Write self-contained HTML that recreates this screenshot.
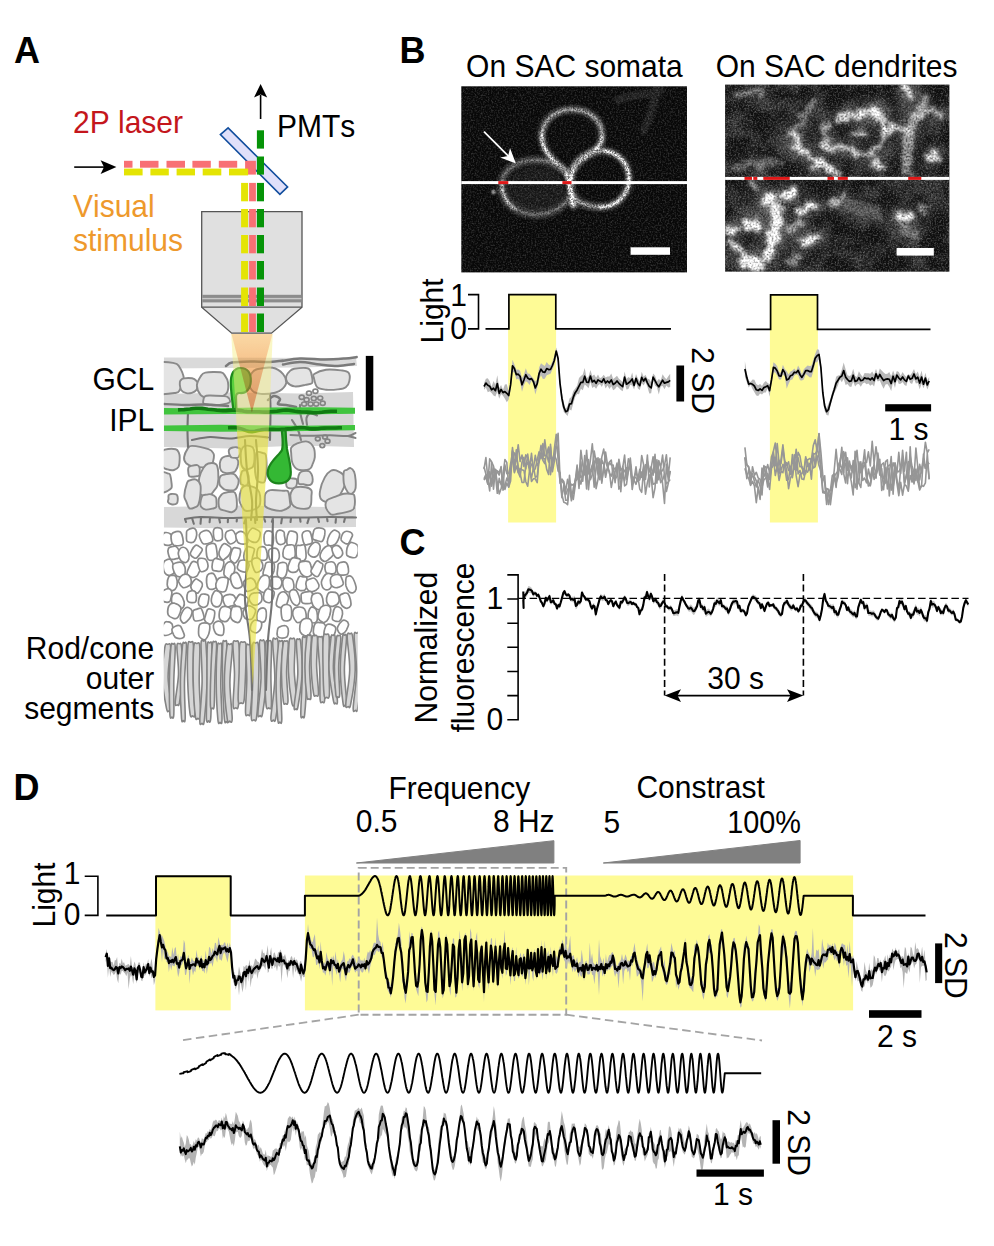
<!DOCTYPE html>
<html><head><meta charset="utf-8"><title>Figure</title>
<style>
html,body{margin:0;padding:0;background:#fff;}
body{width:994px;height:1246px;overflow:hidden;}
svg{display:block;}
text{font-family:"Liberation Sans",sans-serif;font-size:30px;fill:#000;font-kerning:none;}
.b{font-weight:bold;font-size:36px;}
</style></head><body>
<svg width="994" height="1246" viewBox="0 0 994 1246">
<text transform="translate(14 63.2) scale(1 1.04)" class="b">A</text>
<text transform="translate(73 132.8) scale(1 1.04)" style="fill:#c4161c">2P laser</text>
<text transform="translate(73 216.8) scale(1 1.04)" style="fill:#ee992c">Visual</text>
<text transform="translate(73 251.3) scale(1 1.04)" style="fill:#ee992c">stimulus</text>
<text transform="translate(277 136.5) scale(1 1.04)">PMTs</text>
<text transform="translate(154.2 390.3) scale(1 1.04)" text-anchor="end">GCL</text>
<text transform="translate(154.2 430.5) scale(1 1.04)" text-anchor="end">IPL</text>
<text transform="translate(154.2 658.6) scale(1 1.04)" text-anchor="end">Rod/cone</text>
<text transform="translate(154.2 688.5) scale(1 1.04)" text-anchor="end">outer</text>
<text transform="translate(154.2 718.6) scale(1 1.04)" text-anchor="end">segments</text>
<path d="M74.2 167.1H104" stroke="#000" stroke-width="1.6" fill="none"/>
<path d="M116.4 167.1L100.6 160.3L104 167.1L100.6 174Z" fill="#000"/>
<path d="M260.6 119V95" stroke="#000" stroke-width="1.6" fill="none"/>
<path d="M260.6 84L254 97.5L260.6 94.5L267.2 97.5Z" fill="#000"/>
<path d="M201.7 211.6H302V307.2L271.5 333.2H231.7L201.7 307.2Z" fill="#e0e0e0" stroke="#555" stroke-width="1.3" stroke-linejoin="miter"/>
<rect x="202.3" y="294.8" width="99.1" height="7.6" fill="#8c8c8c"/>
<rect x="202.3" y="297.9" width="99.1" height="1.4" fill="#c8c8c8"/>
<path d="M201.7 307.2H302" stroke="#555" stroke-width="1.3"/>
<path d="M228.1 127.9L220.4 134.6L279.9 194.3L287.6 186.9Z" fill="#e0e0fa" stroke="#124e9e" stroke-width="1.6" stroke-linejoin="miter"/>
<rect x="124" y="160.8" width="8.5" height="6.9" fill="#f87074"/>
<rect x="140" y="160.8" width="18.5" height="6.9" fill="#f87074"/>
<rect x="166.5" y="160.8" width="18.5" height="6.9" fill="#f87074"/>
<rect x="192.4" y="160.8" width="18.4" height="6.9" fill="#f87074"/>
<rect x="218.8" y="160.8" width="18.4" height="6.9" fill="#f87074"/>
<rect x="245.1" y="160.8" width="10.8" height="13.8" fill="#f87074"/>
<rect x="124" y="168.6" width="18.6" height="6.8" fill="#e4e404"/>
<rect x="150.4" y="168.6" width="18.4" height="6.8" fill="#e4e404"/>
<rect x="176.6" y="168.6" width="18.4" height="6.8" fill="#e4e404"/>
<rect x="202.7" y="168.6" width="18.6" height="6.8" fill="#e4e404"/>
<rect x="229" y="168.6" width="19.1" height="6.8" fill="#e4e404"/>
<rect x="241.1" y="182.9" width="7" height="18.4" fill="#e4e404"/>
<rect x="249.1" y="182.9" width="6.8" height="18.4" fill="#f87074"/>
<rect x="241.1" y="209" width="7" height="18.3" fill="#e4e404"/>
<rect x="249.1" y="209" width="6.8" height="18.3" fill="#f87074"/>
<rect x="241.1" y="235" width="7" height="18.3" fill="#e4e404"/>
<rect x="249.1" y="235" width="6.8" height="18.3" fill="#f87074"/>
<rect x="241.1" y="261" width="7" height="18.5" fill="#e4e404"/>
<rect x="249.1" y="261" width="6.8" height="18.5" fill="#f87074"/>
<rect x="241.1" y="287.5" width="7" height="18.5" fill="#e4e404"/>
<rect x="249.1" y="287.5" width="6.8" height="18.5" fill="#f87074"/>
<rect x="241.1" y="313.5" width="7" height="18.5" fill="#e4e404"/>
<rect x="249.1" y="313.5" width="6.8" height="18.5" fill="#f87074"/>
<rect x="256.9" y="130.3" width="7.1" height="18.3" fill="#069408"/>
<rect x="256.9" y="156.5" width="7.1" height="18.1" fill="#069408"/>
<rect x="256.9" y="182.9" width="7.1" height="18.4" fill="#069408"/>
<rect x="256.9" y="209" width="7.1" height="18.3" fill="#069408"/>
<rect x="256.9" y="235" width="7.1" height="18.3" fill="#069408"/>
<rect x="256.9" y="261" width="7.1" height="18.5" fill="#069408"/>
<rect x="256.9" y="287.5" width="7.1" height="18.5" fill="#069408"/>
<rect x="256.9" y="313.5" width="7.1" height="18.5" fill="#069408"/>
<defs><clipPath id="cr"><rect x="163.8" y="330" width="194" height="400"/></clipPath></defs><g clip-path="url(#cr)">
<path d="M163.8 357.5 L356 358 L357 366 L300 367.5 L163.8 368.5Z" fill="#dadada"/>
<path d="M163.8 394 L230 392.5 L300 393.5 L353 392 L354 447 L300 445.5 L230 448.5 L163.8 447Z" fill="#d6d6d6"/>
<path d="M163.8 507 L240 505.5 L356 507.5 L356 527 L240 528.5 L163.8 527.5Z" fill="#d8d8d8"/>
<g fill="#e4e4e4" stroke="#8a8a8a" stroke-width="1.9"><path d="M183.7 378.2C183.8 382.4 180.9 388.1 179.4 390.6C177.9 393 178.3 392.4 174.5 393C170.6 393.6 160.2 394.6 156.5 394C152.8 393.4 153.6 391.8 152.4 389.3C151.2 386.8 149 382.8 149.1 379C149.3 375.2 151.6 369.3 153.1 366.6C154.7 363.8 155.3 363.1 158.6 362.5C161.9 361.9 169.6 362.3 172.9 362.9C176.3 363.5 177 363.3 178.8 365.9C180.5 368.5 183.6 374.1 183.7 378.2Z"/><path d="M198.1 384.5C198.1 386 197.5 388.6 196.5 389.9C195.4 391.3 193.5 392.3 191.8 392.8C190.2 393.3 188.1 393.5 186.3 393.1C184.6 392.7 182.4 391.8 181.3 390.3C180.2 388.9 180 386.1 179.8 384.5C179.7 382.9 179.7 381.7 180.4 380.6C181.1 379.6 182.1 378.7 184.1 378.4C186 378 190 377.9 192.1 378.3C194.1 378.7 195.5 379.9 196.5 381C197.5 382 198.1 383 198.1 384.5Z"/><path d="M228 382.3C228.4 385.2 228.4 390.5 226.7 393C225.1 395.6 221.4 396.8 218.1 397.6C214.7 398.4 209.3 398 206.5 397.6C203.6 397.2 202.3 397.1 200.7 395.1C199.1 393.1 196.9 388.8 196.9 385.7C196.9 382.7 199.2 378.8 200.6 376.6C202 374.4 202 373.3 205.3 372.6C208.7 371.8 217.5 371.8 220.7 372.3C224 372.8 223.7 373.9 224.9 375.6C226.1 377.3 227.7 379.4 228 382.3Z"/><path d="M230.2 401.4C230.1 402.4 229.1 402.8 227.4 403.4C225.6 404 222.2 404.6 219.7 404.9C217.1 405.2 214.9 405.4 212.3 405.2C209.6 404.9 205.4 404.3 203.9 403.6C202.4 402.8 203.1 401.8 203.3 400.6C203.4 399.5 203.8 397.4 204.7 396.5C205.7 395.7 206.1 395.6 209.1 395.5C212.1 395.4 219.5 395.8 222.6 396C225.8 396.3 226.5 396.2 227.7 397.1C229 397.9 230.2 400.3 230.2 401.4Z"/><path d="M286.2 382.8C285.9 385.4 283.5 387.9 281.7 389.5C279.8 391.2 278.5 392 275 392.7C271.5 393.5 264.6 394.3 260.8 393.9C257.1 393.6 254.6 392.9 252.5 390.8C250.5 388.8 248.6 384.8 248.5 381.7C248.5 378.7 250.6 374.7 252.2 372.5C253.8 370.4 254.5 369.8 257.9 369C261.4 368.2 268.6 366.9 272.8 367.8C277 368.6 280.8 371.6 283.1 374.1C285.3 376.6 286.4 380.2 286.2 382.8Z"/><path d="M312.1 377.3C312.4 379.4 313.1 381.8 312 383.1C310.9 384.3 308.3 384.3 305.3 384.9C302.4 385.5 297.6 386.8 294.6 386.4C291.6 386 288.7 384 287.3 382.3C285.9 380.6 285.8 378 286.2 376.2C286.6 374.3 288.5 372.3 289.8 371.1C291.2 369.9 291.4 369.4 294.1 368.8C296.9 368.3 303.6 367.7 306.3 368C309 368.2 309.3 368.8 310.2 370.4C311.2 371.9 311.8 375.2 312.1 377.3Z"/><path d="M349.4 380.8C349 383.2 347.7 385.8 345.8 387.2C343.8 388.7 341 389 337.7 389.4C334.5 389.8 329.5 390.1 326.1 389.7C322.7 389.3 319.2 389.1 317.2 387.1C315.1 385.2 314.4 380.2 313.9 378C313.4 375.9 312.2 375.3 314.2 374C316.3 372.6 321.6 370.3 326 369.7C330.5 369.1 337.4 369.9 341.1 370.4C344.8 370.9 347.1 371 348.5 372.7C349.9 374.4 349.9 378.4 349.4 380.8Z"/><path d="M179.7 457.5C179.7 459.8 179.5 464.5 178.6 466.6C177.6 468.6 175.8 469.5 174 470C172.1 470.5 169.3 470 167.5 469.4C165.6 468.9 163.9 468.8 162.6 466.7C161.3 464.7 159.8 459.4 159.5 457.1C159.2 454.9 159.7 454.5 160.6 453.2C161.5 452 162.3 450.4 164.8 449.7C167.4 449 173.4 448.7 175.7 449.2C178 449.7 178.1 451.3 178.8 452.7C179.4 454 179.7 455.2 179.7 457.5Z"/><path d="M213.8 457.8C213.4 460.1 212.3 465.4 211 466.9C209.6 468.5 208.6 467.4 205.7 467.4C202.8 467.3 197.1 467.4 193.8 466.7C190.5 466 187.7 464.7 186.1 463.2C184.5 461.6 183.8 459.6 184.1 457.2C184.4 454.8 186.4 450.5 187.7 448.6C189.1 446.8 188.7 445.8 192.2 445.9C195.6 446 204.9 448 208.5 449.2C212 450.4 212.6 451.8 213.4 453.3C214.3 454.7 214.2 455.6 213.8 457.8Z"/><path d="M199.7 472.1C199.7 473.4 199.8 475 199.1 475.7C198.4 476.4 196.9 476.2 195.8 476.4C194.6 476.6 193.1 476.9 192 476.8C190.8 476.7 189.6 477 189 475.8C188.3 474.6 188.2 471.2 188.1 469.7C188.1 468.2 188.5 467.5 189 466.8C189.4 466.2 189.6 466.2 191 465.9C192.4 465.6 195.9 464.8 197.3 465.1C198.8 465.4 199.1 466.5 199.5 467.6C199.9 468.8 199.8 470.7 199.7 472.1Z"/><path d="M217.6 484.9C216.9 488 215.5 488.8 214 490.7C212.6 492.6 211 495.8 208.7 496.4C206.4 497 202.1 495.7 200.4 494.3C198.7 492.9 198.7 491 198.5 488.2C198.4 485.4 198.5 480.9 199.3 477.5C200.1 474 202 470.1 203.5 467.8C205 465.5 206.3 464.1 208.3 463.5C210.4 463 214.3 462.9 216 464.3C217.6 465.6 217.9 468.3 218.2 471.7C218.5 475.1 218.3 481.7 217.6 484.9Z"/><path d="M200.3 495.4C200 498.7 199.2 502.8 198.4 504.7C197.6 506.7 196.8 506.5 195.3 507.1C193.8 507.7 191 509.4 189.5 508.4C188 507.5 187.1 503.5 186.2 501.4C185.4 499.3 184.2 498.8 184.3 495.7C184.4 492.6 186.1 485.6 187 483C187.9 480.4 188.4 480.8 189.9 480.3C191.4 479.7 194.5 478.8 196.2 479.6C198 480.3 199.7 482.2 200.4 484.9C201.1 487.5 200.6 492.1 200.3 495.4Z"/><path d="M216.5 502.1C216.6 503.8 216.8 506 216.2 507C215.6 508.1 214.6 508 212.9 508.5C211.2 508.9 207.8 509.8 205.9 509.6C204 509.4 202.3 508.2 201.4 507.2C200.5 506.2 200.1 505.6 200.3 503.7C200.5 501.8 201.4 497.3 202.4 495.8C203.5 494.3 205.3 494.9 206.7 494.6C208.2 494.4 209.6 493.8 211.1 494.3C212.7 494.7 214.9 496 215.8 497.3C216.7 498.6 216.4 500.5 216.5 502.1Z"/><path d="M171.6 483.7C171.8 485.9 172.1 486.9 171.4 488.1C170.7 489.3 169.1 490.1 167.6 490.9C166 491.6 163.5 492.9 162.1 492.7C160.7 492.5 159.5 491.4 158.9 489.8C158.4 488.1 158.7 485.1 158.7 482.7C158.6 480.3 158.3 477.1 158.9 475.3C159.5 473.6 160.7 472.4 162.3 472.1C163.8 471.8 166.7 473 168 473.5C169.3 473.9 169.5 473.1 170.1 474.8C170.7 476.6 171.4 481.5 171.6 483.7Z"/><path d="M177.8 498.7C177.8 499.9 177.7 501.8 177.3 502.7C176.9 503.7 176.5 503.9 175.6 504.1C174.6 504.4 172.7 504.7 171.5 504.3C170.2 504 168.5 503 168 502.1C167.5 501.2 168.4 499.9 168.5 498.8C168.6 497.6 168.2 496.1 168.6 495.3C169.1 494.5 169.9 494.2 171 494C172 493.8 174.1 493.9 175.1 494.1C176.1 494.3 176.6 494.4 177.1 495.2C177.5 495.9 177.8 497.4 177.8 498.7Z"/><path d="M238.2 463.9C238 465.9 236.5 469.4 235.6 470.8C234.7 472.2 234.4 472 232.8 472.4C231.3 472.8 228.2 473.4 226.3 473.1C224.3 472.8 222.3 472.4 221.2 470.8C220.1 469.2 219.7 465.4 219.8 463.4C219.9 461.3 220.8 459.6 221.7 458.4C222.7 457.2 223.6 456.8 225.3 456.4C227 456 230 455.5 232 456C234 456.4 236.3 457.8 237.3 459.2C238.4 460.5 238.5 462 238.2 463.9Z"/><path d="M238.7 480.8C238.8 482.7 237.6 486.2 236.8 487.7C236 489.2 235.7 489.7 233.8 490.1C232 490.4 227.6 490.3 225.7 489.9C223.7 489.5 223.2 488.6 222.2 487.7C221.1 486.7 219.8 485.9 219.5 484C219.2 482.2 219.1 478.1 220.4 476.4C221.6 474.8 224.9 474.4 227.1 474C229.2 473.5 231.9 473.4 233.4 473.8C235 474.2 235.5 475.2 236.4 476.4C237.3 477.5 238.7 478.9 238.7 480.8Z"/><path d="M236.9 503.2C236.9 505.3 237.1 507.2 236.3 508.7C235.4 510.2 233.6 511.9 231.8 512.2C230.1 512.6 227.8 511.4 225.7 510.8C223.7 510.2 220.8 510.4 219.6 508.5C218.5 506.6 218.5 501.5 218.7 499.4C218.9 497.3 219.9 496.7 220.7 495.7C221.5 494.7 221.6 493.9 223.8 493.2C225.9 492.6 231.6 491.5 233.7 491.9C235.7 492.3 235.6 493.9 236.1 495.8C236.6 497.6 236.9 501 236.9 503.2Z"/><path d="M240.6 452C240.5 453.2 239.9 454.6 239.4 455.5C238.9 456.5 239 457.2 237.8 457.6C236.6 457.9 233.5 457.8 232.2 457.6C230.9 457.3 230.7 457.1 230.2 456C229.6 455 228.7 452.4 228.7 451.1C228.7 449.9 229.5 449.1 230.2 448.5C231 447.9 232.1 447.7 233.1 447.5C234.1 447.3 235.1 447 236.3 447.2C237.5 447.4 239.4 447.8 240.1 448.6C240.8 449.4 240.7 450.8 240.6 452Z"/><path d="M254.5 459.4C254.4 462.2 253.8 464.7 253.2 466.1C252.6 467.6 252.2 467.6 250.9 468.2C249.6 468.8 247 470.2 245.5 469.7C243.9 469.2 242.4 467.7 241.6 465.4C240.8 463 240.8 458.3 240.7 455.8C240.6 453.4 240.7 452.3 241.2 450.7C241.8 449.1 242.3 447 244 446.3C245.6 445.6 249.3 445.8 251 446.4C252.6 446.9 253.2 447.3 253.8 449.5C254.4 451.6 254.6 456.6 254.5 459.4Z"/><path d="M248.7 477.1C248.7 478.7 248.3 481.6 247.9 483.1C247.5 484.7 247 486.1 246.2 486.4C245.4 486.7 243.9 485.5 243 485C242.1 484.5 241.3 484.8 240.8 483.6C240.4 482.3 240.3 479.4 240.4 477.6C240.5 475.7 241.3 473.7 241.6 472.6C241.9 471.5 241.7 471.1 242.5 470.8C243.3 470.5 245.5 470.2 246.4 470.6C247.3 471.1 247.5 472.4 247.8 473.5C248.2 474.6 248.7 475.5 248.7 477.1Z"/><path d="M260.1 495.9C260.4 498.6 260.5 503.4 259.5 505.7C258.6 507.9 256.7 508.6 254.4 509.4C252 510.3 247.6 511.2 245.6 510.8C243.6 510.4 243.3 508.7 242.3 507C241.3 505.2 239.6 503.4 239.4 500.3C239.3 497.3 240.5 491.2 241.6 488.7C242.7 486.2 244.3 485.9 246.1 485.5C247.9 485.2 250.5 486.1 252.4 486.7C254.3 487.4 256.3 488 257.6 489.5C258.9 491 259.8 493.2 260.1 495.9Z"/><path d="M266.6 466.8C266.6 470.3 266.2 473.4 265.8 475.9C265.3 478.5 265.4 481.3 264.1 482.2C262.7 483.1 259.2 482.4 257.7 481.3C256.3 480.1 256 478 255.6 475.5C255.1 473 254.9 469.6 254.9 466.4C254.9 463.2 255.1 458.8 255.5 456.4C256 454 256.1 452.5 257.4 452C258.6 451.4 261.7 452.6 263.1 453.1C264.5 453.6 265.2 452.8 265.8 455.1C266.4 457.4 266.6 463.4 266.6 466.8Z"/><path d="M314.8 457.1C314.6 459.7 313.7 461.5 312.8 463.5C312 465.5 312.1 467.9 309.6 469C307.2 470 301 470.7 298.2 469.7C295.3 468.7 293.5 465.7 292.4 463C291.2 460.2 291.4 456 291.2 453.4C291 450.8 290.3 449.2 291.3 447.5C292.3 445.9 294.5 444.4 297.2 443.4C299.9 442.4 304.6 440.8 307.4 441.6C310.2 442.3 312.6 445.3 313.8 447.8C315 450.4 314.9 454.5 314.8 457.1Z"/><path d="M312.7 479.3C312.8 480.8 312.6 482.6 311.8 483.6C311.1 484.6 309.5 485.2 308.1 485.3C306.7 485.4 305.1 484.6 303.5 484.3C302 484.1 299.8 484.7 298.9 483.8C298 482.9 297.9 480.5 298 478.7C298.2 477 298.9 474.4 299.7 473.1C300.6 471.8 301.8 471.4 303.3 471.1C304.8 470.7 307.3 470.6 308.7 471.1C310.1 471.6 310.8 472.8 311.5 474.1C312.2 475.5 312.7 477.7 312.7 479.3Z"/><path d="M297.1 481.8C297.1 483.1 296.6 485.4 296.1 486.4C295.5 487.5 294.9 488 293.8 488.3C292.6 488.6 290.4 488.5 289.3 488.2C288.1 488 287.3 487.5 286.8 486.8C286.3 486.1 286.3 485.3 286.2 484.1C286.1 482.9 285.8 480.5 286.2 479.5C286.7 478.6 287.8 478.5 288.9 478.3C289.9 478.1 291.4 478.4 292.6 478.5C293.8 478.6 295.4 478.5 296.2 479.1C296.9 479.6 297.1 480.6 297.1 481.8Z"/><path d="M311.4 496.2C311.4 498.7 311.5 503 310.8 505C310.1 507.1 309.7 508.1 307.4 508.5C305.1 509 299.4 508.5 296.8 507.8C294.3 507.1 293.1 506.3 292 504.3C290.9 502.2 290.3 497.8 290.3 495.6C290.3 493.3 291 492.2 291.9 490.8C292.8 489.4 293.4 487.8 295.6 487.3C297.9 486.7 302.9 486.8 305.5 487.3C308.1 487.8 310.3 488.7 311.3 490.2C312.3 491.7 311.5 493.8 311.4 496.2Z"/><path d="M290 502C290.2 504.5 291.1 505.1 289.7 506.5C288.3 508 284.7 510.2 281.7 510.7C278.6 511.2 274.4 510.2 271.7 509.5C269 508.8 266.5 507.7 265.4 506.5C264.2 505.2 264.7 504.1 264.7 502C264.7 499.9 264.4 495.9 265.3 493.9C266.2 491.9 267.4 490.6 270.4 490.1C273.3 489.6 280.1 490.5 283.1 490.8C286.1 491 287.1 489.7 288.2 491.6C289.4 493.4 289.7 499.5 290 502Z"/><path d="M343.8 487.7C342.2 491.1 338.6 497.7 336.4 500.2C334.2 502.6 333 502.6 330.5 502.5C328 502.4 323.2 501.6 321.5 499.7C319.7 497.8 319.4 494.6 320 490.9C320.5 487.2 322.9 480.8 324.8 477.4C326.6 474.1 328.9 471.9 330.8 470.8C332.7 469.6 334.1 469.7 336.2 470.4C338.4 471.2 342.1 473.5 343.7 475.1C345.3 476.7 345.6 477.8 345.6 479.9C345.6 482 345.3 484.3 343.8 487.7Z"/><path d="M355.6 480C355.8 482.9 355.9 486.8 355.4 488.9C354.9 491.1 353.8 492.2 352.8 493C351.8 493.8 350.4 494.4 349.3 493.8C348.2 493.2 347 491.2 346.1 489.4C345.2 487.6 344.2 486.1 343.8 483.1C343.5 480.2 343.4 473.8 343.8 471.7C344.3 469.5 345.5 470.5 346.7 469.9C347.8 469.3 349.4 467.7 350.6 468.1C351.9 468.4 353.3 470 354.2 472C355 474 355.4 477.2 355.6 480Z"/><path d="M354.6 497.2C354.9 499.4 354.9 505.3 354.2 507.6C353.5 509.9 353.4 509.8 350.6 510.9C347.9 511.9 341.1 513.3 337.8 513.8C334.5 514.4 332.8 515.5 330.8 514.3C328.8 513.2 326.4 509.3 325.8 506.9C325.2 504.5 325.7 501.8 327.2 500.1C328.7 498.5 332.1 497.8 334.8 496.8C337.6 495.7 340.9 494.1 343.8 493.7C346.8 493.3 350.7 493.7 352.5 494.2C354.3 494.8 354.3 494.9 354.6 497.2Z"/></g>
<g fill="#fff" stroke="#8a8a8a" stroke-width="1.7"><path d="M173.1 538.5C173.5 540 173.4 541.5 172.8 542.6C172.3 543.7 171.4 544.9 169.8 545.2C168.3 545.5 165.2 545.3 163.7 544.3C162.2 543.3 161.2 540.6 161 539.1C160.8 537.6 161.7 536.4 162.3 535.4C163 534.3 163.5 532.9 164.9 532.6C166.3 532.4 169.2 533 170.5 534C171.9 535 172.7 537.1 173.1 538.5Z"/><path d="M182.8 538C183.2 540 183.5 542.9 183 544.1C182.6 545.4 181.5 545.3 180 545.5C178.5 545.7 175.4 546 173.9 545.3C172.5 544.6 171.9 543.2 171.5 541.4C171.1 539.6 170.7 536 171.5 534.4C172.3 532.8 174.5 532 176 531.6C177.5 531.3 179.4 531.1 180.5 532.2C181.6 533.3 182.4 536 182.8 538Z"/><path d="M196.7 534.9C196.5 536.8 195.3 540 194.4 541.3C193.5 542.6 192.8 542.7 191.5 542.7C190.3 542.6 187.8 542.7 187 541.2C186.1 539.8 186.5 535.8 186.5 534C186.6 532.2 186.2 531.5 187.2 530.5C188.2 529.5 191.3 528.2 192.8 528.1C194.2 528 195 528.5 195.7 529.7C196.3 530.8 196.9 533 196.7 534.9Z"/><path d="M212 536C212.6 537.7 213.3 539.9 212.5 541.1C211.8 542.4 209.2 543.1 207.6 543.6C206.1 544 204.3 544.2 203.2 543.7C202.1 543.2 201.5 542 200.9 540.5C200.2 539.1 199 536.5 199.3 535C199.7 533.5 201.3 532 202.9 531.3C204.4 530.6 207.2 530.1 208.7 530.9C210.2 531.7 211.4 534.3 212 536Z"/><path d="M222.4 533.2C222.5 534.9 222.7 537.9 221.9 539.2C221.1 540.5 218.6 540.9 217.4 540.9C216.2 540.9 215.2 540.6 214.5 539.4C213.8 538.2 213.5 535.5 213.4 533.7C213.3 532 213.4 530.1 214 529.1C214.6 528.1 215.9 527.6 217.2 527.6C218.4 527.6 220.6 528.1 221.5 529C222.4 530 222.4 531.5 222.4 533.2Z"/><path d="M235.8 535.2C236.4 536.7 236.9 537.9 236.7 539.1C236.4 540.2 235.5 541.6 234.3 542.4C233.2 543.2 231.1 544.4 229.7 543.8C228.3 543.2 226.5 540.2 225.8 538.7C225 537.2 225.2 535.9 225.4 534.7C225.6 533.5 225.7 532.4 226.8 531.6C228 530.9 231.1 529.6 232.5 530.2C234 530.8 235.1 533.8 235.8 535.2Z"/><path d="M246.5 536.1C247.3 537.8 248.1 540.7 247.9 542C247.6 543.3 246.3 543.7 245 543.9C243.8 544.2 241.6 544.1 240.4 543.7C239.1 543.3 238.3 543 237.5 541.7C236.7 540.3 235.7 537.2 235.7 535.6C235.7 534.1 236.5 533 237.7 532.4C238.9 531.7 241.5 531.2 243 531.9C244.4 532.5 245.7 534.4 246.5 536.1Z"/><path d="M259.3 538.6C258.8 540.2 258.1 541.4 256.9 541.9C255.7 542.5 253.6 542.5 252.1 541.9C250.6 541.3 248.5 539.8 247.7 538.6C247 537.3 247 536 247.6 534.3C248.3 532.6 250.5 529.3 251.8 528.4C253.1 527.6 253.9 528.4 255.3 529C256.6 529.6 259.4 530.6 260 532.2C260.7 533.8 259.8 537 259.3 538.6Z"/><path d="M273.5 537.6C273.5 539.7 273.2 543.9 272.5 545.2C271.9 546.4 270.8 545.2 269.6 545.1C268.3 545 266.2 545.8 265.2 544.5C264.3 543.2 264 539.5 264 537.4C264 535.3 264.6 533.1 265.5 532C266.3 530.9 267.7 530.8 268.9 530.9C270 531 271.6 531.3 272.4 532.4C273.2 533.6 273.4 535.5 273.5 537.6Z"/><path d="M284.4 535.6C284.7 537.3 285.7 540.6 285.2 542.1C284.7 543.6 282.7 544.3 281.4 544.5C280.2 544.7 278.6 544.4 277.7 543.3C276.8 542.3 276.2 539.9 276.1 538.1C275.9 536.3 276.1 533.9 276.5 532.6C277 531.3 277.5 530.4 278.7 530.3C279.9 530.1 282.7 530.8 283.7 531.7C284.7 532.5 284.2 533.9 284.4 535.6Z"/><path d="M297 540.7C296.7 542.8 296 544.7 295 546C294 547.2 292.5 548.3 291.2 548.2C290 548.1 288.3 546.5 287.5 545.2C286.8 543.8 286.6 542.4 286.8 540.2C287 538 288 533.5 288.9 532C289.8 530.5 290.9 530.9 292.3 531.2C293.6 531.4 296 531.8 296.8 533.4C297.6 535 297.3 538.6 297 540.7Z"/><path d="M311.9 538C312.3 539.8 312.6 541.7 312 542.8C311.3 543.9 309.3 544.2 308.1 544.4C306.8 544.7 305.4 545.4 304.5 544.3C303.5 543.2 302.7 539.5 302.4 537.7C302 535.9 301.9 534.5 302.5 533.4C303 532.3 304.4 531.3 305.7 531C306.9 530.7 308.8 530.5 309.8 531.6C310.9 532.8 311.5 536.1 311.9 538Z"/><path d="M324.7 535C324.3 536.9 323.4 540.3 322.2 541.3C321 542.2 319 541.1 317.5 540.7C315.9 540.3 313.6 540.3 312.9 538.9C312.2 537.5 312.9 534.2 313.3 532.5C313.6 530.8 313.9 529.6 314.9 528.9C316 528.1 318 527.7 319.6 527.9C321.2 528 323.7 528.5 324.6 529.7C325.4 530.8 325 533 324.7 535Z"/><path d="M338 540.2C337.2 542.1 336.2 543.7 334.8 544.6C333.3 545.5 330.4 546.1 329.2 545.7C327.9 545.2 327.2 543.8 327.3 541.9C327.3 540.1 328.6 536.5 329.6 534.6C330.6 532.6 332.3 531 333.3 530.4C334.4 529.7 335 529.9 336 530.5C337.1 531 339.3 532 339.6 533.6C340 535.3 338.8 538.4 338 540.2Z"/><path d="M351.3 538.1C350.7 539.5 349.5 542.8 348.4 543.6C347.3 544.5 346 543.7 344.8 543.2C343.6 542.6 341.8 541.4 341.2 540.1C340.7 538.9 341.1 537.2 341.7 535.8C342.2 534.4 343.3 532.3 344.7 531.7C346.1 531 348.7 531.5 350 532C351.3 532.5 352.2 533.7 352.5 534.8C352.7 535.8 352 536.6 351.3 538.1Z"/><path d="M179.2 551.6C179.6 553.4 179.2 556.5 178.8 557.7C178.3 558.9 177.7 558.5 176.4 558.7C175 559 172 560 170.7 559.1C169.3 558.2 168.6 555.1 168.2 553.3C167.8 551.5 168 549.4 168.5 548.3C169 547.2 170 547.1 171.3 546.8C172.6 546.5 174.9 545.8 176.2 546.6C177.5 547.4 178.8 549.7 179.2 551.6Z"/><path d="M188.7 553.5C189.1 555.3 189.2 557.6 188.8 559.1C188.3 560.5 187.3 562.2 186 562.5C184.7 562.7 182.2 561.9 180.9 560.6C179.7 559.2 178.8 556.3 178.4 554.6C178.1 553 178.3 552 178.8 550.8C179.4 549.6 180.3 547.8 181.6 547.5C182.8 547.1 185.1 547.5 186.3 548.6C187.5 549.6 188.3 551.8 188.7 553.5Z"/><path d="M200.4 553.3C199.6 554.6 198.1 556.7 197.1 557.5C196 558.3 195.5 558.6 194.4 558.1C193.3 557.5 190.9 555.5 190.4 554.3C190 553 190.6 552.2 191.5 550.7C192.3 549.2 194.4 546 195.6 545.3C196.7 544.5 197.3 545.5 198.5 546.1C199.6 546.8 201.9 548.1 202.3 549.2C202.6 550.4 201.3 551.9 200.4 553.3Z"/><path d="M217 552.5C217.3 554.7 217.7 556.1 217 557.4C216.3 558.7 214.2 560 212.8 560.3C211.3 560.6 209.2 560.5 208.1 559.2C207 557.8 206.4 554.3 206.3 552.1C206.1 549.8 206.1 546.9 207 545.5C207.9 544.1 210.4 543.7 211.8 543.5C213.2 543.4 214.6 543 215.4 544.5C216.3 546 216.8 550.4 217 552.5Z"/><path d="M229.4 554.5C228.5 556.2 226.5 557.7 225.4 558.5C224.2 559.4 223.6 560.5 222.6 559.8C221.5 559.2 219.3 556.5 219 554.6C218.6 552.7 219.5 550.1 220.3 548.3C221.1 546.5 222.5 544.4 223.7 543.8C224.8 543.2 226 544 227.2 544.8C228.4 545.5 230.8 546.8 231.1 548.4C231.5 550 230.4 552.8 229.4 554.5Z"/><path d="M239.9 555.6C239.3 557.8 237.4 561.1 236.3 562.2C235.3 563.4 234.6 563.2 233.6 562.7C232.6 562.2 230.7 560.9 230.2 559.3C229.8 557.8 230.4 555.1 231 553.2C231.5 551.4 232.2 548.9 233.4 548C234.5 547.2 236.8 548 237.9 548.2C239.1 548.5 240 548.2 240.3 549.4C240.7 550.6 240.6 553.5 239.9 555.6Z"/><path d="M252.7 556.3C252.2 558.2 252.5 560.1 251.4 560.9C250.2 561.8 247.3 561.6 246.1 561.3C244.8 560.9 244.2 560.3 244 558.8C243.7 557.3 243.9 554.3 244.4 552.3C245 550.3 246.1 547.9 247.3 547C248.5 546.2 250.2 547 251.4 547.4C252.6 547.7 254.1 547.8 254.4 549.2C254.6 550.7 253.2 554.3 252.7 556.3Z"/><path d="M267.2 553.6C267.4 555.5 267.4 558.1 266.5 559.2C265.6 560.3 263.1 560.4 261.8 560.4C260.4 560.4 259.3 560 258.5 559.2C257.7 558.4 257 557.4 256.9 555.7C256.8 554 257.3 550.5 257.9 549C258.5 547.5 259.4 547 260.6 546.8C261.8 546.6 264.1 546.6 265.2 547.7C266.3 548.9 266.9 551.7 267.2 553.6Z"/><path d="M279.3 554.5C279.5 556.2 279.3 558 278.7 559.3C278 560.6 276.7 561.9 275.5 562.3C274.3 562.6 272.5 562.1 271.4 561.4C270.3 560.6 269.6 559.5 269.2 557.7C268.7 555.9 268.3 552.1 268.7 550.6C269.1 549 270 548.7 271.4 548.5C272.8 548.2 276 548.1 277.3 549.1C278.6 550.1 279.1 552.8 279.3 554.5Z"/><path d="M295.3 553.8C295.3 555.8 295.1 557 294.3 557.9C293.5 558.9 292.3 559.6 290.6 559.6C289 559.6 285.7 558.9 284.4 557.9C283.1 556.9 282.7 555.4 282.9 553.5C283 551.5 284 547.6 285.2 546.2C286.5 544.8 288.8 544.9 290.3 544.8C291.8 544.8 293.3 544.3 294.1 545.8C295 547.3 295.2 551.8 295.3 553.8Z"/><path d="M305.8 551.1C306 553.3 306.5 556.5 305.8 558.2C305.2 559.9 303.3 561 301.9 561.2C300.5 561.4 298.5 560.2 297.6 559.2C296.6 558.2 296.4 557.3 296.2 555.2C296.1 553 296.1 547.7 296.7 546C297.4 544.4 298.8 545.7 300.1 545.5C301.4 545.3 303.5 544.2 304.5 545.1C305.4 546.1 305.6 549 305.8 551.1Z"/><path d="M319.3 552.5C318.6 554.3 317.3 556 315.9 556.6C314.5 557.2 312 556.9 310.8 556.2C309.5 555.6 308.4 554.3 308.2 552.8C308.1 551.3 308.7 548.8 309.6 547.1C310.6 545.4 312.7 543.3 314 542.6C315.4 541.9 316.8 542.2 317.8 542.8C318.8 543.4 319.8 544.6 320.1 546.2C320.3 547.8 320 550.8 319.3 552.5Z"/><path d="M333.3 554.6C332.5 556.2 329.3 558.9 327.8 560.1C326.3 561.2 325.5 561.9 324.2 561.4C322.9 560.9 320.6 558.8 320.2 557.2C319.7 555.6 320.5 553.4 321.4 551.7C322.2 550 323.9 548 325.3 547C326.7 546 328.7 545.3 329.9 545.8C331.2 546.3 332.2 548.6 332.8 550C333.4 551.5 334.1 552.9 333.3 554.6Z"/><path d="M342.5 551.5C343 553 342.6 554.4 342 555.4C341.4 556.5 340 557.6 338.9 557.9C337.8 558.2 336.4 558 335.4 557.1C334.4 556.2 333.4 554.1 332.8 552.6C332.2 551.2 331.7 549.5 332.1 548.3C332.4 547.1 333.6 545.9 334.8 545.6C336 545.3 338 545.5 339.3 546.5C340.6 547.5 342.1 550 342.5 551.5Z"/><path d="M358.2 551.7C358 553.6 357.1 556 356.1 557C355.1 558 353.9 557.9 352.3 557.6C350.8 557.3 347.8 556.7 346.9 555.2C346.1 553.6 346.7 550.2 347 548.3C347.4 546.4 348.4 544.6 349.2 543.6C350 542.7 350.6 542.3 352 542.5C353.4 542.8 356.4 543.7 357.5 545.2C358.5 546.7 358.4 549.7 358.2 551.7Z"/><path d="M174.2 567C174.9 569 175.6 570.5 174.9 571.8C174.3 573.2 171.6 574.7 170.2 575.2C168.7 575.6 167.4 575.2 166.3 574.5C165.2 573.8 164.2 572.7 163.8 570.8C163.3 568.9 163.1 564.9 163.5 563.1C163.9 561.3 165 560.5 166.2 560C167.4 559.4 169.3 558.5 170.7 559.7C172 560.9 173.5 564.9 174.2 567Z"/><path d="M185 567.3C185.5 569.2 185.3 572 185 573.5C184.6 575 184.1 575.7 182.8 576.2C181.5 576.6 178.6 577 177.1 576.3C175.6 575.6 174.7 573.7 174 571.9C173.2 570.1 172.4 566.9 172.7 565.4C172.9 564 174 563.5 175.5 563C177.1 562.5 180.1 561.8 181.7 562.5C183.3 563.2 184.4 565.5 185 567.3Z"/><path d="M198.6 573.2C197.9 574.8 197.6 575.5 196.5 576.2C195.3 576.9 193.5 577.8 191.9 577.4C190.3 577 187.5 575.5 187.1 573.7C186.7 571.9 188.5 568.6 189.4 566.7C190.2 564.7 191.1 562.7 192.1 562C193.2 561.2 194.4 561.3 195.8 562C197.3 562.8 200.4 564.7 200.9 566.6C201.4 568.4 199.3 571.6 198.6 573.2Z"/><path d="M207.6 563C208 564.4 208.1 566.5 207.7 567.8C207.4 569.1 206.8 570 205.6 570.6C204.5 571.2 202 572.3 200.7 571.4C199.4 570.5 198.6 566.9 198.1 565.1C197.6 563.3 197.6 561.7 197.8 560.6C198 559.5 198.3 558.7 199.5 558.4C200.8 558.2 204 558.4 205.3 559.1C206.6 559.9 207.2 561.5 207.6 563Z"/><path d="M223.7 564.5C223.4 566.2 222.4 569.8 221.1 570.8C219.9 571.9 217.5 571.1 216.1 570.9C214.7 570.8 213.2 571.2 212.6 569.9C212 568.6 212 565 212.4 563.1C212.7 561.3 213.7 559.4 214.6 558.7C215.6 558 216.6 558.6 218 558.9C219.4 559.2 222.2 559.6 223.2 560.5C224.1 561.5 224.1 562.8 223.7 564.5Z"/><path d="M234.6 570.4C234.2 572.3 233.4 575.8 232.6 577.3C231.7 578.8 230.8 579.7 229.4 579.4C228 579 225.2 576.7 224.3 575.2C223.5 573.7 223.9 572.2 224.1 570.4C224.4 568.5 224.7 565.6 225.8 564.2C227 562.8 229.7 561.5 231.1 561.8C232.6 562.1 234 564.4 234.6 565.8C235.1 567.3 234.9 568.5 234.6 570.4Z"/><path d="M248.8 566.6C248.4 568.1 247.5 571.2 246.1 571.9C244.8 572.7 242.2 571.7 240.7 571.1C239.3 570.6 237.9 569.8 237.5 568.6C237.1 567.5 237.6 565.4 238.1 564.1C238.5 562.7 239 561.3 240.3 560.6C241.6 560 244.5 560 245.9 560.4C247.3 560.8 248.1 561.9 248.6 562.9C249.1 564 249.3 565.1 248.8 566.6Z"/><path d="M262.2 562.9C262.9 564.6 262.9 566.8 262.4 568.3C261.9 569.7 260.1 571.2 258.9 571.8C257.8 572.4 256.3 572.9 255.3 572C254.2 571.1 253.3 568.1 252.7 566.3C252.1 564.5 251.7 562.4 251.8 561.2C252 559.9 252.3 559.2 253.4 558.7C254.5 558.2 257 557.5 258.4 558.2C259.9 558.9 261.5 561.2 262.2 562.9Z"/><path d="M274 570.9C273.4 572.9 272.2 575 271 576.1C269.9 577.3 268.4 578.3 267 578C265.7 577.7 263.4 576.1 263.1 574.2C262.7 572.3 264.3 568.6 264.9 566.7C265.4 564.7 265.3 563.3 266.5 562.6C267.8 561.8 271 562.1 272.2 562.3C273.5 562.5 273.9 562.6 274.2 564C274.5 565.5 274.5 568.9 274 570.9Z"/><path d="M286.9 571.7C286.6 573.6 286.1 575.2 285.3 576.3C284.5 577.4 283.4 578.4 282 578.3C280.7 578.2 278.1 577.2 277.4 575.5C276.7 573.8 277.6 570.1 277.8 568.2C278 566.2 277.6 564.6 278.7 563.7C279.8 562.8 283 562.3 284.4 562.5C285.8 562.7 286.6 563.4 287 564.9C287.5 566.5 287.2 569.8 286.9 571.7Z"/><path d="M299.4 566.7C298.8 568.6 298.1 570.6 296.7 571.5C295.3 572.4 292.6 572.4 291.2 572.1C289.7 571.7 288.5 570.6 288.1 569.4C287.6 568.2 287.9 566.7 288.6 564.8C289.2 562.9 290.5 559.3 292 558.2C293.5 557.1 295.9 558 297.3 558.3C298.8 558.6 300.2 558.6 300.5 560C300.9 561.4 300.1 564.8 299.4 566.7Z"/><path d="M310.9 565.5C311.5 567.5 312.1 571.7 311.8 573.5C311.5 575.3 310.5 576.1 309 576.5C307.6 576.9 305 577 303.3 575.8C301.6 574.6 299.7 571.3 299 569.3C298.3 567.3 298.5 564.9 299 563.6C299.4 562.4 300.1 562 301.7 561.7C303.3 561.3 307 561 308.6 561.6C310.1 562.3 310.4 563.6 310.9 565.5Z"/><path d="M321.6 569.8C320.8 571.8 319.3 575.2 318.2 576.2C317 577.2 316.1 576.7 314.9 575.9C313.7 575.2 311.3 573.2 310.9 571.8C310.5 570.4 311.6 569.3 312.6 567.5C313.6 565.7 315.4 561.9 316.8 561.1C318.1 560.3 319.6 562.2 320.6 562.7C321.7 563.3 322.7 563.4 322.9 564.6C323 565.7 322.4 567.9 321.6 569.8Z"/><path d="M335.9 566.6C336.2 568.3 336 571.2 335.5 572.4C334.9 573.6 334.4 573.6 332.9 573.8C331.4 573.9 328 574 326.7 573.2C325.4 572.5 325.2 570.7 325 569.1C324.9 567.5 325 564.8 325.7 563.7C326.5 562.5 328.1 562.2 329.4 562C330.7 561.7 332.6 561.6 333.7 562.4C334.8 563.2 335.6 565 335.9 566.6Z"/><path d="M348.4 568.6C348.7 570.5 348.6 573 347.7 574C346.8 575.1 344.4 575.1 342.9 575.2C341.5 575.2 340.1 575.3 339.1 574.5C338.1 573.8 337.3 572.3 337.1 570.7C336.8 569.1 337.2 566.1 337.8 564.7C338.5 563.3 339.6 562.7 341 562.3C342.3 562 344.9 561.6 346.1 562.6C347.4 563.7 348.2 566.7 348.4 568.6Z"/><path d="M177.2 584.2C177.1 586.2 176.1 588.3 175 589.4C173.9 590.5 171.7 590.8 170.6 590.7C169.6 590.5 169.3 589.6 168.7 588.6C168.1 587.6 167.2 586.5 167.2 584.5C167.2 582.5 167.8 578.3 168.8 576.7C169.8 575.2 171.9 575.2 173.1 575.2C174.4 575.3 175.5 575.7 176.2 577.2C176.8 578.7 177.4 582.1 177.2 584.2Z"/><path d="M190.8 578.6C191.3 580.1 191.6 582.5 191 583.8C190.4 585.2 188.6 586.1 187.2 586.8C185.8 587.4 184.2 588.3 182.8 587.5C181.4 586.8 179.3 583.5 178.7 582C178.2 580.5 178.7 579.7 179.4 578.5C180.1 577.3 181.5 575.5 183 574.8C184.4 574.2 186.7 574.1 188 574.7C189.3 575.3 190.3 577 190.8 578.6Z"/><path d="M202.2 586.3C201.6 588 199.3 591.8 198.2 592.8C197.1 593.8 196.5 593.1 195.4 592.4C194.2 591.8 192.1 590.1 191.4 588.8C190.7 587.6 190.5 586.5 191.2 584.9C191.8 583.4 194 580.2 195.1 579.3C196.2 578.3 196.5 578.8 197.6 579.4C198.8 580 201 581.5 201.8 582.6C202.6 583.8 202.8 584.6 202.2 586.3Z"/><path d="M216.9 581.4C217.2 583.3 217.1 585.2 216.5 586.5C215.9 587.8 214.8 588.8 213.4 589.1C212.1 589.4 209.6 589.3 208.4 588.3C207.3 587.2 206.7 584.7 206.6 582.6C206.4 580.4 206.5 576.9 207.4 575.3C208.3 573.8 210.7 573.3 211.9 573.2C213.2 573.2 213.9 573.8 214.7 575.2C215.6 576.5 216.6 579.6 216.9 581.4Z"/><path d="M227.2 586.4C226.8 588.4 226.3 590.2 225.4 591.2C224.4 592.1 222.8 592.1 221.4 591.9C220.1 591.7 218.2 591.2 217.3 589.9C216.3 588.7 215.6 586.1 215.8 584.2C216 582.3 217.1 579.7 218.6 578.5C220.1 577.4 223.1 577.2 224.7 577.3C226.3 577.3 227.6 577.6 228 579.1C228.4 580.6 227.7 584.4 227.2 586.4Z"/><path d="M240.3 577.8C241 579.9 242.6 584 242.2 585.7C241.9 587.5 239.6 588 238.3 588.3C236.9 588.6 235.2 588.4 234.1 587.5C233 586.7 232.1 585.1 231.5 583.3C230.9 581.4 230.1 578 230.6 576.2C231.1 574.5 233.4 573.1 234.7 572.6C235.9 572.2 237.1 572.7 238 573.6C239 574.5 239.6 575.8 240.3 577.8Z"/><path d="M255.8 583.4C256.4 585 256.5 586.5 255.5 587.7C254.6 588.9 251.6 590.1 250.1 590.7C248.7 591.3 247.5 591.9 246.6 591.3C245.6 590.8 244.8 588.8 244.3 587.2C243.8 585.6 243.1 583.2 243.6 581.9C244 580.6 245.4 579.9 246.8 579.3C248.2 578.7 250.6 577.7 252.1 578.4C253.6 579 255.3 581.8 255.8 583.4Z"/><path d="M269 586.2C268.3 588.3 266.5 591.3 265.2 592.2C263.9 593.1 262.5 592.4 261.1 591.7C259.8 590.9 257.4 589.5 257 587.7C256.6 585.9 257.8 582.7 258.7 580.7C259.7 578.7 261 576.5 262.6 575.7C264.1 574.9 266.8 575.2 267.9 575.9C269.1 576.5 269.3 577.8 269.5 579.5C269.6 581.2 269.7 584.1 269 586.2Z"/><path d="M281.7 584.3C281.3 585.9 280.2 587.9 278.8 588.6C277.4 589.3 274.7 588.8 273.3 588.4C272 588 271.3 587.5 270.9 586.3C270.4 585.1 270.2 582.8 270.5 581.3C270.9 579.7 271.7 577.8 272.9 577.1C274.2 576.4 276.7 576.7 278 577C279.4 577.4 280.5 577.8 281.1 579C281.7 580.2 282.1 582.7 281.7 584.3Z"/><path d="M293.9 584.9C294.1 586.6 294.1 588 293.3 589.2C292.5 590.4 290.4 591.9 289 592C287.5 592.1 285.5 591 284.5 589.7C283.4 588.3 282.8 585.6 282.7 583.8C282.6 582 283 579.9 283.8 578.9C284.6 577.9 286 577.6 287.4 577.7C288.8 577.8 291.1 578.3 292.2 579.5C293.2 580.7 293.7 583.3 293.9 584.9Z"/><path d="M306.9 585.9C306.5 587.9 306.1 589.1 304.9 589.9C303.7 590.6 301.1 590.6 299.6 590.3C298.2 589.9 296.6 589.2 296.2 587.8C295.8 586.3 296.5 583.3 297 581.4C297.6 579.6 298.4 577.2 299.5 576.5C300.6 575.7 302.3 576.8 303.5 577C304.7 577.2 306.2 576.2 306.8 577.7C307.3 579.2 307.2 583.9 306.9 585.9Z"/><path d="M318.8 584.5C319.4 586.1 319.2 586.8 318.4 588C317.5 589.1 315.1 590.9 313.5 591.4C312 592 310.5 591.9 309.3 591.3C308.2 590.7 307.2 589.5 306.6 587.8C306.1 586.2 305.5 583 306.2 581.4C306.8 579.9 309.3 579.3 310.7 578.7C312.1 578.2 313.3 577.4 314.6 578.4C316 579.3 318.2 582.9 318.8 584.5Z"/><path d="M332.6 584C331.8 585.9 330.7 588.5 329.2 589.3C327.8 590.1 325.2 589.7 324 588.9C322.7 588.1 321.9 585.8 321.6 584.4C321.2 583 321 582.2 321.8 580.4C322.5 578.7 324.5 575 326.1 574C327.8 572.9 330.3 573.5 331.7 574.2C333 574.9 333.9 576.5 334 578.2C334.2 579.8 333.4 582.2 332.6 584Z"/><path d="M341.8 578.5C342.4 580 344 582.6 343.2 584.2C342.4 585.7 338.9 587.2 337.2 587.6C335.5 588 334 587.4 332.9 586.7C331.8 586.1 331 585.3 330.7 583.8C330.3 582.3 330.2 579 330.9 577.5C331.6 576 333.3 575.3 334.7 574.8C336.2 574.4 338.5 574.4 339.6 575C340.8 575.6 341.2 576.9 341.8 578.5Z"/><path d="M355.3 584C356 586 356.5 587.8 356.1 589.2C355.8 590.7 354.4 592.3 353.2 592.7C352 593.1 350.2 592.7 349 591.6C347.9 590.5 346.6 587.9 346 586C345.5 584 345.6 581.3 345.8 579.8C346 578.2 346 577 347 576.6C348 576.1 350.6 575.8 351.9 577C353.3 578.3 354.6 581.9 355.3 584Z"/><path d="M171.2 597C170.9 598.6 170.7 600.4 169.8 601.3C168.9 602.1 167.3 602.4 166 602.2C164.8 602 163 601.5 162.3 599.9C161.6 598.4 161.4 594.5 161.6 592.9C161.9 591.3 162.5 591 163.8 590.3C165.1 589.6 168 588.5 169.3 588.8C170.7 589 171.4 590.4 171.8 591.8C172.1 593.2 171.6 595.4 171.2 597Z"/><path d="M184.1 601.8C184.6 603.9 184.3 605.6 183.4 607C182.4 608.4 179.8 610.1 178.3 610.4C176.9 610.8 175.7 610.4 174.6 609C173.5 607.7 172.2 604.4 171.7 602.3C171.3 600.3 171.4 598.3 171.9 596.8C172.3 595.3 173.1 593.9 174.5 593.5C175.9 593.1 178.8 593.2 180.4 594.6C182 596 183.6 599.8 184.1 601.8Z"/><path d="M196.4 597.7C196.4 599.4 196.3 601.2 195.4 602C194.6 602.8 192.5 602.7 191.2 602.6C190 602.5 188.7 602.2 188 601.5C187.2 600.7 186.9 599.6 186.9 598.1C186.9 596.6 187.2 593.8 187.9 592.6C188.6 591.4 190 590.9 191.2 590.8C192.5 590.7 194.5 590.8 195.4 591.9C196.3 593.1 196.4 596 196.4 597.7Z"/><path d="M208.1 602.8C207.8 604.5 207.8 605.2 206.9 605.9C206.1 606.7 204.2 607.6 202.9 607.4C201.5 607.2 199.6 605.8 198.9 604.7C198.2 603.5 198.3 602.1 198.6 600.5C198.9 598.8 199.8 595.8 200.8 594.8C201.8 593.7 203.2 593.9 204.5 594.1C205.8 594.3 208.1 594.4 208.7 595.9C209.3 597.3 208.4 601.1 208.1 602.8Z"/><path d="M222.1 598.5C221.9 600.4 221.1 604.3 219.8 605.6C218.6 606.9 216 606.9 214.6 606.4C213.3 606 212.3 604.3 211.8 603.1C211.2 601.8 211.1 600.6 211.4 598.8C211.7 596.9 212.9 593.5 213.8 592.2C214.7 590.8 215.4 590.4 216.7 590.7C217.9 591 220.4 592.6 221.3 593.9C222.2 595.1 222.4 596.5 222.1 598.5Z"/><path d="M235.7 598.6C236.3 600.1 237.2 602.6 236.4 603.9C235.6 605.1 232.6 605.7 230.9 606.1C229.3 606.6 227.7 607.3 226.5 606.7C225.3 606.1 224.2 604.2 223.7 602.6C223.1 601.1 222.7 598.7 223.2 597.4C223.7 596.2 225.2 595.3 226.7 594.9C228.3 594.4 231.2 594.3 232.7 594.9C234.2 595.5 235.1 597.1 235.7 598.6Z"/><path d="M247 604.8C246.2 606.3 244.9 607.8 243.6 608.3C242.2 608.7 240.3 608.3 238.7 607.5C237.2 606.8 234.7 604.8 234.1 603.6C233.6 602.4 234.7 601.7 235.6 600.2C236.5 598.7 238.1 595.1 239.7 594.4C241.4 593.8 244 595.5 245.4 596.3C246.9 597.1 248 597.7 248.2 599.1C248.5 600.5 247.7 603.2 247 604.8Z"/><path d="M262 597.6C262.1 599.2 261.9 601 260.8 602.3C259.8 603.5 257.3 604.9 255.7 605.1C254.2 605.4 252.8 604.8 251.8 603.8C250.7 602.8 249.4 600.5 249.2 599C249 597.5 249.9 595.6 250.6 594.7C251.3 593.7 251.9 593.4 253.5 593.1C255.2 592.8 258.9 592.2 260.3 592.9C261.7 593.6 261.9 596 262 597.6Z"/><path d="M272.7 599.2C272 600.9 271.2 602.1 270.1 602.5C269 603 267.1 602.5 266 602C264.9 601.5 264.1 601 263.7 599.5C263.4 598.1 263.5 595.3 264 593.5C264.5 591.8 265.8 589.6 266.9 589C268 588.3 269.5 589.1 270.7 589.6C271.9 590.2 273.9 590.6 274.2 592.2C274.5 593.8 273.4 597.4 272.7 599.2Z"/><path d="M288.3 599.7C287.8 601.6 286.2 605.8 285.1 607.2C284 608.6 282.9 608.3 281.5 607.9C280.1 607.6 277.2 606.9 276.5 605.3C275.8 603.8 276.8 600.7 277.3 598.7C277.8 596.7 278.2 594.7 279.4 593.6C280.5 592.4 282.7 591.5 284.2 591.9C285.6 592.3 287.3 594.5 288 595.8C288.7 597.1 288.8 597.8 288.3 599.7Z"/><path d="M299.1 596.4C299.8 598.2 300.2 599.7 300 601.2C299.8 602.7 298.8 604.8 297.7 605.3C296.7 605.8 294.8 605.1 293.7 604.2C292.6 603.3 291.6 601.7 290.9 600C290.2 598.2 289.2 595.4 289.3 593.7C289.5 592.1 290.4 590.5 291.6 590C292.8 589.5 295 589.6 296.3 590.6C297.5 591.7 298.5 594.7 299.1 596.4Z"/><path d="M312.9 598.5C312.8 600.3 312.4 602.1 311.2 602.9C310.1 603.8 307.5 603.7 305.9 603.6C304.4 603.5 302.8 603.7 302 602.4C301.2 601.2 301.1 597.8 301.1 596.3C301.1 594.7 300.8 593.9 302 593.2C303.3 592.4 306.8 591.7 308.4 591.6C310 591.4 311.1 591.1 311.9 592.3C312.6 593.5 313 596.8 312.9 598.5Z"/><path d="M322.7 598.6C323.2 600.9 323.4 605.8 322.9 607.7C322.5 609.6 321.2 609.9 319.8 609.9C318.4 609.9 316 609.1 314.7 607.7C313.3 606.3 312.1 603.7 311.6 601.7C311.1 599.7 311.3 597.2 311.9 595.8C312.5 594.4 313.8 593.7 315.1 593.4C316.5 593 318.9 592.9 320.1 593.7C321.4 594.6 322.2 596.2 322.7 598.6Z"/><path d="M339.2 600.3C339.3 602.2 338.4 603.2 337.4 604.2C336.4 605.2 334.4 606 333 606.3C331.6 606.5 330.3 606.4 329.2 605.6C328.1 604.8 326.8 603.2 326.6 601.4C326.3 599.5 327 595.9 327.7 594.4C328.4 592.9 329.2 592.4 330.7 592.2C332.3 592.1 335.6 591.9 337 593.3C338.4 594.6 339.1 598.5 339.2 600.3Z"/><path d="M350.5 600C350.9 602 351.4 604.2 350.8 605.5C350.2 606.9 348.2 608.2 346.9 608.4C345.6 608.5 343.9 607.3 342.9 606.5C341.9 605.7 341.5 605.3 340.9 603.5C340.4 601.7 339.2 597.5 339.7 595.8C340.3 594.1 342.7 593.6 344.1 593.2C345.5 592.9 346.9 592.7 348 593.8C349 595 350 598.1 350.5 600Z"/><path d="M180 613.1C179.4 615 178.2 617.2 177 618.1C175.9 618.9 174.7 618.8 173.2 618.2C171.7 617.7 169 616.4 168.2 614.8C167.3 613.2 167.7 610.3 168 608.5C168.4 606.8 169.3 605.1 170.3 604.2C171.4 603.3 172.8 602.8 174.5 603.2C176.2 603.7 179.7 605.4 180.6 607C181.6 608.7 180.6 611.3 180 613.1Z"/><path d="M190.9 616.4C190.1 618.1 188.5 620.1 187.2 621.2C186 622.4 184.5 623.6 183.3 623.1C182.2 622.7 180.4 620.2 180.3 618.3C180.1 616.4 181.4 613.6 182.3 611.9C183.2 610.1 184.5 608.6 185.6 607.9C186.6 607.2 187.4 607.1 188.4 607.6C189.5 608.1 191.6 609.4 192 610.8C192.4 612.3 191.7 614.6 190.9 616.4Z"/><path d="M203.4 613.9C203.9 615.5 204.3 617.1 203.9 618.2C203.5 619.3 202.3 619.8 200.8 620.3C199.3 620.7 196.1 621.2 194.8 620.7C193.6 620.3 193.6 619.4 193.4 617.7C193.1 616.1 192.6 612.2 193.2 610.8C193.9 609.4 195.8 609.5 197.1 609.1C198.4 608.7 199.8 607.5 200.9 608.3C201.9 609.1 202.9 612.2 203.4 613.9Z"/><path d="M214.3 617C213.9 619 213.1 621.6 212.2 622.8C211.3 624 210.2 624.5 209 624.1C207.7 623.7 205.3 621.8 204.7 620.4C204.1 619.1 204.8 618.1 205.3 616.2C205.8 614.4 206.7 610.6 207.7 609.4C208.6 608.2 209.7 608.9 210.8 609.2C211.9 609.5 213.9 609.9 214.5 611.2C215.1 612.5 214.7 615.1 214.3 617Z"/><path d="M231.4 613.4C231 615.5 229 619.1 227.8 620.4C226.6 621.8 225.7 621.9 224.3 621.6C222.9 621.4 220.4 620.5 219.7 618.8C218.9 617.1 219.2 613.4 219.5 611.5C219.8 609.6 220.5 608.1 221.5 607.3C222.5 606.4 224 606.2 225.5 606.3C226.9 606.5 229.3 607.1 230.3 608.2C231.3 609.4 231.9 611.4 231.4 613.4Z"/><path d="M241.8 615C241.8 617.3 240.7 619.8 240 621C239.3 622.3 238.8 622.7 237.6 622.6C236.4 622.5 234 621.5 232.8 620.5C231.7 619.5 230.8 618.6 230.6 616.5C230.5 614.4 231.2 609.5 231.9 607.9C232.5 606.2 233.4 606.7 234.8 606.6C236.2 606.5 238.9 605.7 240.1 607.1C241.2 608.5 241.8 612.7 241.8 615Z"/><path d="M254.3 615.1C253.7 616.6 253.1 618.3 251.8 619C250.5 619.6 247.6 619.4 246.3 619C245 618.5 244.3 617.4 243.8 616.2C243.3 615 242.7 613.3 243.2 611.6C243.8 609.9 245.7 606.9 247 606C248.3 605.1 249.6 605.5 251 606.2C252.4 606.8 254.9 608.4 255.5 609.9C256 611.4 254.9 613.6 254.3 615.1Z"/><path d="M266.3 616.1C266.1 617.9 265.9 619.7 265.2 620.7C264.5 621.8 263.3 622.2 262.1 622.3C260.8 622.4 258.6 622.4 257.7 621.2C256.8 620.1 256.7 617.3 256.8 615.5C257 613.6 257.6 611.2 258.6 609.9C259.7 608.6 261.9 607.8 263.1 607.8C264.4 607.8 265.4 608.7 265.9 610C266.4 611.4 266.4 614.3 266.3 616.1Z"/><path d="M291.6 610.6C291.7 612.8 291.6 617.4 290.7 619.1C289.7 620.9 287.2 621 285.8 621C284.4 621 283.1 620.7 282.3 619.1C281.6 617.4 281.2 613 281.1 611C281 609 281.1 608.1 281.7 607C282.3 605.9 283.5 604.8 284.9 604.6C286.4 604.4 289.2 604.9 290.3 605.9C291.4 606.9 291.6 608.4 291.6 610.6Z"/><path d="M305.5 611.1C306 613.1 306.5 617.8 305.7 619.6C304.9 621.4 302 621.6 300.5 622C298.9 622.4 297.9 623.2 296.6 622.1C295.4 620.9 293.3 617.2 292.8 615.1C292.3 613 292.8 610.8 293.6 609.5C294.3 608.1 295.8 607.5 297.4 607.2C298.9 606.9 301.3 607 302.7 607.6C304 608.3 305 609.1 305.5 611.1Z"/><path d="M317.4 615.4C317.5 617.4 317.5 620.2 316.7 621.4C315.9 622.7 313.9 623 312.6 623C311.2 622.9 309.4 622.8 308.7 621.2C308 619.7 308.1 615.7 308.2 613.7C308.4 611.7 309 610.3 309.6 609.1C310.2 608 310.8 606.8 311.9 606.8C313 606.9 315.2 608 316.1 609.4C317.1 610.8 317.3 613.4 317.4 615.4Z"/><path d="M329.6 615.8C328.9 617.9 327.9 619.8 326.8 620.9C325.6 622 324.2 622.8 322.8 622.4C321.4 621.9 318.9 619.8 318.2 618.4C317.5 616.9 317.9 615.5 318.4 613.6C318.9 611.7 319.6 608.4 321.1 607.1C322.7 605.7 326 605.1 327.6 605.4C329.1 605.6 330.3 606.7 330.6 608.4C331 610.2 330.2 613.8 329.6 615.8Z"/><path d="M341.8 617.1C341.4 618.8 340.6 620.5 339.5 621.1C338.4 621.8 336.4 621.4 335.2 621.1C334 620.7 332.7 620.3 332.4 619.1C332 617.9 332.6 615.6 333 613.7C333.3 611.9 333.7 609.2 334.7 608.1C335.6 606.9 337.6 606.5 338.8 607C340.1 607.4 341.8 609.1 342.3 610.7C342.8 612.4 342.3 615.4 341.8 617.1Z"/><path d="M172.7 630.2C172.7 631.8 172.6 632.5 171.5 633.4C170.3 634.2 167.5 635.4 165.9 635.5C164.4 635.5 162.9 635.2 162.3 633.8C161.6 632.3 161.9 628.8 162.2 627C162.5 625.3 163.2 624.3 164 623.4C164.7 622.5 165.4 621.5 166.7 621.6C168.1 621.6 170.9 622.3 171.9 623.7C172.9 625.2 172.8 628.6 172.7 630.2Z"/><path d="M182 629C182.7 630.7 184.4 634.1 184.4 635.7C184.3 637.2 183.2 637.9 181.9 638.3C180.5 638.7 177.7 638.5 176.3 637.9C174.9 637.3 174.3 636.2 173.6 634.8C172.9 633.3 171.6 630.7 171.9 629.3C172.3 627.8 174.4 626.5 175.8 626C177.1 625.4 178.9 625.3 179.9 625.8C181 626.3 181.3 627.4 182 629Z"/><path d="M209.6 630.3C209.3 632.5 208.2 635.6 207.3 637.2C206.4 638.8 205.6 640.2 204.2 639.9C202.9 639.7 200 637.9 199.1 636C198.2 634.1 198.6 630.5 198.7 628.5C198.9 626.6 199 625.2 199.9 624.3C200.9 623.3 202.8 622.8 204.3 622.8C205.9 622.8 208.3 622.9 209.2 624.2C210.1 625.4 209.9 628.1 209.6 630.3Z"/><path d="M223.5 625.7C224 627.5 223.9 630.7 223.7 632.3C223.5 633.9 223.5 634.9 222.4 635.2C221.2 635.5 218.1 635 216.8 634.3C215.5 633.6 215 632.3 214.4 630.8C213.9 629.3 213.2 626.9 213.4 625.4C213.6 623.9 214.5 622.6 215.7 622C216.8 621.3 219.1 620.9 220.4 621.5C221.7 622.1 223 623.9 223.5 625.7Z"/><path d="M260.9 628.4C260.3 630.1 258.6 631.7 257.5 632.4C256.4 633.1 255.4 633 254.3 632.5C253.1 632.1 251.1 631 250.6 629.7C250.1 628.3 250.5 625.9 251 624.4C251.6 622.9 252.8 621.3 253.7 620.6C254.7 619.9 255.5 620.1 256.7 620.3C258 620.6 260.5 620.8 261.2 622.1C261.9 623.4 261.5 626.7 260.9 628.4Z"/><path d="M288.4 631.2C288.3 632.8 288.2 635.7 286.9 636.9C285.7 638 282.5 638.2 280.9 638C279.3 637.9 278.1 637.4 277.5 636.1C276.9 634.7 277.2 631.3 277.5 629.9C277.7 628.4 277.8 628 279 627.3C280.2 626.6 283.2 625.6 284.6 625.5C285.9 625.5 286.7 626.2 287.3 627.1C288 628 288.4 629.5 288.4 631.2Z"/><path d="M312.2 626.2C312 628.6 310.4 633 309.2 634.6C308 636.1 306.3 636.1 304.8 635.7C303.3 635.2 301 633.7 300.2 631.9C299.4 630.1 299.7 626.9 300 624.9C300.2 623 300.8 621.5 301.8 620.4C302.8 619.3 304.6 618.5 306.1 618.4C307.7 618.3 309.8 618.6 310.8 619.8C311.8 621.1 312.5 623.7 312.2 626.2Z"/><path d="M326.6 629C326.6 631 325.4 634.7 324.1 636.1C322.8 637.6 320.3 637.7 318.7 637.6C317.1 637.4 315.5 636.1 314.6 635.1C313.7 634.1 313.2 633.4 313.3 631.5C313.4 629.5 314.1 624.9 315.3 623.4C316.5 621.9 319.2 622.6 320.6 622.6C322.1 622.7 323.2 622.7 324.2 623.8C325.2 624.9 326.6 626.9 326.6 629Z"/><path d="M335.3 631.7C334.9 633.3 334.4 635.3 333 636.2C331.7 637.1 328.6 637.4 327.2 637.2C325.7 637.1 324.8 636.7 324.3 635.5C323.8 634.3 323.9 631.7 324.4 629.9C324.8 628.1 325.9 625.5 327 624.6C328.1 623.7 329.5 624 330.9 624.4C332.3 624.9 334.7 625.9 335.5 627.2C336.2 628.4 335.7 630.2 335.3 631.7Z"/><path d="M346.4 630.1C345.6 631.5 345.1 632.2 344.1 632.9C343.2 633.5 341.6 634.6 340.5 634.1C339.4 633.6 338 631.2 337.5 629.9C337.1 628.7 337.1 628.1 337.8 626.6C338.6 625.1 340.8 621.9 342.1 620.9C343.3 619.9 344.4 620 345.5 620.6C346.6 621.1 348.4 622.7 348.6 624.3C348.7 625.9 347.1 628.7 346.4 630.1Z"/></g>
<g fill="#d6d6d6" stroke="#848484" stroke-width="1.6"><path d="M164.8 647.4C165.7 641.9 166.7 644.4 167.7 644.4C168.6 644.4 170.5 641.9 170.6 647.4C170.6 653 167.9 667.5 168.1 677.6C168.3 687.8 171.5 702.8 171.7 708.4C171.9 713.9 170 710.9 169.1 710.9C168.3 710.9 167.7 713.9 166.5 708.4C165.4 702.8 162.6 687.8 162.3 677.6C162 667.5 163.9 653 164.8 647.4Z"/><path d="M170.9 647.2C171.5 641.1 172.3 644.2 173 644.2C173.8 644.2 175.1 641.1 175.2 647.2C175.4 653.3 174 669.4 173.8 680.6C173.6 691.9 174.2 708.5 173.8 714.6C173.5 720.7 172.5 717.1 171.9 717.1C171.2 717.1 170.3 720.7 169.9 714.6C169.5 708.5 169.3 691.9 169.4 680.6C169.6 669.4 170.3 653.3 170.9 647.2Z"/><path d="M176.9 646.8C177 641.7 178.5 643.8 179.3 643.8C180 643.8 181 641.7 181.6 646.8C182.3 651.9 183.5 665.1 183.2 674.3C182.8 683.6 180.4 697.3 179.5 702.4C178.5 707.4 178.1 704.9 177.3 704.9C176.6 704.9 175 707.4 175.2 702.4C175.4 697.3 178.2 683.6 178.5 674.3C178.8 665.1 176.8 651.9 176.9 646.8Z"/><path d="M182.4 646.2C183.1 639.7 183.8 643.2 184.5 643.2C185.2 643.2 186.5 639.7 186.5 646.2C186.5 652.7 184.7 669.9 184.5 681.9C184.2 693.9 185.4 711.7 185.2 718.1C185 724.6 184 720.6 183.4 720.6C182.7 720.6 182 724.6 181.5 718.1C181 711.7 180.2 693.9 180.4 681.9C180.5 669.9 181.8 652.7 182.4 646.2Z"/><path d="M187.9 645.3C188.4 639.1 189.7 642.3 190.7 642.3C191.6 642.3 193 639.1 193.4 645.3C193.9 651.4 193 667.7 193.2 679C193.5 690.4 195.1 707.2 195 713.3C194.8 719.5 193.3 715.8 192.5 715.8C191.6 715.8 190.8 719.5 190 713.3C189.1 707.2 188 690.4 187.6 679C187.3 667.7 187.4 651.4 187.9 645.3Z"/><path d="M193.8 646.5C194.4 640.3 195.8 643.5 196.8 643.5C197.8 643.5 199.4 640.3 199.8 646.5C200.2 652.8 199.1 669.4 199.2 680.9C199.3 692.5 200.8 709.6 200.6 715.8C200.4 722 198.8 718.3 197.9 718.3C197 718.3 196 722 195.3 715.8C194.5 709.6 193.5 692.5 193.2 680.9C193 669.4 193.2 652.8 193.8 646.5Z"/><path d="M201 644.1C201.2 637.3 202.7 641.1 203.5 641.1C204.3 641.1 205.4 637.3 206 644.1C206.6 650.9 207.4 669.4 207.1 682.1C206.8 694.9 205.1 713.8 204.3 720.7C203.4 727.5 202.8 723.2 202 723.2C201.3 723.2 199.8 727.5 199.8 720.7C199.8 713.8 201.9 694.9 202.1 682.1C202.3 669.4 200.8 650.9 201 644.1Z"/><path d="M207.3 645.9C207.7 639.4 208.8 642.9 209.6 642.9C210.4 642.9 211.6 639.4 212 645.9C212.3 652.4 211.9 669.8 211.7 681.9C211.5 694 211.2 711.9 210.7 718.4C210.2 724.9 209.3 720.9 208.6 720.9C207.9 720.9 206.7 724.9 206.4 718.4C206.2 711.9 206.9 694 207 681.9C207.1 669.8 206.8 652.4 207.3 645.9Z"/><path d="M212.4 644.9C213 639.4 213.8 641.9 214.5 641.9C215.2 641.9 216.5 639.4 216.6 644.9C216.7 650.4 215.4 664.8 215 674.9C214.6 685 214.6 700 214.2 705.5C213.8 711 212.9 708 212.3 708C211.7 708 210.7 711 210.4 705.5C210.2 700 210.4 685 210.8 674.9C211.1 664.8 211.8 650.4 212.4 644.9Z"/><path d="M217.3 647C217.9 640.4 218.8 644 219.6 644C220.4 644 221.7 640.4 221.9 647C222.1 653.5 220.7 671 220.8 683.1C220.8 695.3 222.2 713.3 222 719.8C221.9 726.3 220.7 722.3 220 722.3C219.3 722.3 218.5 726.3 217.9 719.8C217.3 713.3 216.3 695.3 216.2 683.1C216.1 671 216.8 653.5 217.3 647Z"/><path d="M222.7 644.5C223.1 637.8 224.1 641.5 224.8 641.5C225.5 641.5 226.6 637.8 226.9 644.5C227.2 651.2 226.5 669.1 226.8 681.5C227 693.9 228.3 712.3 228.2 719C228.1 725.6 227 721.5 226.3 721.5C225.7 721.5 225.1 725.6 224.4 719C223.8 712.3 222.9 693.9 222.6 681.5C222.3 669.1 222.3 651.2 222.7 644.5Z"/><path d="M226.8 647.5C227.7 641.1 228.7 644.5 229.6 644.5C230.5 644.5 232.3 641.1 232.4 647.5C232.4 653.8 229.9 670.9 229.9 682.8C229.9 694.6 232.2 712.2 232.2 718.6C232.2 725 230.5 721.1 229.7 721.1C228.9 721.1 228.1 725 227.2 718.6C226.3 712.2 224.4 694.6 224.4 682.8C224.3 670.9 226 653.8 226.8 647.5Z"/><path d="M232.9 644.3C233.2 638.7 234.9 641.3 235.9 641.3C236.9 641.3 238.1 638.7 238.9 644.3C239.6 649.8 240.5 664.4 240.5 674.6C240.4 684.7 239.2 699.8 238.4 705.3C237.7 710.9 236.6 707.8 235.8 707.8C234.9 707.8 233.3 710.9 233.1 705.3C232.8 699.8 234.5 684.7 234.5 674.6C234.5 664.4 232.7 649.8 232.9 644.3Z"/><path d="M239.6 645.3C240.2 640.2 241.8 642.3 242.9 642.3C243.9 642.3 245.7 640.2 246.1 645.3C246.6 650.3 245.9 663.4 245.6 672.6C245.2 681.8 244.8 695.4 244.1 700.4C243.3 705.5 242.1 702.9 241.1 702.9C240.1 702.9 238.5 705.5 238.2 700.4C237.8 695.4 238.8 681.8 239.1 672.6C239.3 663.4 239 650.3 239.6 645.3Z"/><path d="M246.1 647.8C246.4 642 247.9 644.8 248.8 644.8C249.7 644.8 251 642 251.6 647.8C252.1 653.6 252.5 669 252.3 679.8C252.1 690.5 251.1 706.4 250.4 712.2C249.7 718.1 248.8 714.7 247.9 714.7C247.1 714.7 245.7 718.1 245.5 712.2C245.3 706.4 246.7 690.5 246.8 679.8C246.9 669 245.7 653.6 246.1 647.8Z"/><path d="M252.5 646.1C253 639.8 254.5 643.1 255.5 643.1C256.5 643.1 257.9 639.8 258.5 646.1C259 652.5 259 669.6 258.7 681.4C258.4 693.2 257.4 710.8 256.6 717.2C255.9 723.5 254.9 719.7 254 719.7C253.1 719.7 251.5 723.5 251.3 717.2C251.1 710.8 252.5 693.2 252.7 681.4C253 669.6 252 652.5 252.5 646.1Z"/><path d="M259.4 643.7C259.6 637.5 261.2 640.7 262.1 640.7C262.9 640.7 264 637.5 264.7 643.7C265.4 650 266.6 666.6 266.3 678.2C265.9 689.7 263.6 706.9 262.6 713.1C261.6 719.4 261 715.6 260.2 715.6C259.4 715.6 257.7 719.4 257.9 713.1C258 706.9 260.7 689.7 261 678.2C261.3 666.6 259.2 650 259.4 643.7Z"/><path d="M265.6 644C266.2 638.5 267.6 641 268.5 641C269.5 641 271.1 638.5 271.5 644C271.9 649.6 270.9 664.3 270.9 674.5C270.8 684.7 271.8 699.9 271.4 705.4C271.1 711 269.6 707.9 268.7 707.9C267.9 707.9 266.7 711 266.1 705.4C265.5 699.9 265 684.7 264.9 674.5C264.9 664.3 265 649.6 265.6 644Z"/><path d="M272.7 642.1C272.8 635.4 274.5 639.1 275.4 639.1C276.3 639.1 277.3 635.4 278.1 642.1C278.9 648.9 280.6 667 280.2 679.6C279.9 692.1 277 710.8 275.9 717.5C274.7 724.2 274.2 720 273.4 720C272.6 720 270.7 724.2 270.9 717.5C271.2 710.8 274.5 692.1 274.8 679.6C275.1 667 272.6 648.9 272.7 642.1Z"/><path d="M278.4 644.5C279.2 637.8 279.9 641.5 280.6 641.5C281.4 641.5 282.9 637.8 282.9 644.5C282.9 651.2 280.8 669.2 280.6 681.8C280.4 694.3 281.9 712.8 281.8 719.5C281.7 726.2 280.5 722 279.8 722C279.1 722 278.4 726.2 277.8 719.5C277.2 712.8 276 694.3 276.1 681.8C276.2 669.2 277.7 651.2 278.4 644.5Z"/><path d="M283.1 644.3C283.8 639.1 284.8 641.3 285.7 641.3C286.5 641.3 288.1 639.1 288.3 644.3C288.4 649.5 286.7 663 286.6 672.4C286.6 681.9 288.1 695.9 288 701C287.8 706.2 286.4 703.5 285.6 703.5C284.8 703.5 283.9 706.2 283.3 701C282.6 695.9 281.4 681.9 281.4 672.4C281.4 663 282.3 649.5 283.1 644.3Z"/><path d="M289.1 641.7C289.7 636.2 291.1 638.7 292.1 638.7C293.1 638.7 294.7 636.2 295.1 641.7C295.4 647.3 294 661.8 294.3 671.9C294.7 682.1 297.1 697.1 297.2 702.6C297.2 708.1 295.4 705.1 294.5 705.1C293.6 705.1 292.9 708.1 291.8 702.6C290.8 697.1 288.8 682.1 288.4 671.9C287.9 661.8 288.5 647.3 289.1 641.7Z"/><path d="M296.4 642.5C296.5 636.7 297.8 639.5 298.5 639.5C299.2 639.5 300.1 636.7 300.7 642.5C301.3 648.2 302.5 663.5 302.1 674.1C301.6 684.8 299 700.6 298 706.3C297 712.1 296.7 708.8 296.1 708.8C295.4 708.8 293.9 712.1 294.1 706.3C294.4 700.6 297.4 684.8 297.8 674.1C298.1 663.5 296.2 648.2 296.4 642.5Z"/><path d="M302.2 640.4C302.6 633.8 303.7 637.4 304.4 637.4C305.2 637.4 306.3 633.8 306.6 640.4C307 647 307 664.7 306.7 677C306.4 689.3 305.4 707.5 304.7 714.1C304.1 720.7 303.4 716.6 302.7 716.6C302.1 716.6 300.8 720.7 300.8 714.1C300.7 707.5 302 689.3 302.2 677C302.5 664.7 301.8 647 302.2 640.4Z"/><path d="M306.7 638.4C307.4 633.1 308.3 635.4 309.1 635.4C309.9 635.4 311.4 633.1 311.4 638.4C311.5 643.6 309.7 657.4 309.6 667C309.5 676.7 311.2 690.9 311 696.2C310.9 701.5 309.6 698.7 308.9 698.7C308.2 698.7 307.4 701.5 306.8 696.2C306.1 690.9 304.9 676.7 304.9 667C304.8 657.4 306 643.6 306.7 638.4Z"/><path d="M312 638.7C312.6 633.7 313.8 635.7 314.7 635.7C315.6 635.7 317.2 633.7 317.5 638.7C317.8 643.7 316.5 656.6 316.6 665.6C316.8 674.7 318.6 688.1 318.5 693.1C318.4 698.1 316.8 695.6 316 695.6C315.2 695.6 314.3 698.1 313.5 693.1C312.7 688.1 311.4 674.7 311.1 665.6C310.9 656.6 311.4 643.7 312 638.7Z"/><path d="M317.8 640C317.9 634.6 319.5 637 320.3 637C321.2 637 322.1 634.6 322.9 640C323.6 645.4 324.5 659.6 324.8 669.5C325.1 679.4 325.1 694 324.7 699.4C324.3 704.8 323.2 701.9 322.4 701.9C321.7 701.9 320.6 704.8 320.1 699.4C319.7 694 320.1 679.4 319.7 669.5C319.3 659.6 317.7 645.4 317.8 640Z"/><path d="M323.3 637.4C323.8 632.2 325.2 634.4 326.2 634.4C327.2 634.4 328.7 632.2 329.2 637.4C329.6 642.7 328.8 656.3 328.9 665.9C328.9 675.5 329.8 689.6 329.4 694.9C329 700.1 327.6 697.4 326.7 697.4C325.9 697.4 324.7 700.1 324.1 694.9C323.5 689.6 323.1 675.5 323 665.9C322.8 656.3 322.7 642.7 323.3 637.4Z"/><path d="M330.9 638.5C331.5 632.9 332.3 635.5 333 635.5C333.8 635.5 335.2 632.9 335.2 638.5C335.3 644.1 333 658.9 333.4 669.3C333.8 679.6 337 694.9 337.4 700.6C337.7 706.2 336.1 703.1 335.4 703.1C334.8 703.1 334.5 706.2 333.4 700.6C332.4 694.9 329.4 679.6 329 669.3C328.6 658.9 330.2 644.1 330.9 638.5Z"/><path d="M336.4 638.7C337.1 633.6 337.9 635.7 338.6 635.7C339.3 635.7 340.7 633.6 340.8 638.7C340.8 643.8 338.9 657 338.7 666.2C338.5 675.5 339.9 689.2 339.7 694.3C339.5 699.3 338.4 696.8 337.8 696.8C337.1 696.8 336.4 699.3 335.8 694.3C335.2 689.2 334.3 675.5 334.4 666.2C334.5 657 335.7 643.8 336.4 638.7Z"/><path d="M342.4 638.1C343.1 632.2 343.8 635.1 344.5 635.1C345.2 635.1 346.5 632.2 346.5 638.1C346.5 644 344.3 659.5 344.4 670.3C344.4 681 346.6 697 346.7 702.9C346.7 708.8 345.4 705.4 344.8 705.4C344.2 705.4 343.7 708.8 343 702.9C342.2 697 340.4 681 340.3 670.3C340.2 659.5 341.7 644 342.4 638.1Z"/><path d="M347.2 636.9C347.3 630.8 349.1 633.9 350 633.9C350.9 633.9 351.8 630.8 352.7 636.9C353.6 642.9 355.5 659 355.2 670.2C354.9 681.4 351.9 698 350.7 704C349.6 710.1 349.1 706.5 348.3 706.5C347.4 706.5 345.6 710.1 345.8 704C346 698 349.5 681.4 349.7 670.2C350 659 347.2 642.9 347.2 636.9Z"/><path d="M354.1 636.3C354.1 629.9 355.8 633.3 356.7 633.3C357.5 633.3 358.4 629.9 359.2 636.3C360 642.7 361.9 659.9 361.7 671.8C361.4 683.6 358.8 701.3 357.8 707.7C356.8 714.1 356.3 710.2 355.5 710.2C354.7 710.2 353 714.1 353.2 707.7C353.4 701.3 356.4 683.6 356.6 671.8C356.7 659.9 354.1 642.7 354.1 636.3Z"/></g>
<path d="M281 361C284.2 360.6 292.7 358.8 300 358.5C307.3 358.2 317.5 359.5 325 359.5C332.5 359.5 339.7 358.9 345 358.5C350.3 358.1 355 357.2 357 357 M283 364.5C285.8 364.1 293.8 362 300 362C306.2 362 313.7 363.8 320 364.5C326.3 365.2 332.3 366.1 338 366C343.7 365.9 351.3 364.3 354 364 M226 366C227 365.4 228 363.2 232 362.5C236 361.8 243.7 361.6 250 361.5C256.3 361.4 264.5 362.2 270 362C275.5 361.8 280.8 360.8 283 360.5 M164 404C167.5 404.2 178.2 404.9 185 405C191.8 405.1 197.8 404.3 205 404.5C212.2 404.7 224.2 405.8 228 406 M268 400C269 399.3 272 396.2 274 396C276 395.8 279.3 397.7 280 399C280.7 400.3 277 403 278 404C279 405 283 404.5 286 405C289 405.5 294.3 406.7 296 407" fill="none" stroke="#7a7a7a" stroke-width="2.5" stroke-linecap="round"/>
<path d="M185 519C187.5 518.7 192.5 517.2 200 517C207.5 516.8 220 518 230 518C240 518 248.3 517.1 260 517C271.7 516.9 288.3 517.5 300 517.5C311.7 517.5 320.7 517 330 517C339.3 517 351.7 517.4 356 517.5 M185 519C185.2 519.5 185.8 521.5 186 522 M192 518 l1.8 5.8 M201 518 l-0.5 5.8 M210 518 l-0.4 4.1 M219 518 l1 4.4 M228 518 l-0.2 4.2 M237 518 l-0.3 3.4 M246 518 l-1.8 5.3 M255 518 l0.3 5 M264 518 l1.2 3.7 M273 518 l-1.1 3.8 M282 518 l-0.8 5.3 M291 518 l-0.5 4 M300 518 l0.5 3.6 M309 518 l-1.6 5.1 M318 518 l1 3.9 M327 518 l0.5 3.1 M336 518 l-0.4 4.7 M345 518 l-1 4 M192 440C195 439.5 203.7 437.2 210 437C216.3 436.8 223.3 438.7 230 438.5C236.7 438.3 243.7 436.2 250 436C256.3 435.8 265 437.2 268 437.5 M188 412C187.9 415 187.5 424.2 187.5 430C187.5 435.8 187.9 444.2 188 447 M270 395C270.1 397.5 270.5 402.5 270.5 410C270.5 417.5 270.1 435 270 440 M246 520C246.2 526.7 247.2 546.7 247 560C246.8 573.3 244.5 586.7 245 600C245.5 613.3 248.8 625 250 640C251.2 655 251.7 681.7 252 690 M273 520C272.8 526.7 272.2 546.7 272 560C271.8 573.3 272.7 586.7 272 600C271.3 613.3 269 625 268 640C267 655 266.3 681.7 266 690 M245 440C245.3 445 245.8 460 247 470C248.2 480 251.3 491.7 252 500C252.7 508.3 251.2 516.7 251 520 M256 440C256.3 445 258 460 258 470C258 480 256.2 491.7 256 500C255.8 508.3 256.8 516.7 257 520" fill="none" stroke="#747474" stroke-width="2.1" stroke-linecap="round"/>
<g fill="none" stroke="#858585" stroke-width="1.7"><ellipse cx="301.7" cy="397.3" rx="2.5" ry="2.1"/><ellipse cx="309" cy="393.3" rx="2.5" ry="2.1"/><ellipse cx="315.4" cy="391.3" rx="2.5" ry="2.1"/><ellipse cx="320.2" cy="398.1" rx="2.5" ry="2.1"/><ellipse cx="322.7" cy="403.3" rx="2.5" ry="2.1"/><ellipse cx="313.8" cy="398.5" rx="2.5" ry="2.1"/><ellipse cx="306.6" cy="399.7" rx="2.5" ry="2.1"/><ellipse cx="304.1" cy="404.1" rx="2.5" ry="2.1"/><ellipse cx="316.2" cy="404.1" rx="2.5" ry="2.1"/><ellipse cx="310.6" cy="404.1" rx="2.5" ry="2.1"/><ellipse cx="327.5" cy="441.2" rx="2.4" ry="2"/><ellipse cx="322.3" cy="445.6" rx="2.4" ry="2"/><ellipse cx="317.8" cy="438.8" rx="2.4" ry="2"/><ellipse cx="325" cy="437.1" rx="2.4" ry="2"/></g>
<path d="M300 405C300.1 406.5 300 410.8 300.5 414C301 417.2 302.6 422.3 303 424 M317 415.4C315.8 415.1 311.8 413.1 310 413.5C308.2 413.9 307 416.1 306.5 418C306 419.9 306.9 423.8 307 425 M290.5 435C293.8 435.1 303.4 435.8 310 435.8C316.6 435.8 323.7 435.2 330 435.2C336.3 435.2 343.8 436.4 348 436C352.2 435.6 354.2 433.5 355.5 433 M348 436C349.2 436.3 354.2 437.7 355.5 438 M292 420C293 421.7 296.5 426.7 298 430C299.5 433.3 300.5 438.3 301 440" fill="none" stroke="#808080" stroke-width="2.1" stroke-linecap="round"/>
<path d="M163.8 408 L200 408.5 L260 407.5 L320 407.3 L355 407.8 L355 413.8 L300 414.5 L230 414 L163.8 414.6Z" fill="#40c43e"/>
<path d="M163.8 425.5 L220 424.8 L300 425.8 L355 425 L355 430.2 L290 431.3 L220 431.8 L163.8 431Z" fill="#40c43e"/>
<path d="M178 409.9 L181 409.7 L184 409.6 L187 409.3 L190 409 L193 408.5 L196 408.3 L199 408.3 L202 408.4 L205 408.8 L208 409.2 L211 409.5 L214 409.8 L217 410.2 L220 410.5 L223 410.7 L226 410.7 L229 410.4 L232 410.2 L235 410 L238 410.2 L241 410.6 L244 411.2 L247 411.6 L250 411.7 L253 411.7 L256 411.7 L259 411.8 L262 412 L265 412.1 L268 412.1 L271 411.8 L274 411.5 L277 411.2 L280 410.7 L283 410.3 L286 410.1 L289 410.2 L292 410.7 L295 411.2 L298 411.6 L301 411.9 L304 412 L307 412.1 L310 412.4 L313 412.7 L316 412.7 L319 412.5 L322 412.2 L325 411.8 L328 411.5 L331 411.3 L334 411.2 L337 411.2" fill="none" stroke="#107a12" stroke-width="3.6" stroke-linejoin="round" stroke-linecap="butt" stroke-linecap="round"/>
<path d="M228 427.7 L231 427.6 L234 427.6 L237 427.7 L240 428.4 L243 429.4 L246 430.6 L249 431.5 L252 431.6 L255 431.2 L258 430.5 L261 429.9 L264 429.5 L267 429.3 L270 429.4 L273 429.4 L276 429.5 L279 429.5 L282 429.2 L285 429.1 L288 428.9 L291 428.7 L294 428.3 L297 427.9 L300 427.6 L303 427.5 L306 428 L309 428.6 L312 428.9 L315 428.9 L318 428.8 L321 428.3 L324 428.1 L327 428 L330 428 L333 428 L336 428 L339 427.8 L342 427.7" fill="none" stroke="#107a12" stroke-width="3.6" stroke-linejoin="round" stroke-linecap="butt" stroke-linecap="round"/>
<path d="M233.3 409 C232.2 400 231 392 230.8 384 C230.5 374 234 367.8 240.5 368 C247.5 368.2 251 373 250.8 381 C250.5 389 246 393.5 240 393 C237.5 392.8 236 394 236 397 L236.4 409Z" fill="#58d03e" stroke="#1c881c" stroke-width="2.2"/>
<path d="M281.8 430.5 C282.5 438 283.5 444 282 450 C279.5 455 270 461 268 470 C266.5 478 271 483.5 279 483.3 C287 483 291 479 290.8 472 C290.5 463 288 455 287 449 C286.2 443 285.8 437 285.6 430.5Z" fill="#34b834" stroke="#1c841c" stroke-width="2.2"/>
<path d="M231.2 334 L272.7 334 L268.8 431 L237 431Z" fill="#f4ee80" fill-opacity="0.45"/>
<path d="M237 431 L268.8 431 L252.8 685Z" fill="#e8e238" fill-opacity="0.62"/>
<defs><linearGradient id="pk" x1="0" y1="0" x2="0" y2="1"><stop offset="0" stop-color="#ffe0d4"/><stop offset="0.45" stop-color="#fbc4ae"/><stop offset="1" stop-color="#f4a88c"/></linearGradient></defs>
<path d="M231.5 334 L272.4 334 L251.9 412.5Z" fill="url(#pk)" style="mix-blend-mode:multiply"/>
</g>
<rect x="365.8" y="355.9" width="7.5" height="54.6" fill="#000"/>
<text transform="translate(399.6 63) scale(1 1.04)" class="b">B</text>
<text transform="translate(574.4 76.5) scale(1 1.04)" text-anchor="middle">On SAC somata</text>
<text transform="translate(836.6 76.5) scale(1 1.04)" text-anchor="middle">On SAC dendrites</text>
<defs>
<filter id="nz1" x="0" y="0" width="100%" height="100%" color-interpolation-filters="sRGB">
<feTurbulence type="fractalNoise" baseFrequency="0.6" numOctaves="2" seed="3" result="t"/>
<feColorMatrix in="t" type="matrix" values="0 0 0 0 1  0 0 0 0 1  0 0 0 0 1  2.2 0 0 0 -0.95"/>
</filter>
<filter id="gr1" x="-5%" y="-5%" width="110%" height="110%" color-interpolation-filters="sRGB">
<feGaussianBlur stdDeviation="1.3" result="b"/>
<feTurbulence type="fractalNoise" baseFrequency="0.6" numOctaves="2" seed="8" result="t"/>
<feColorMatrix in="t" type="matrix" values="0 0 0 0 1  0 0 0 0 1  0 0 0 0 1  2.4 0 0 0 -0.6" result="n"/>
<feComposite in="b" in2="n" operator="arithmetic" k1="0.85" k2="0.4" k3="0" k4="0"/>
</filter>
<filter id="gr2" x="-5%" y="-5%" width="110%" height="110%" color-interpolation-filters="sRGB">
<feTurbulence type="fractalNoise" baseFrequency="0.11" numOctaves="3" seed="31" result="d"/>
<feDisplacementMap in="SourceGraphic" in2="d" scale="15" xChannelSelector="R" yChannelSelector="G" result="dd"/>
<feGaussianBlur in="dd" stdDeviation="1.45" result="b"/>
<feTurbulence type="fractalNoise" baseFrequency="0.5" numOctaves="2" seed="5" result="t"/>
<feColorMatrix in="t" type="matrix" values="0 0 0 0 1  0 0 0 0 1  0 0 0 0 1  2.6 0 0 0 -0.7" result="n"/>
<feComposite in="b" in2="n" operator="arithmetic" k1="0.9" k2="0.42" k3="0" k4="0"/>
</filter>
<filter id="hz2" x="-5%" y="-5%" width="110%" height="110%" color-interpolation-filters="sRGB">
<feTurbulence type="fractalNoise" baseFrequency="0.07" numOctaves="2" seed="41" result="d"/>
<feDisplacementMap in="SourceGraphic" in2="d" scale="12" xChannelSelector="R" yChannelSelector="G" result="dd"/>
<feGaussianBlur in="dd" stdDeviation="5.5" result="b"/>
<feTurbulence type="fractalNoise" baseFrequency="0.5" numOctaves="2" seed="15" result="t"/>
<feColorMatrix in="t" type="matrix" values="0 0 0 0 1  0 0 0 0 1  0 0 0 0 1  2.6 0 0 0 -0.7" result="n"/>
<feComposite in="b" in2="n" operator="arithmetic" k1="1.4" k2="0.3" k3="0" k4="0"/>
</filter>
<filter id="bl2" x="0" y="0" width="100%" height="100%" color-interpolation-filters="sRGB">
<feTurbulence type="fractalNoise" baseFrequency="0.04" numOctaves="3" seed="21" result="t"/>
<feColorMatrix in="t" type="matrix" values="0 0 0 0 1  0 0 0 0 1  0 0 0 0 1  3.0 0 0 0 -1.2" result="lo"/>
<feTurbulence type="fractalNoise" baseFrequency="0.5" numOctaves="2" seed="9" result="t2"/>
<feColorMatrix in="t2" type="matrix" values="0 0 0 0 1  0 0 0 0 1  0 0 0 0 1  2.6 0 0 0 -0.7" result="hi"/>
<feComposite in="lo" in2="hi" operator="arithmetic" k1="1.3" k2="0.25" k3="0" k4="0"/>
</filter>
<clipPath id="c1"><rect x="461.3" y="86.3" width="225.7" height="186.1"/></clipPath>
<clipPath id="c2"><rect x="725.1" y="84.6" width="224.3" height="187.1"/></clipPath>
</defs>
<rect x="461.3" y="86.3" width="225.7" height="186.1" fill="#080808"/>
<rect x="461.3" y="86.3" width="225.7" height="186.1" filter="url(#nz1)" opacity="0.2"/>
<g clip-path="url(#c1)">
<g filter="url(#gr1)" fill="none" stroke-linecap="round">
<path d="M565.5 171 C552 160 540 148 542 133 C544 118 558 109 573 109.5 C590 110 603 121 602 137 C601.5 147 593 152 582 159 C574 164 571 172 571 182 C571 192 572 200 574 206" stroke="#fff" stroke-opacity="0.22" stroke-width="9"/>
<path d="M574 168 C580 156 592 150 604 151 C620 152.5 630 166 629 181 C628 196 615 207.5 600 207 C588 206.5 578 203 573.5 196" stroke="#fff" stroke-opacity="0.22" stroke-width="9"/>
<path d="M570 196 C566 206 552 214 537 214.5 C518 215 503 203 501.5 188 C500.5 175 510 165 524 161.5 C540 158 555 162 566 172" stroke="#fff" stroke-opacity="0.16" stroke-width="10"/>
<ellipse cx="536" cy="189" rx="30" ry="22" fill="#fff" fill-opacity="0.07" stroke="none"/>
<path d="M565.5 171 C552 160 540 148 542 133 C544 118 558 109 573 109.5 C590 110 603 121 602 137 C601.5 147 593 152 582 159 C574 164 571 172 571 182 C571 192 572 200 574 206" stroke="#b0b0b0" stroke-width="3"/><path d="M565.5 171 C552 160 540 148 542 133 M602 137 C601.5 147 593 152 582 159 C574 164 571 172 571 182" stroke="#fff" stroke-width="3"/>
<path d="M574 168 C580 156 592 150 604 151 C620 152.5 630 166 629 181 C628 196 615 207.5 600 207 C588 206.5 578 203 573.5 196" stroke="#b4b4b4" stroke-width="2.9"/><path d="M604 151 C620 152.5 630 166 629 181 C628 196 615 207.5 600 207" stroke="#fff" stroke-width="3"/>
<path d="M566 172 C568 180 571 192 572.5 205" stroke="#fff" stroke-width="3.8"/>
<path d="M570 196 C566 206 552 214 537 214.5 C518 215 503 203 501.5 188 C500.5 175 510 165 524 161.5 C540 158 555 162 566 172" stroke="#858585" stroke-width="2.6"/>
<path d="M502 183 C501.5 192 506 203 515 209" stroke="#dcdcdc" stroke-width="2.6"/>
<circle cx="493.5" cy="192" r="2" fill="#ccc" stroke="none"/>
<path d="M618 100 C636 92 652 96 660 90 M657 90 C654 105 650 118 644 130" stroke="#fff" stroke-opacity="0.10" stroke-width="8"/>
</g></g>
<rect x="461.3" y="181.1" width="225.7" height="3" fill="#fff"/>
<rect x="498.3" y="181.1" width="10" height="3" fill="#e01818"/>
<rect x="562.4" y="181.1" width="9.1" height="3" fill="#e01818"/>
<rect x="630.6" y="247.3" width="39.4" height="7.5" fill="#fff"/>
<path d="M484 131.6L509.5 157.2" stroke="#fff" stroke-width="1.7"/>
<path d="M515.9 163.5L500.2 157.5L508.2 156L510 148Z" fill="#fff"/>
<rect x="725.1" y="84.6" width="224.3" height="187.1" fill="#0e0e0e"/>
<rect x="725.1" y="84.6" width="224.3" height="187.1" filter="url(#nz1)" opacity="0.32"/>
<rect x="725.1" y="84.6" width="224.3" height="187.1" filter="url(#bl2)" opacity="0.16"/>
<g clip-path="url(#c2)">
<g filter="url(#hz2)" fill="none" stroke-linecap="round" stroke="#fff"><path d="M795 136 L797 148" stroke-width="15" stroke-opacity="0.19"/><path d="M800 150 L812 158 L824 166 L836 174" stroke-width="13" stroke-opacity="0.20"/><path d="M793 132 L802 118 L812 104" stroke-width="12" stroke-opacity="0.09"/><path d="M874 110 L876 112" stroke-width="16" stroke-opacity="0.22"/><path d="M838 120 C844 116 850 115 858 116" stroke-width="12" stroke-opacity="0.17"/><path d="M862 114 C868 110 876 110 884 122 L887 128" stroke-width="13" stroke-opacity="0.18"/><path d="M826 127 L824 148" stroke-width="12" stroke-opacity="0.12"/><path d="M824 148 C834 146 842 150 850 148" stroke-width="12" stroke-opacity="0.15"/><path d="M858 134 L866 134" stroke-width="13" stroke-opacity="0.17"/><path d="M850 150 C858 156 866 156 874 152 C880 146 886 136 887 128" stroke-width="12" stroke-opacity="0.15"/><path d="M876 163 L879 168" stroke-width="13" stroke-opacity="0.18"/><path d="M905 90 L909 92" stroke-width="15" stroke-opacity="0.21"/><path d="M926 98 C920 108 916 116 912 124 C908 134 907 150 908 172" stroke-width="12" stroke-opacity="0.11"/><path d="M916 116 L928 110 L940 114" stroke-width="12" stroke-opacity="0.13"/><path d="M909 130 L890 128" stroke-width="13" stroke-opacity="0.15"/><path d="M930 156 L936 155" stroke-width="14" stroke-opacity="0.18"/><path d="M741 94 L763 92" stroke-width="13" stroke-opacity="0.09"/><path d="M732 168 L756 164 L780 162" stroke-width="13" stroke-opacity="0.07"/><path d="M766 199 L770 198" stroke-width="17" stroke-opacity="0.21"/><path d="M786 196 L792 193" stroke-width="15" stroke-opacity="0.21"/><path d="M776 206 C778 214 778 222 775 232 C773 240 772 246 770 252" stroke-width="16" stroke-opacity="0.22"/><path d="M745 224 L756 225" stroke-width="15" stroke-opacity="0.21"/><path d="M728 229 L733 230" stroke-width="14" stroke-opacity="0.19"/><path d="M733 243 L738 250 L744 258" stroke-width="13" stroke-opacity="0.18"/><path d="M746 261 L758 266" stroke-width="17" stroke-opacity="0.21"/><path d="M770 252 L764 260" stroke-width="15" stroke-opacity="0.18"/><path d="M800 213 C804 208 810 205 815 206" stroke-width="14" stroke-opacity="0.20"/><path d="M805 244 C808 240 812 237 817 238" stroke-width="14" stroke-opacity="0.20"/><path d="M790 230 L800 222" stroke-width="12" stroke-opacity="0.11"/><path d="M790 262 L800 256" stroke-width="13" stroke-opacity="0.09"/><path d="M833 205 L836 200 L843 194" stroke-width="12" stroke-opacity="0.13"/><path d="M899 217 L909 218" stroke-width="15" stroke-opacity="0.22"/><path d="M922 207 L924 212" stroke-width="12" stroke-opacity="0.10"/><path d="M850 205 L864 210 L878 214" stroke-width="18" stroke-opacity="0.05"/><path d="M905 230 L915 236" stroke-width="14" stroke-opacity="0.07"/><path d="M752 184 L757 188" stroke-width="12" stroke-opacity="0.11"/><path d="M873 111 L875 112" stroke-width="11" stroke-opacity="0.22"/><path d="M905 91 L907 91" stroke-width="11" stroke-opacity="0.22"/><path d="M769 199 L771 199" stroke-width="12" stroke-opacity="0.22"/><path d="M776 226 L776 236" stroke-width="11" stroke-opacity="0.22"/><path d="M749 225 L753 225" stroke-width="11" stroke-opacity="0.22"/><path d="M811 206 L813 206" stroke-width="11" stroke-opacity="0.22"/><path d="M814 238 L816 238" stroke-width="11" stroke-opacity="0.22"/><path d="M902 217.5 L907 217.5" stroke-width="11" stroke-opacity="0.22"/><path d="M753 263 L757 264" stroke-width="12" stroke-opacity="0.22"/><path d="M789 194 L791 193" stroke-width="11" stroke-opacity="0.22"/></g>
<g filter="url(#gr2)" fill="none" stroke-linecap="round" stroke="#fff"><path d="M795 136 L797 148" stroke-width="9" stroke-opacity="0.78"/><path d="M800 150 L812 158 L824 166 L836 174" stroke-width="7" stroke-opacity="0.83"/><path d="M793 132 L802 118 L812 104" stroke-width="6" stroke-opacity="0.37"/><path d="M874 110 L876 112" stroke-width="10" stroke-opacity="0.92"/><path d="M838 120 C844 116 850 115 858 116" stroke-width="6" stroke-opacity="0.69"/><path d="M862 114 C868 110 876 110 884 122 L887 128" stroke-width="7" stroke-opacity="0.74"/><path d="M826 127 L824 148" stroke-width="6" stroke-opacity="0.51"/><path d="M824 148 C834 146 842 150 850 148" stroke-width="6" stroke-opacity="0.64"/><path d="M858 134 L866 134" stroke-width="7" stroke-opacity="0.69"/><path d="M850 150 C858 156 866 156 874 152 C880 146 886 136 887 128" stroke-width="6" stroke-opacity="0.64"/><path d="M876 163 L879 168" stroke-width="7" stroke-opacity="0.74"/><path d="M905 90 L909 92" stroke-width="9" stroke-opacity="0.87"/><path d="M926 98 C920 108 916 116 912 124 C908 134 907 150 908 172" stroke-width="6" stroke-opacity="0.46"/><path d="M916 116 L928 110 L940 114" stroke-width="6" stroke-opacity="0.55"/><path d="M909 130 L890 128" stroke-width="7" stroke-opacity="0.64"/><path d="M930 156 L936 155" stroke-width="8" stroke-opacity="0.74"/><path d="M741 94 L763 92" stroke-width="7" stroke-opacity="0.37"/><path d="M732 168 L756 164 L780 162" stroke-width="7" stroke-opacity="0.28"/><path d="M766 199 L770 198" stroke-width="11" stroke-opacity="0.87"/><path d="M786 196 L792 193" stroke-width="9" stroke-opacity="0.87"/><path d="M776 206 C778 214 778 222 775 232 C773 240 772 246 770 252" stroke-width="10" stroke-opacity="0.92"/><path d="M745 224 L756 225" stroke-width="9" stroke-opacity="0.87"/><path d="M728 229 L733 230" stroke-width="8" stroke-opacity="0.78"/><path d="M733 243 L738 250 L744 258" stroke-width="7" stroke-opacity="0.74"/><path d="M746 261 L758 266" stroke-width="11" stroke-opacity="0.87"/><path d="M770 252 L764 260" stroke-width="9" stroke-opacity="0.74"/><path d="M800 213 C804 208 810 205 815 206" stroke-width="8" stroke-opacity="0.83"/><path d="M805 244 C808 240 812 237 817 238" stroke-width="8" stroke-opacity="0.83"/><path d="M790 230 L800 222" stroke-width="6" stroke-opacity="0.46"/><path d="M790 262 L800 256" stroke-width="7" stroke-opacity="0.37"/><path d="M833 205 L836 200 L843 194" stroke-width="6" stroke-opacity="0.55"/><path d="M899 217 L909 218" stroke-width="9" stroke-opacity="0.92"/><path d="M922 207 L924 212" stroke-width="6" stroke-opacity="0.41"/><path d="M850 205 L864 210 L878 214" stroke-width="12" stroke-opacity="0.20"/><path d="M905 230 L915 236" stroke-width="8" stroke-opacity="0.28"/><path d="M752 184 L757 188" stroke-width="6" stroke-opacity="0.46"/><path d="M873 111 L875 112" stroke-width="5" stroke-opacity="0.92"/><path d="M905 91 L907 91" stroke-width="5" stroke-opacity="0.92"/><path d="M769 199 L771 199" stroke-width="6" stroke-opacity="0.92"/><path d="M776 226 L776 236" stroke-width="5" stroke-opacity="0.92"/><path d="M749 225 L753 225" stroke-width="5" stroke-opacity="0.92"/><path d="M811 206 L813 206" stroke-width="5" stroke-opacity="0.92"/><path d="M814 238 L816 238" stroke-width="5" stroke-opacity="0.92"/><path d="M902 217.5 L907 217.5" stroke-width="5" stroke-opacity="0.92"/><path d="M753 263 L757 264" stroke-width="6" stroke-opacity="0.92"/><path d="M789 194 L791 193" stroke-width="5" stroke-opacity="0.92"/></g>
</g>
<rect x="725.1" y="176.9" width="224.3" height="3" fill="#fff"/>
<rect x="744.5" y="176.9" width="7.5" height="3" fill="#e01818"/>
<rect x="753.3" y="176.9" width="4" height="3" fill="#e01818"/>
<rect x="763.3" y="176.9" width="26.4" height="3" fill="#e01818"/>
<rect x="827.5" y="176.9" width="6.5" height="3" fill="#e01818"/>
<rect x="837.8" y="176.9" width="10" height="3" fill="#e01818"/>
<rect x="908.2" y="176.9" width="13.1" height="3" fill="#e01818"/>
<rect x="896.6" y="248" width="37.2" height="7.6" fill="#fff"/>
<rect x="508.1" y="293.9" width="48" height="228.6" fill="#fefb96"/>
<rect x="769.9" y="294.4" width="48" height="228.1" fill="#fefb96"/>
<text transform="translate(442.5 343.4) rotate(-90) scale(1 1.04)">Light</text>
<text transform="translate(467 306) scale(1 1.04)" text-anchor="end">1</text>
<text transform="translate(467 338.6) scale(1 1.04)" text-anchor="end">0</text>
<path d="M468 294.6H478.5V328.9H468" fill="none" stroke="#000" stroke-width="1.6"/>
<path d="M485.5 328.9H508.9V294.6H555.8V328.9H671" fill="none" stroke="#000" stroke-width="1.7" stroke-linejoin="miter"/>
<path d="M746.4 329.3H770.6V294.9H817.5V329.3H930.5" fill="none" stroke="#000" stroke-width="1.7" stroke-linejoin="miter"/>
<rect x="676.4" y="365.5" width="7.7" height="36" fill="#000"/>
<text transform="translate(691.8 347.2) rotate(90) scale(1 1.04)">2 SD</text>
<rect x="885.2" y="404.2" width="45.9" height="7.2" fill="#000"/>
<text transform="translate(908.6 439.5) scale(1 1.04)" text-anchor="middle">1 s</text>
<path d="M484 383.2 L485.9 378.7 L487.8 378.3 L489.7 381.3 L491.6 386.7 L493.5 381 L495.4 384.7 L497.3 375.2 L499.2 388.1 L501.1 384.9 L503 389.7 L504.9 384.4 L506.8 384.3 L508.7 391.5 L510.6 380.7 L512.5 359.7 L514.4 364.5 L516.3 369.8 L518.2 369.5 L520.1 370.8 L522 378 L523.9 374.8 L525.8 368.2 L527.7 373.4 L529.6 373.7 L531.5 376.6 L533.4 378.5 L535.3 381.6 L537.2 379.2 L539.1 367.4 L541 363.2 L542.9 364.7 L544.8 365.9 L546.7 361.9 L548.6 364.5 L550.5 365.4 L552.4 361.4 L554.3 356.1 L556.2 347.6 L558.1 354.1 L560 378.2 L561.9 392.7 L563.8 402.5 L565.7 409.3 L567.6 405.7 L569.5 398.6 L571.4 396.9 L573.3 391.1 L575.2 388.5 L577.1 385.7 L579 377.9 L580.9 376.1 L582.8 374.5 L584.7 367.9 L586.6 378.1 L588.5 376.7 L590.4 370.1 L592.3 376 L594.2 374.4 L596.1 377.8 L598 374.4 L599.9 378.2 L601.8 377.2 L603.7 374.7 L605.6 377.6 L607.5 376.5 L609.4 376.6 L611.3 373.5 L613.2 378.9 L615.1 377.5 L617 375.7 L618.9 378.8 L620.8 380.2 L622.7 382.2 L624.6 371.4 L626.5 379 L628.4 377 L630.3 378.2 L632.2 372.4 L634.1 381.3 L636 374.1 L637.9 378.6 L639.8 381.3 L641.7 371.8 L643.6 376.8 L645.5 374.7 L647.4 378.8 L649.3 379.3 L651.2 382.6 L653.1 373.6 L655 375.4 L656.9 381.3 L658.8 378.9 L660.7 380.6 L662.6 374.3 L664.5 377.2 L666.4 379.3 L668.3 376.2 L670.2 373.7 L670.2 387.1 L668.3 387.5 L666.4 385.4 L664.5 389.2 L662.6 386.1 L660.7 386.5 L658.8 394.6 L656.9 387.1 L655 385.8 L653.1 380.6 L651.2 393.2 L649.3 393.5 L647.4 386.7 L645.5 381.9 L643.6 385.5 L641.7 383 L639.8 390 L637.9 388.4 L636 382.4 L634.1 389.5 L632.2 385.4 L630.3 384.7 L628.4 389.1 L626.5 389.4 L624.6 382.9 L622.7 391.2 L620.8 390.1 L618.9 387.9 L617 386.3 L615.1 388.9 L613.2 390.2 L611.3 386.3 L609.4 388.9 L607.5 385.5 L605.6 388.4 L603.7 382.9 L601.8 387.1 L599.9 384.1 L598 385.4 L596.1 388.8 L594.2 386.4 L592.3 388.1 L590.4 381.9 L588.5 388.2 L586.6 386.1 L584.7 384.6 L582.8 390.3 L580.9 388.7 L579 394.3 L577.1 394 L575.2 397 L573.3 403.2 L571.4 410.5 L569.5 409.6 L567.6 415.9 L565.7 414 L563.8 411.9 L561.9 403.8 L560 388.3 L558.1 362.9 L556.2 354.7 L554.3 365 L552.4 369.6 L550.5 373.7 L548.6 374.6 L546.7 375.3 L544.8 378.7 L542.9 379 L541 375.2 L539.1 379.5 L537.2 387.9 L535.3 394.4 L533.4 384.6 L531.5 380.6 L529.6 385.1 L527.7 382.6 L525.8 381.3 L523.9 385.3 L522 391.7 L520.1 381.8 L518.2 378.8 L516.3 379.4 L514.4 372.5 L512.5 371.9 L510.6 389.2 L508.7 399.4 L506.8 402.3 L504.9 398.7 L503 395.8 L501.1 393.9 L499.2 398.7 L497.3 391.8 L495.4 396.6 L493.5 395.4 L491.6 392.9 L489.7 391.2 L487.8 392.3 L485.9 387.6 L484 389.8Z" fill="#b8b8b8"/>
<path d="M484 386.5 L485.9 383.1 L487.8 385.3 L489.7 386.2 L491.6 389.8 L493.5 388.2 L495.4 390.7 L497.3 383.5 L499.2 393.4 L501.1 389.4 L503 392.7 L504.9 391.6 L506.8 393.3 L508.7 395.5 L510.6 384.9 L512.5 365.8 L514.4 368.5 L516.3 374.6 L518.2 374.2 L520.1 376.3 L522 384.8 L523.9 380 L525.8 374.7 L527.7 378 L529.6 379.4 L531.5 378.6 L533.4 381.6 L535.3 388 L537.2 383.6 L539.1 373.5 L541 369.2 L542.9 371.9 L544.8 372.3 L546.7 368.6 L548.6 369.6 L550.5 369.5 L552.4 365.5 L554.3 360.5 L556.2 351.1 L558.1 358.5 L560 383.3 L561.9 398.2 L563.8 407.2 L565.7 411.7 L567.6 410.8 L569.5 404.1 L571.4 403.7 L573.3 397.2 L575.2 392.7 L577.1 389.9 L579 386.1 L580.9 382.4 L582.8 382.4 L584.7 376.2 L586.6 382.1 L588.5 382.4 L590.4 376 L592.3 382 L594.2 380.4 L596.1 383.3 L598 379.9 L599.9 381.1 L601.8 382.2 L603.7 378.8 L605.6 383 L607.5 381 L609.4 382.8 L611.3 379.9 L613.2 384.5 L615.1 383.2 L617 381 L618.9 383.3 L620.8 385.2 L622.7 386.7 L624.6 377.2 L626.5 384.2 L628.4 383 L630.3 381.5 L632.2 378.9 L634.1 385.4 L636 378.3 L637.9 383.5 L639.8 385.6 L641.7 377.4 L643.6 381.1 L645.5 378.3 L647.4 382.8 L649.3 386.4 L651.2 387.9 L653.1 377.1 L655 380.6 L656.9 384.2 L658.8 386.8 L660.7 383.5 L662.6 380.2 L664.5 383.2 L666.4 382.4 L668.3 381.9 L670.2 380.4" fill="none" stroke="#000" stroke-width="1.7" stroke-linejoin="round" stroke-linecap="butt"/>
<path d="M484 480.1 L485.9 477 L487.8 484.1 L489.7 471.9 L491.6 486.2 L493.5 475.5 L495.4 470.9 L497.3 482.4 L499.2 493.9 L501.1 488.8 L503 477.7 L504.9 489.4 L506.8 483 L508.7 487.1 L510.6 481.1 L512.5 450.3 L514.4 472.8 L516.3 466.1 L518.2 472.6 L520.1 468.6 L522 469.7 L523.9 470.4 L525.8 481.7 L527.7 486.1 L529.6 469.8 L531.5 477.9 L533.4 468.2 L535.3 455.3 L537.2 465.6 L539.1 462.2 L541 453.3 L542.9 460.4 L544.8 463.7 L546.7 453.1 L548.6 448.2 L550.5 458.3 L552.4 458.9 L554.3 455.2 L556.2 459.3 L558.1 471.1 L560 472.5 L561.9 494.5 L563.8 502.3 L565.7 502.9 L567.6 504.6 L569.5 485.9 L571.4 493.7 L573.3 499.4 L575.2 485.8 L577.1 467.2 L579 478.5 L580.9 484.1 L582.8 474 L584.7 465.1 L586.6 488.9 L588.5 459.6 L590.4 479.8 L592.3 474.6 L594.2 462.4 L596.1 488.6 L598 479.3 L599.9 462.8 L601.8 481.1 L603.7 469.1 L605.6 452 L607.5 464.6 L609.4 473.1 L611.3 476.1 L613.2 470 L615.1 468 L617 471.4 L618.9 463.8 L620.8 479 L622.7 468.3 L624.6 471 L626.5 475 L628.4 458.7 L630.3 464 L632.2 489.5 L634.1 477.8 L636 471.9 L637.9 478.6 L639.8 469.2 L641.7 477.4 L643.6 465.8 L645.5 475.6 L647.4 455 L649.3 486.9 L651.2 467.6 L653.1 456.7 L655 472.7 L656.9 472.5 L658.8 479.8 L660.7 467 L662.6 483.7 L664.5 503.4 L666.4 464.2 L668.3 480.2 L670.2 470.8" fill="none" stroke="#969696" stroke-width="1.6" stroke-linejoin="round" stroke-linecap="butt"/>
<path d="M484 469.1 L485.9 457.6 L487.8 478.4 L489.7 491 L491.6 462.3 L493.5 489.1 L495.4 469.3 L497.3 471.8 L499.2 475.1 L501.1 466.5 L503 490.3 L504.9 485.6 L506.8 478.1 L508.7 482.1 L510.6 463.4 L512.5 459.8 L514.4 471.9 L516.3 453.6 L518.2 466.4 L520.1 473.4 L522 482.4 L523.9 482.5 L525.8 465.7 L527.7 462.4 L529.6 470.8 L531.5 464 L533.4 465.9 L535.3 477.3 L537.2 476 L539.1 458.6 L541 452.8 L542.9 459 L544.8 439.8 L546.7 455.4 L548.6 447.1 L550.5 474.6 L552.4 462.2 L554.3 454.8 L556.2 444.4 L558.1 433.4 L560 476.6 L561.9 497.6 L563.8 485.1 L565.7 500.3 L567.6 500.2 L569.5 475.4 L571.4 494.6 L573.3 493.6 L575.2 479.7 L577.1 472.6 L579 478 L580.9 450.4 L582.8 465.1 L584.7 474.9 L586.6 450.3 L588.5 474 L590.4 460.2 L592.3 443.9 L594.2 465.6 L596.1 458.2 L598 473.2 L599.9 458.8 L601.8 483.2 L603.7 465.6 L605.6 477.3 L607.5 468.1 L609.4 471.5 L611.3 487.4 L613.2 477.4 L615.1 471.6 L617 463.1 L618.9 489.2 L620.8 485.5 L622.7 474.9 L624.6 481 L626.5 467.8 L628.4 467.9 L630.3 469.4 L632.2 481.3 L634.1 479.3 L636 466.9 L637.9 480.9 L639.8 479.9 L641.7 472 L643.6 479.8 L645.5 464.7 L647.4 466.2 L649.3 472 L651.2 466.5 L653.1 475.3 L655 454.3 L656.9 483.2 L658.8 460.6 L660.7 467.3 L662.6 455.1 L664.5 476.2 L666.4 483.7 L668.3 481.8 L670.2 479.6" fill="none" stroke="#969696" stroke-width="1.6" stroke-linejoin="round" stroke-linecap="butt"/>
<path d="M484 466.8 L485.9 474.1 L487.8 483.9 L489.7 458.9 L491.6 461.7 L493.5 466.1 L495.4 474.4 L497.3 493.3 L499.2 478.4 L501.1 484.9 L503 475.2 L504.9 459.5 L506.8 462.4 L508.7 487.2 L510.6 471.5 L512.5 447.5 L514.4 467.2 L516.3 449.9 L518.2 472.3 L520.1 477 L522 462.2 L523.9 457.3 L525.8 469 L527.7 454 L529.6 468.2 L531.5 453.3 L533.4 471.5 L535.3 468.6 L537.2 459.8 L539.1 451.7 L541 458.6 L542.9 443.6 L544.8 456 L546.7 454.9 L548.6 462 L550.5 446.8 L552.4 467.9 L554.3 449.1 L556.2 434.4 L558.1 459.4 L560 480.8 L561.9 481.3 L563.8 483.5 L565.7 494.6 L567.6 489.8 L569.5 486.9 L571.4 500.8 L573.3 488 L575.2 481.1 L577.1 479.3 L579 472.1 L580.9 477.4 L582.8 475.4 L584.7 462.7 L586.6 467.1 L588.5 489.7 L590.4 470.7 L592.3 465.1 L594.2 487.1 L596.1 467.8 L598 457.7 L599.9 475.5 L601.8 460.2 L603.7 464.4 L605.6 472.6 L607.5 468.4 L609.4 462.5 L611.3 465 L613.2 465.1 L615.1 482.7 L617 464.7 L618.9 466.2 L620.8 491.7 L622.7 466.2 L624.6 486 L626.5 484.4 L628.4 470.3 L630.3 458 L632.2 476.9 L634.1 480.3 L636 484.3 L637.9 476.8 L639.8 489.1 L641.7 492.3 L643.6 469.5 L645.5 494.2 L647.4 482.4 L649.3 475 L651.2 477.1 L653.1 497.7 L655 487.8 L656.9 459.7 L658.8 476.4 L660.7 472.3 L662.6 470.4 L664.5 465.4 L666.4 454.7 L668.3 475.8 L670.2 457.3" fill="none" stroke="#969696" stroke-width="1.6" stroke-linejoin="round" stroke-linecap="butt"/>
<path d="M484 478.9 L485.9 474.7 L487.8 474.6 L489.7 474 L491.6 483.4 L493.5 468.3 L495.4 477.3 L497.3 470.9 L499.2 472.4 L501.1 468 L503 487.3 L504.9 464.9 L506.8 473.6 L508.7 473.3 L510.6 466.1 L512.5 451.5 L514.4 453.2 L516.3 460.9 L518.2 444.7 L520.1 461.4 L522 455 L523.9 466.5 L525.8 454.8 L527.7 458 L529.6 467.2 L531.5 481.5 L533.4 478.7 L535.3 478.8 L537.2 482.6 L539.1 457.8 L541 445.4 L542.9 458.4 L544.8 458.7 L546.7 469.4 L548.6 474.5 L550.5 444.3 L552.4 471.8 L554.3 461.7 L556.2 446.9 L558.1 448.9 L560 483.2 L561.9 479.1 L563.8 481.4 L565.7 490.9 L567.6 479.2 L569.5 488.2 L571.4 484.3 L573.3 485.3 L575.2 482.1 L577.1 465 L579 488.4 L580.9 461.9 L582.8 481.3 L584.7 455.5 L586.6 477.5 L588.5 465.3 L590.4 474.6 L592.3 467.3 L594.2 451 L596.1 462.4 L598 474.4 L599.9 479.8 L601.8 457.1 L603.7 449.1 L605.6 461.2 L607.5 467.4 L609.4 462.1 L611.3 460.1 L613.2 477.8 L615.1 478.9 L617 476.6 L618.9 459.2 L620.8 470.5 L622.7 467.8 L624.6 455 L626.5 479.3 L628.4 470.6 L630.3 464.2 L632.2 484.2 L634.1 477 L636 477.8 L637.9 481.4 L639.8 476 L641.7 455.5 L643.6 464.7 L645.5 479.4 L647.4 460.7 L649.3 469.3 L651.2 473.1 L653.1 484.3 L655 483.6 L656.9 479.8 L658.8 469.8 L660.7 482.6 L662.6 480.1 L664.5 474.2 L666.4 491.5 L668.3 483.3 L670.2 470.8" fill="none" stroke="#969696" stroke-width="1.6" stroke-linejoin="round" stroke-linecap="butt"/>
<path d="M744.9 361.3 L746.8 372.9 L748.7 380.7 L750.6 382.1 L752.5 379.6 L754.4 379.7 L756.3 384.1 L758.2 385.2 L760.1 384.1 L762 386.1 L763.9 382.8 L765.8 381.1 L767.7 383.1 L769.6 384.3 L771.5 376.8 L773.4 362.3 L775.3 363.8 L777.2 366.3 L779.1 372.2 L781 372.6 L782.9 364.7 L784.8 369 L786.7 371.3 L788.6 374.5 L790.5 371.4 L792.4 370.6 L794.3 368.5 L796.2 371 L798.1 365.6 L800 369.1 L801.9 374.4 L803.8 369.2 L805.7 367.2 L807.6 365.4 L809.5 365.9 L811.4 365.8 L813.3 359.7 L815.2 354.1 L817.1 349.3 L819 349.8 L820.9 361.8 L822.8 386.5 L824.7 401.6 L826.6 408.3 L828.5 403.4 L830.4 399 L832.3 391.8 L834.2 386.1 L836.1 376.7 L838 375.4 L839.9 375.3 L841.8 369.7 L843.7 362.4 L845.6 369.3 L847.5 375.2 L849.4 376 L851.3 375 L853.2 368.7 L855.1 376.1 L857 377.1 L858.9 371.3 L860.8 374.6 L862.7 377 L864.6 373.1 L866.5 373.2 L868.4 373.2 L870.3 373.8 L872.2 371.6 L874.1 374.7 L876 368.8 L877.9 375.1 L879.8 368.4 L881.7 370.6 L883.6 372.6 L885.5 374.1 L887.4 373.8 L889.3 372.1 L891.2 376.3 L893.1 370.5 L895 375.5 L896.9 371 L898.8 372 L900.7 375.8 L902.6 372 L904.5 374.9 L906.4 376.9 L908.3 373.9 L910.2 375.2 L912.1 372.7 L914 368.9 L915.9 374.3 L917.8 371.4 L919.7 377 L921.6 370.6 L923.5 380.2 L925.4 372.8 L927.3 380.2 L929.2 377.1 L929.2 384.9 L927.3 389.6 L925.4 383.2 L923.5 388.2 L921.6 383.4 L919.7 389.3 L917.8 383 L915.9 383.5 L914 379.1 L912.1 384 L910.2 383.1 L908.3 378.2 L906.4 385.9 L904.5 384.9 L902.6 381.9 L900.7 383.7 L898.8 384 L896.9 379.2 L895 387.9 L893.1 381.9 L891.2 390.9 L889.3 386.7 L887.4 384 L885.5 384.4 L883.6 388.7 L881.7 385.1 L879.8 380.6 L877.9 381.6 L876 378.8 L874.1 386.6 L872.2 384.3 L870.3 385.7 L868.4 383.5 L866.5 384.3 L864.6 382.4 L862.7 383.5 L860.8 386.8 L858.9 383.9 L857 384.3 L855.1 386.6 L853.2 381.6 L851.3 386.9 L849.4 386.6 L847.5 383.9 L845.6 384.9 L843.7 378.8 L841.8 382.2 L839.9 379.2 L838 385.3 L836.1 389.6 L834.2 393.2 L832.3 399.6 L830.4 406.2 L828.5 415.6 L826.6 414.9 L824.7 411.1 L822.8 398.9 L820.9 373.2 L819 358.9 L817.1 362.2 L815.2 362.4 L813.3 371.4 L811.4 377.5 L809.5 377.3 L807.6 375.6 L805.7 374.1 L803.8 379.6 L801.9 380.4 L800 380.3 L798.1 375.3 L796.2 374.3 L794.3 375.8 L792.4 379.4 L790.5 379.9 L788.6 383.7 L786.7 388.8 L784.8 376.3 L782.9 374.4 L781 379.6 L779.1 379.5 L777.2 375.6 L775.3 372.4 L773.4 372.3 L771.5 383 L769.6 396.8 L767.7 388.3 L765.8 392.6 L763.9 392.4 L762 394.6 L760.1 393.5 L758.2 395.9 L756.3 395.6 L754.4 392.3 L752.5 388.9 L750.6 384.8 L748.7 387.5 L746.8 382.3 L744.9 376.7Z" fill="#b8b8b8"/>
<path d="M744.9 369 L746.8 377.6 L748.7 384.1 L750.6 383.5 L752.5 384.3 L754.4 386 L756.3 389.8 L758.2 390.5 L760.1 388.8 L762 390.4 L763.9 387.6 L765.8 386.8 L767.7 385.7 L769.6 390.6 L771.5 379.9 L773.4 367.3 L775.3 368.1 L777.2 371 L779.1 375.9 L781 376.1 L782.9 369.6 L784.8 372.6 L786.7 380 L788.6 379.1 L790.5 375.7 L792.4 375 L794.3 372.2 L796.2 372.7 L798.1 370.4 L800 374.7 L801.9 377.4 L803.8 374.4 L805.7 370.6 L807.6 370.5 L809.5 371.6 L811.4 371.6 L813.3 365.6 L815.2 358.3 L817.1 355.8 L819 354.4 L820.9 367.5 L822.8 392.7 L824.7 406.3 L826.6 411.6 L828.5 409.5 L830.4 402.6 L832.3 395.7 L834.2 389.7 L836.1 383.2 L838 380.3 L839.9 377.2 L841.8 376 L843.7 370.6 L845.6 377.1 L847.5 379.5 L849.4 381.3 L851.3 380.9 L853.2 375.2 L855.1 381.4 L857 380.7 L858.9 377.6 L860.8 380.7 L862.7 380.2 L864.6 377.8 L866.5 378.7 L868.4 378.4 L870.3 379.8 L872.2 377.9 L874.1 380.6 L876 373.8 L877.9 378.4 L879.8 374.5 L881.7 377.8 L883.6 380.6 L885.5 379.3 L887.4 378.9 L889.3 379.4 L891.2 383.6 L893.1 376.2 L895 381.7 L896.9 375.1 L898.8 378 L900.7 379.8 L902.6 377 L904.5 379.9 L906.4 381.4 L908.3 376 L910.2 379.2 L912.1 378.3 L914 374 L915.9 378.9 L917.8 377.2 L919.7 383.1 L921.6 377 L923.5 384.2 L925.4 378 L927.3 384.9 L929.2 381" fill="none" stroke="#000" stroke-width="1.7" stroke-linejoin="round" stroke-linecap="butt"/>
<path d="M744.9 457.3 L746.8 465 L748.7 466.6 L750.6 485.4 L752.5 466.7 L754.4 475.2 L756.3 472.3 L758.2 477.9 L760.1 479.4 L762 485.8 L763.9 465.5 L765.8 475.2 L767.7 487 L769.6 470.7 L771.5 467.4 L773.4 451.2 L775.3 443 L777.2 463.1 L779.1 474 L781 459.9 L782.9 444.8 L784.8 461.9 L786.7 463 L788.6 470.5 L790.5 470.8 L792.4 461 L794.3 465.3 L796.2 449.2 L798.1 473.9 L800 470.5 L801.9 479.1 L803.8 479.6 L805.7 470.5 L807.6 472.1 L809.5 467 L811.4 458.3 L813.3 468 L815.2 466.7 L817.1 455.6 L819 465.8 L820.9 471.2 L822.8 492.6 L824.7 493 L826.6 489.4 L828.5 504.5 L830.4 496 L832.3 483.2 L834.2 476.3 L836.1 473.6 L838 471.2 L839.9 464.6 L841.8 447.4 L843.7 472.6 L845.6 452.2 L847.5 468.6 L849.4 471.8 L851.3 478 L853.2 460.5 L855.1 487.8 L857 482.3 L858.9 483.1 L860.8 487.4 L862.7 466.4 L864.6 449.8 L866.5 476.4 L868.4 486 L870.3 484.8 L872.2 468.3 L874.1 473.4 L876 477.1 L877.9 457.2 L879.8 468.2 L881.7 468.5 L883.6 489.7 L885.5 467.7 L887.4 489 L889.3 473.5 L891.2 456.5 L893.1 494.3 L895 463.4 L896.9 479.1 L898.8 489.9 L900.7 468.1 L902.6 461.4 L904.5 483.7 L906.4 473.9 L908.3 461.7 L910.2 463.2 L912.1 470.7 L914 483.9 L915.9 472 L917.8 481 L919.7 490 L921.6 485.5 L923.5 486.4 L925.4 482.9 L927.3 453.6 L929.2 479.4" fill="none" stroke="#969696" stroke-width="1.6" stroke-linejoin="round" stroke-linecap="butt"/>
<path d="M744.9 468.2 L746.8 475.1 L748.7 478.6 L750.6 484.9 L752.5 481.4 L754.4 485.9 L756.3 502.6 L758.2 487.3 L760.1 496.3 L762 487.2 L763.9 479.8 L765.8 478.1 L767.7 473.6 L769.6 479.3 L771.5 466.6 L773.4 457.1 L775.3 475.5 L777.2 466.4 L779.1 480.4 L781 471.3 L782.9 472.7 L784.8 461.5 L786.7 471.2 L788.6 488.6 L790.5 477.3 L792.4 476.2 L794.3 466.6 L796.2 470.2 L798.1 452.3 L800 456.2 L801.9 467.9 L803.8 470.5 L805.7 458.7 L807.6 460.2 L809.5 458.5 L811.4 459.6 L813.3 445.5 L815.2 439.7 L817.1 451.1 L819 433.7 L820.9 452.2 L822.8 475.5 L824.7 483.2 L826.6 500.5 L828.5 492.5 L830.4 490.3 L832.3 475.6 L834.2 473.9 L836.1 483.1 L838 477.3 L839.9 463.1 L841.8 469.1 L843.7 463.4 L845.6 463.3 L847.5 483.8 L849.4 461 L851.3 470.6 L853.2 470.7 L855.1 462 L857 450.3 L858.9 471.6 L860.8 466.1 L862.7 463.2 L864.6 462.6 L866.5 462.5 L868.4 451.8 L870.3 465.9 L872.2 441.4 L874.1 463.2 L876 446.7 L877.9 461.4 L879.8 475.1 L881.7 464.5 L883.6 462.9 L885.5 475.4 L887.4 466.6 L889.3 465.1 L891.2 464.8 L893.1 487 L895 476.1 L896.9 472.9 L898.8 452.3 L900.7 473.4 L902.6 450.3 L904.5 471.1 L906.4 452.2 L908.3 489.2 L910.2 446.8 L912.1 482 L914 477.6 L915.9 448 L917.8 467.3 L919.7 488.6 L921.6 485.8 L923.5 454 L925.4 468.3 L927.3 461.6 L929.2 464.2" fill="none" stroke="#969696" stroke-width="1.6" stroke-linejoin="round" stroke-linecap="butt"/>
<path d="M744.9 457.4 L746.8 478.6 L748.7 469.9 L750.6 476.3 L752.5 476.8 L754.4 476.8 L756.3 480.9 L758.2 488.4 L760.1 499.4 L762 468 L763.9 476.6 L765.8 471.5 L767.7 464.6 L769.6 472.5 L771.5 456.7 L773.4 451.8 L775.3 465.7 L777.2 443.5 L779.1 463 L781 463.4 L782.9 448.9 L784.8 462.7 L786.7 465.3 L788.6 461.8 L790.5 474.7 L792.4 454.5 L794.3 469.2 L796.2 462 L798.1 457.8 L800 466.8 L801.9 466.5 L803.8 475 L805.7 456.7 L807.6 466.3 L809.5 463.7 L811.4 479.2 L813.3 453.2 L815.2 466.4 L817.1 444.1 L819 457.8 L820.9 465.9 L822.8 490.4 L824.7 493 L826.6 488.4 L828.5 489.2 L830.4 504.7 L832.3 489.4 L834.2 475.8 L836.1 487.4 L838 465.9 L839.9 461.2 L841.8 452.6 L843.7 473.6 L845.6 482.9 L847.5 457.9 L849.4 472.9 L851.3 481.7 L853.2 494.9 L855.1 451.2 L857 476.9 L858.9 482.6 L860.8 461.7 L862.7 480.4 L864.6 478 L866.5 482.8 L868.4 469 L870.3 478.3 L872.2 467.4 L874.1 479.5 L876 474.6 L877.9 469.4 L879.8 459.2 L881.7 490.5 L883.6 485.1 L885.5 482.8 L887.4 467.2 L889.3 470.3 L891.2 490.1 L893.1 479.6 L895 462.9 L896.9 471.2 L898.8 471.8 L900.7 468 L902.6 460.7 L904.5 483.3 L906.4 477 L908.3 469.5 L910.2 455.9 L912.1 466.6 L914 472.3 L915.9 480.4 L917.8 466.5 L919.7 479.9 L921.6 468.4 L923.5 458.5 L925.4 442.2 L927.3 452.9 L929.2 449.4" fill="none" stroke="#969696" stroke-width="1.6" stroke-linejoin="round" stroke-linecap="butt"/>
<path d="M744.9 447.4 L746.8 464.3 L748.7 467.5 L750.6 473.3 L752.5 473.7 L754.4 481.3 L756.3 487 L758.2 479.7 L760.1 486.4 L762 494.9 L763.9 467.5 L765.8 466.6 L767.7 478.8 L769.6 489.4 L771.5 468.4 L773.4 465.2 L775.3 457.3 L777.2 470.5 L779.1 460.4 L781 470.5 L782.9 464.4 L784.8 467.4 L786.7 480.3 L788.6 479.4 L790.5 466.2 L792.4 477.8 L794.3 454.8 L796.2 475.9 L798.1 486.6 L800 474.4 L801.9 473.6 L803.8 468.7 L805.7 473.7 L807.6 461.7 L809.5 469.9 L811.4 460.7 L813.3 453.7 L815.2 453.9 L817.1 451 L819 433.5 L820.9 476.7 L822.8 480.5 L824.7 475.8 L826.6 504.5 L828.5 493.1 L830.4 489.5 L832.3 487.9 L834.2 470.5 L836.1 449.2 L838 469.7 L839.9 469.4 L841.8 474.5 L843.7 451.6 L845.6 458.1 L847.5 470.3 L849.4 464 L851.3 466 L853.2 472.8 L855.1 459.8 L857 489.1 L858.9 461.7 L860.8 472.6 L862.7 468.4 L864.6 463.7 L866.5 476.9 L868.4 481.8 L870.3 485.8 L872.2 475.3 L874.1 463.6 L876 478.2 L877.9 453.1 L879.8 470.2 L881.7 476.6 L883.6 478.6 L885.5 461.7 L887.4 459.9 L889.3 495.9 L891.2 474 L893.1 462.7 L895 468.2 L896.9 482.8 L898.8 495.6 L900.7 482.4 L902.6 495.2 L904.5 484.2 L906.4 486.1 L908.3 491.2 L910.2 475.5 L912.1 481.7 L914 473.2 L915.9 469.2 L917.8 482 L919.7 464.3 L921.6 472.9 L923.5 461.9 L925.4 468.4 L927.3 462.5 L929.2 479.1" fill="none" stroke="#969696" stroke-width="1.6" stroke-linejoin="round" stroke-linecap="butt"/>
<text transform="translate(399.6 554.7) scale(1 1.04)" class="b">C</text>
<text transform="translate(437.3 647.6) rotate(-90) scale(1 1.04)" text-anchor="middle">Normalized</text>
<text transform="translate(474 647.5) rotate(-90) scale(1 1.04)" text-anchor="middle">fluorescence</text>
<text transform="translate(503.2 609) scale(1 1.04)" text-anchor="end">1</text>
<text transform="translate(503.2 730.2) scale(1 1.04)" text-anchor="end">0</text>
<path d="M518.1 574.1V720.6 M507.3 574.9H518.1M507.3 599H518.1M507.3 623.2H518.1M507.3 647.3H518.1M507.3 671.5H518.1M507.3 695.6H518.1M507.3 719.8H518.1" fill="none" stroke="#000" stroke-width="1.6"/>
<path d="M523.3 597.8 L524.5 593.1 L525.8 591.1 L527 589.4 L528.3 585.9 L529.5 586.3 L530.8 586.9 L532 588.2 L533.3 591.8 L534.5 591 L535.8 591.4 L537 593.9 L538.3 592.9 L539.5 595.7 L540.8 599.3 L542 600.6 L543.3 603.8 L544.5 601.1 L545.8 595.2 L547 598.1 L548.3 595.8 L549.5 593.8 L550.8 599.9 L552 599.4 L553.3 598.1 L554.5 601.6 L555.8 602.2 L557 606.4 L558.3 602.8 L559.5 604.2 L560.8 600.1 L562 596 L563.3 591.1 L564.5 589.6 L565.8 592.8 L567 593.8 L568.3 592.7 L569.5 594 L570.8 597.5 L572 596.4 L573.3 596.9 L574.5 595.4 L575.8 602.4 L577 601.4 L578.3 598.3 L579.5 599.7 L580.8 598.5 L582 589.9 L583.3 593.2 L584.5 594.7 L585.8 597.7 L587 597.3 L588.3 598 L589.5 599.2 L590.8 604.1 L592 606.2 L593.3 603 L594.5 603.7 L595.8 611.5 L597 605.8 L598.3 601 L599.5 596.7 L600.8 593.5 L602 595.2 L603.3 595 L604.5 593.8 L605.8 597.4 L607 598.1 L608.3 602.2 L609.5 599.9 L610.8 598.5 L612 599.7 L613.3 604.8 L614.5 602 L615.8 599.7 L617 602.8 L618.3 604.2 L619.5 605.4 L620.8 599.3 L622 600 L623.3 598 L624.5 594.9 L625.8 596.3 L627 600.1 L628.3 600.6 L629.5 599.7 L630.8 599.6 L632 601.9 L633.3 601.1 L634.5 602.6 L635.8 602.6 L637 605.2 L638.3 606.2 L639.5 612.3 L640.8 608.1 L642 607.2 L643.3 602.4 L644.5 594.7 L645.8 594.5 L647 589.2 L648.3 593.9 L649.5 595.9 L650.8 590.9 L652 593.8 L653.3 598.7 L654.5 597.5 L655.8 597.1 L657 599.4 L658.3 600.1 L659.5 603.4 L660.8 602.8 L662 600.5 L663.3 598.8 L664.5 600.4 L665.8 604.4 L667 604.2 L668.3 606 L669.5 605.9 L670.8 605 L672 606.9 L673.3 610.2 L674.5 610.3 L675.8 609.4 L677 609 L678.3 609.4 L679.5 602.8 L680.8 597.1 L682 594.2 L683.3 597.3 L684.5 599.3 L685.8 602.3 L687 603.8 L688.3 605.7 L689.5 605.5 L690.8 604.2 L692 605.5 L693.3 607.5 L694.5 607.3 L695.8 605.5 L697 603.2 L698.3 597.4 L699.5 597.3 L700.8 604.1 L702 603.6 L703.3 606.3 L704.5 604.1 L705.8 610.2 L707 609.3 L708.3 608.6 L709.5 609.1 L710.8 610.9 L712 609.2 L713.3 605.4 L714.5 600.1 L715.8 600.6 L717 597.3 L718.3 598.8 L719.5 600.3 L720.8 597.6 L722 604 L723.3 603.7 L724.5 604.8 L725.8 606.3 L727 605.4 L728.3 609.6 L729.5 607.4 L730.8 603.7 L732 600.3 L733.3 598.7 L734.5 598.6 L735.8 598.1 L737 598.5 L738.3 605.1 L739.5 603.6 L740.8 609.2 L742 608.4 L743.3 608.5 L744.5 609.7 L745.8 612.8 L747 611.1 L748.3 604.2 L749.5 601.1 L750.8 598.1 L752 595 L753.3 594.2 L754.5 595.2 L755.8 595.6 L757 598.3 L758.3 600 L759.5 600.8 L760.8 605.9 L762 602.2 L763.3 605.4 L764.5 608.8 L765.8 604.8 L767 601.6 L768.3 600.8 L769.5 604.5 L770.8 603.6 L772 603.9 L773.3 602.5 L774.5 605.5 L775.8 605.6 L777 606.9 L778.3 608.4 L779.5 611.3 L780.8 612.5 L782 611.7 L783.3 603.2 L784.5 600.6 L785.8 600 L787 598 L788.3 601.4 L789.5 602.7 L790.8 604.6 L792 605.2 L793.3 602.9 L794.5 606.2 L795.8 607.2 L797 606.3 L798.3 609.2 L799.5 607.3 L800.8 603.1 L802 603 L803.3 599.1 L804.5 597.1 L805.8 597.9 L807 600 L808.3 601.5 L809.5 602.6 L810.8 604.4 L812 605.1 L813.3 608.2 L814.5 610.2 L815.8 611.8 L817 611.8 L818.3 613.5 L819.5 617 L820.8 612.1 L822 606.3 L823.3 595.9 L824.5 591.2 L825.8 598 L827 599.6 L828.3 603.2 L829.5 603.5 L830.8 604 L832 604.9 L833.3 603.5 L834.5 609 L835.8 607.9 L837 611.6 L838.3 611.9 L839.5 607.6 L840.8 604.2 L842 599.1 L843.3 600.5 L844.5 600.8 L845.8 602.8 L847 607.4 L848.3 604.9 L849.5 608.6 L850.8 609 L852 610.1 L853.3 611.6 L854.5 609.9 L855.8 613.8 L857 613.8 L858.3 604.9 L859.5 601.1 L860.8 597.4 L862 600.6 L863.3 599.4 L864.5 605.5 L865.8 603.4 L867 602.8 L868.3 610.2 L869.5 610.3 L870.8 610.4 L872 611.1 L873.3 610.2 L874.5 611.3 L875.8 613.9 L877 615.3 L878.3 616.6 L879.5 614.3 L880.8 610.7 L882 608.6 L883.3 609.3 L884.5 610.6 L885.8 608.1 L887 608.4 L888.3 612 L889.5 612.3 L890.8 613.7 L892 611.9 L893.3 615.3 L894.5 617 L895.8 615 L897 605.6 L898.3 604.6 L899.5 598.1 L900.8 599.7 L902 598.4 L903.3 602 L904.5 606.2 L905.8 603.2 L907 608.7 L908.3 611.4 L909.5 610.8 L910.8 615.1 L912 611.4 L913.3 611.2 L914.5 607.1 L915.8 604 L917 608.1 L918.3 607.4 L919.5 609.7 L920.8 606.7 L922 609.3 L923.3 613.5 L924.5 615.2 L925.8 615 L927 617.4 L928.3 608.5 L929.5 605.1 L930.8 597.5 L932 601.1 L933.3 600.7 L934.5 601.6 L935.8 603.9 L937 608.3 L938.3 604.7 L939.5 606.6 L940.8 610.6 L942 608.8 L943.3 610.2 L944.5 605.2 L945.8 602.8 L947 603.8 L948.3 608 L949.5 607.7 L950.8 609.1 L952 610.4 L953.3 609.2 L954.5 612.1 L955.8 617.8 L957 618.1 L958.3 618.9 L959.5 620.3 L960.8 619.4 L962 614.4 L963.3 605.4 L964.5 600.9 L965.8 597.6 L967 599.6 L968.3 601.9 L968.3 607.1 L967 605 L965.8 603.1 L964.5 606.2 L963.3 610.3 L962 619 L960.8 623.6 L959.5 624.1 L958.3 622.4 L957 621.6 L955.8 621.5 L954.5 616.3 L953.3 614.1 L952 615.8 L950.8 614.6 L949.5 613.1 L948.3 613.3 L947 609.2 L945.8 608.3 L944.5 610.9 L943.3 616 L942 614.3 L940.8 615.7 L939.5 611.4 L938.3 609.5 L937 613.5 L935.8 609.6 L934.5 607.7 L933.3 607.3 L932 608.2 L930.8 604.8 L929.5 612.5 L928.3 615.6 L927 624 L925.8 621.3 L924.5 621.4 L923.3 619.8 L922 615.7 L920.8 613.3 L919.5 616.4 L918.3 614.4 L917 615.1 L915.8 611.1 L914.5 614.2 L913.3 617.9 L912 617.6 L910.8 620.8 L909.5 616 L908.3 616.4 L907 613.8 L905.8 608.8 L904.5 612.3 L903.3 608.4 L902 604.8 L900.8 605.9 L899.5 603.8 L898.3 609.8 L897 610.7 L895.8 620.3 L894.5 622.5 L893.3 621.2 L892 617.9 L890.8 619.7 L889.5 617.8 L888.3 616.9 L887 612.7 L885.8 611.6 L884.5 613.5 L883.3 611.8 L882 610.9 L880.8 613.3 L879.5 617.6 L878.3 620.8 L877 620.4 L875.8 619.5 L874.5 617.2 L873.3 616.1 L872 616.7 L870.8 615.7 L869.5 615.7 L868.3 615.8 L867 608.5 L865.8 609.1 L864.5 611 L863.3 604.7 L862 605.5 L860.8 602.3 L859.5 606.1 L858.3 610 L857 619.1 L855.8 619.2 L854.5 615.6 L853.3 617.7 L852 616.2 L850.8 615 L849.5 614.1 L848.3 610 L847 612.3 L845.8 607.5 L844.5 605.6 L843.3 605.3 L842 604.1 L840.8 609.2 L839.5 612.9 L838.3 617.5 L837 617.6 L835.8 614.4 L834.5 615.7 L833.3 610.1 L832 610.9 L830.8 609.5 L829.5 608.7 L828.3 608.4 L827 605.1 L825.8 603.7 L824.5 596.9 L823.3 601.6 L822 612 L820.8 617.9 L819.5 622.8 L818.3 619.2 L817 617.4 L815.8 617.5 L814.5 616.3 L813.3 614.4 L812 611.3 L810.8 610.4 L809.5 608.4 L808.3 607.1 L807 605.6 L805.8 603.7 L804.5 602.9 L803.3 604.6 L802 608.3 L800.8 608.1 L799.5 612 L798.3 613.6 L797 610.5 L795.8 611.5 L794.5 610.7 L793.3 607.9 L792 610.7 L790.8 610.5 L789.5 608.8 L788.3 607.4 L787 603.8 L785.8 605.2 L784.5 605.4 L783.3 607.8 L782 616.3 L780.8 617.5 L779.5 616.6 L778.3 614 L777 612.4 L775.8 610.5 L774.5 609.7 L773.3 606 L772 606.9 L770.8 606.5 L769.5 607.6 L768.3 604.4 L767 605.6 L765.8 609 L764.5 613.2 L763.3 609.7 L762 606.4 L760.8 610.4 L759.5 605.6 L758.3 605.1 L757 603.8 L755.8 601.2 L754.5 600.8 L753.3 599.4 L752 599.9 L750.8 602.8 L749.5 605.6 L748.3 608.7 L747 615.7 L745.8 617.5 L744.5 614.2 L743.3 612.6 L742 612.4 L740.8 613.3 L739.5 608.3 L738.3 610.4 L737 604.3 L735.8 604 L734.5 604.5 L733.3 604.5 L732 606.3 L730.8 609.8 L729.5 613.7 L728.3 615.8 L727 611.4 L725.8 611.8 L724.5 609.7 L723.3 608.3 L722 608.7 L720.8 602.7 L719.5 606.2 L718.3 605.3 L717 604.1 L715.8 607.3 L714.5 606.4 L713.3 611.2 L712 614.8 L710.8 616.7 L709.5 615.3 L708.3 615.1 L707 615.9 L705.8 616.9 L704.5 610.4 L703.3 612.2 L702 609.3 L700.8 609.7 L699.5 602.9 L698.3 603.1 L697 609.4 L695.8 612.1 L694.5 614.4 L693.3 615 L692 612.9 L690.8 611.2 L689.5 611.8 L688.3 611.3 L687 608.8 L685.8 606.9 L684.5 604.2 L683.3 602.7 L682 600.3 L680.8 604 L679.5 609.9 L678.3 616.4 L677 615.5 L675.8 615.5 L674.5 616.1 L673.3 615.9 L672 612.3 L670.8 610.1 L669.5 610.4 L668.3 610.2 L667 608.1 L665.8 608.5 L664.5 604.8 L663.3 603.8 L662 606.1 L660.8 608.8 L659.5 609.5 L658.3 606.1 L657 605.1 L655.8 602.5 L654.5 602.8 L653.3 604 L652 599.2 L650.8 596.5 L649.5 601.6 L648.3 599.7 L647 595.1 L645.8 600.2 L644.5 600.2 L643.3 607.4 L642 611.9 L640.8 612.5 L639.5 616.2 L638.3 609.8 L637 608.6 L635.8 605.7 L634.5 605.9 L633.3 604.8 L632 606.1 L630.8 604.4 L629.5 604.9 L628.3 605.9 L627 605.4 L625.8 601.2 L624.5 599.7 L623.3 602.7 L622 604.8 L620.8 604.1 L619.5 610.3 L618.3 608.8 L617 606.9 L615.8 603.2 L614.5 605.1 L613.3 607.9 L612 602.9 L610.8 601.7 L609.5 603.4 L608.3 606 L607 602.6 L605.8 602.5 L604.5 599.5 L603.3 601 L602 601.2 L600.8 599.3 L599.5 602.6 L598.3 607.1 L597 611.9 L595.8 617.4 L594.5 609.1 L593.3 607.9 L592 610.8 L590.8 608.6 L589.5 603.5 L588.3 602 L587 601.2 L585.8 601.6 L584.5 599 L583.3 598 L582 595.1 L580.8 604 L579.5 605.6 L578.3 604.8 L577 608.3 L575.8 609.4 L574.5 602.1 L573.3 602.8 L572 601.4 L570.8 601.7 L569.5 597.5 L568.3 596.1 L567 597.1 L565.8 596.1 L564.5 592.9 L563.3 594.7 L562 599.9 L560.8 604.4 L559.5 608.7 L558.3 607.3 L557 610.7 L555.8 606.2 L554.5 605.7 L553.3 602.5 L552 604.1 L550.8 604.7 L549.5 598.7 L548.3 600.7 L547 603 L545.8 600.3 L544.5 606.1 L543.3 608.7 L542 605.1 L540.8 603.4 L539.5 599.4 L538.3 596.6 L537 597.7 L535.8 595.5 L534.5 595.5 L533.3 596.9 L532 593.7 L530.8 592.9 L529.5 592.9 L528.3 592.9 L527 596.3 L525.8 597.6 L524.5 598.9 L523.3 603Z" fill="#c4c4c4"/>
<path d="M523.3 591.5 L523.6 608 L523.3 600.4 L524.5 596 L525.8 594.3 L527 592.8 L528.3 589.4 L529.5 589.6 L530.8 589.9 L532 591 L533.3 594.3 L534.5 593.3 L535.8 593.4 L537 595.8 L538.3 594.7 L539.5 597.5 L540.8 601.3 L542 602.8 L543.3 606.2 L544.5 603.6 L545.8 597.8 L547 600.5 L548.3 598.2 L549.5 596.2 L550.8 602.3 L552 601.7 L553.3 600.3 L554.5 603.7 L555.8 604.2 L557 608.5 L558.3 605.1 L559.5 606.4 L560.8 602.2 L562 597.9 L563.3 592.9 L564.5 591.2 L565.8 594.5 L567 595.4 L568.3 594.4 L569.5 595.8 L570.8 599.6 L572 598.9 L573.3 599.8 L574.5 598.8 L575.8 605.9 L577 604.9 L578.3 601.6 L579.5 602.7 L580.8 601.2 L582 592.5 L583.3 595.6 L584.5 596.8 L585.8 599.6 L587 599.2 L588.3 600 L589.5 601.3 L590.8 606.3 L592 608.5 L593.3 605.5 L594.5 606.4 L595.8 614.4 L597 608.8 L598.3 604.1 L599.5 599.6 L600.8 596.4 L602 598.2 L603.3 598 L604.5 596.7 L605.8 600 L607 600.4 L608.3 604.1 L609.5 601.7 L610.8 600.1 L612 601.3 L613.3 606.3 L614.5 603.5 L615.8 601.5 L617 604.8 L618.3 606.5 L619.5 607.8 L620.8 601.7 L622 602.4 L623.3 600.3 L624.5 597.3 L625.8 598.7 L627 602.8 L628.3 603.2 L629.5 602.3 L630.8 602 L632 604 L633.3 602.9 L634.5 604.3 L635.8 604.2 L637 606.9 L638.3 608 L639.5 614.3 L640.8 610.3 L642 609.6 L643.3 604.9 L644.5 597.4 L645.8 597.4 L647 592.1 L648.3 596.8 L649.5 598.8 L650.8 593.7 L652 596.5 L653.3 601.3 L654.5 600.2 L655.8 599.8 L657 602.2 L658.3 603.1 L659.5 606.4 L660.8 605.8 L662 603.3 L663.3 601.3 L664.5 602.6 L665.8 606.4 L667 606.2 L668.3 608.1 L669.5 608.1 L670.8 607.6 L672 609.6 L673.3 613.1 L674.5 613.2 L675.8 612.5 L677 612.3 L678.3 612.9 L679.5 606.3 L680.8 600.6 L682 597.2 L683.3 600 L684.5 601.7 L685.8 604.6 L687 606.3 L688.3 608.5 L689.5 608.6 L690.8 607.7 L692 609.2 L693.3 611.2 L694.5 610.9 L695.8 608.8 L697 606.3 L698.3 600.2 L699.5 600.1 L700.8 606.9 L702 606.4 L703.3 609.2 L704.5 607.2 L705.8 613.6 L707 612.6 L708.3 611.8 L709.5 612.2 L710.8 613.8 L712 612 L713.3 608.3 L714.5 603.3 L715.8 603.9 L717 600.7 L718.3 602.1 L719.5 603.3 L720.8 600.1 L722 606.3 L723.3 606 L724.5 607.2 L725.8 609 L727 608.4 L728.3 612.7 L729.5 610.6 L730.8 606.7 L732 603.3 L733.3 601.6 L734.5 601.5 L735.8 601.1 L737 601.4 L738.3 607.8 L739.5 605.9 L740.8 611.3 L742 610.4 L743.3 610.5 L744.5 611.9 L745.8 615.2 L747 613.4 L748.3 606.4 L749.5 603.4 L750.8 600.4 L752 597.4 L753.3 596.8 L754.5 598 L755.8 598.4 L757 601 L758.3 602.6 L759.5 603.2 L760.8 608.1 L762 604.3 L763.3 607.5 L764.5 611 L765.8 606.9 L767 603.6 L768.3 602.6 L769.5 606.1 L770.8 605 L772 605.4 L773.3 604.3 L774.5 607.6 L775.8 608 L777 609.6 L778.3 611.2 L779.5 613.9 L780.8 615 L782 614 L783.3 605.5 L784.5 603 L785.8 602.6 L787 600.9 L788.3 604.4 L789.5 605.8 L790.8 607.5 L792 608 L793.3 605.4 L794.5 608.4 L795.8 609.4 L797 608.4 L798.3 611.4 L799.5 609.7 L800.8 605.6 L802 605.6 L803.3 601.9 L804.5 600 L805.8 600.8 L807 602.8 L808.3 604.3 L809.5 605.5 L810.8 607.4 L812 608.2 L813.3 611.3 L814.5 613.2 L815.8 614.7 L817 614.6 L818.3 616.4 L819.5 619.9 L820.8 615 L822 609.1 L823.3 598.7 L824.5 594 L825.8 600.9 L827 602.4 L828.3 605.8 L829.5 606.1 L830.8 606.8 L832 607.9 L833.3 606.8 L834.5 612.3 L835.8 611.2 L837 614.6 L838.3 614.7 L839.5 610.2 L840.8 606.7 L842 601.6 L843.3 602.9 L844.5 603.2 L845.8 605.2 L847 609.9 L848.3 607.4 L849.5 611.3 L850.8 612 L852 613.2 L853.3 614.6 L854.5 612.8 L855.8 616.5 L857 616.4 L858.3 607.4 L859.5 603.6 L860.8 599.8 L862 603 L863.3 602.1 L864.5 608.3 L865.8 606.2 L867 605.7 L868.3 613 L869.5 613 L870.8 613.1 L872 613.9 L873.3 613.2 L874.5 614.2 L875.8 616.7 L877 617.8 L878.3 618.7 L879.5 615.9 L880.8 612 L882 609.7 L883.3 610.6 L884.5 612.1 L885.8 609.8 L887 610.5 L888.3 614.5 L889.5 615 L890.8 616.7 L892 614.9 L893.3 618.3 L894.5 619.7 L895.8 617.7 L897 608.2 L898.3 607.2 L899.5 601 L900.8 602.8 L902 601.6 L903.3 605.2 L904.5 609.2 L905.8 606 L907 611.2 L908.3 613.9 L909.5 613.4 L910.8 618 L912 614.5 L913.3 614.6 L914.5 610.7 L915.8 607.5 L917 611.6 L918.3 610.9 L919.5 613 L920.8 610 L922 612.5 L923.3 616.6 L924.5 618.3 L925.8 618.2 L927 620.7 L928.3 612 L929.5 608.8 L930.8 601.1 L932 604.6 L933.3 604 L934.5 604.6 L935.8 606.7 L937 610.9 L938.3 607.1 L939.5 609 L940.8 613.1 L942 611.5 L943.3 613.1 L944.5 608.1 L945.8 605.5 L947 606.5 L948.3 610.6 L949.5 610.4 L950.8 611.9 L952 613.1 L953.3 611.6 L954.5 614.2 L955.8 619.7 L957 619.9 L958.3 620.6 L959.5 622.2 L960.8 621.5 L962 616.7 L963.3 607.9 L964.5 603.5 L965.8 600.3 L967 602.3 L968.3 604.5" fill="none" stroke="#000" stroke-width="2.1" stroke-linejoin="round" stroke-linecap="butt"/>
<path d="M518.5 598.4H968.5" stroke="#000" stroke-width="1.4" stroke-dasharray="7.5 3.6" fill="none"/>
<path d="M664.6 574V695.6 M803.4 574V695.6" stroke="#000" stroke-width="1.6" stroke-dasharray="7 3.6" fill="none"/>
<path d="M676 695.6H792" stroke="#000" stroke-width="1.7"/>
<path d="M664.6 695.6L681 689.2L677.5 695.6L681 702Z M803.4 695.6L787 689.2L790.5 695.6L787 702Z" fill="#000"/>
<text transform="translate(735.6 688.5) scale(1 1.04)" text-anchor="middle">30 s</text>
<text transform="translate(13.6 799.8) scale(1 1.04)" class="b">D</text>
<text transform="translate(459.3 799.2) scale(1 1.04)" text-anchor="middle">Frequency</text>
<text transform="translate(355.8 832.4) scale(1 1.04)">0.5</text>
<text transform="translate(554.6 832.4) scale(1 1.04)" text-anchor="end">8 Hz</text>
<text transform="translate(700.6 798.3) scale(1 1.04)" text-anchor="middle">Constrast</text>
<text transform="translate(603.6 832.6) scale(1 1.04)">5</text>
<text transform="translate(801 832.6) scale(1 1.04)" text-anchor="end" textLength="73.8" lengthAdjust="spacingAndGlyphs">100%</text>
<path d="M356.4 863L553.9 840.7V863Z M603.3 863L800.1 840.5V863Z" fill="#808080" stroke="#808080" stroke-width="1" stroke-linejoin="round"/>
<rect x="155.4" y="875.5" width="75.3" height="134.9" fill="#fefb96"/>
<rect x="304.9" y="875.5" width="548.2" height="134.9" fill="#fefb96"/>
<text transform="translate(54.8 927.5) rotate(-90) scale(1 1.04)">Light</text>
<text transform="translate(80.5 883.6) scale(1 1.04)" text-anchor="end">1</text>
<text transform="translate(80.5 925.2) scale(1 1.04)" text-anchor="end">0</text>
<path d="M84.7 876.2H97.9V915.4H84.7" fill="none" stroke="#000" stroke-width="1.6"/>
<rect x="358.7" y="867.9" width="207.5" height="146.8" fill="none" stroke="#a4a4a4" stroke-width="1.9" stroke-dasharray="8 4"/>
<path d="M358.7 1014.7L180 1040.5 M566.2 1014.7L762 1040.5" fill="none" stroke="#a4a4a4" stroke-width="1.8" stroke-dasharray="8.5 4.5"/>
<path d="M106.2 915.4 L156 915.4 L156 876.2 L230.7 876.2 L230.7 915.4 L304.9 915.4 L304.9 895.7 L358.7 895.7 L358.7 895.7 L358.8 895.7 L358.9 895.6 L359 895.6 L359.1 895.6 L359.2 895.6 L359.3 895.5 L359.4 895.5 L359.5 895.4 L359.6 895.4 L359.7 895.4 L359.8 895.3 L359.9 895.3 L360 895.2 L360.1 895.2 L360.2 895.1 L360.3 895.1 L360.4 895 L360.5 894.9 L360.6 894.9 L360.7 894.8 L360.8 894.8 L360.9 894.7 L361 894.6 L361.1 894.6 L361.1 894.5 L361.2 894.4 L361.3 894.3 L361.4 894.3 L361.5 894.2 L361.6 894.1 L361.7 894 L361.8 893.9 L361.9 893.8 L362 893.7 L362.1 893.7 L362.2 893.6 L362.3 893.5 L362.4 893.4 L362.5 893.3 L362.6 893.2 L362.7 893.1 L362.8 893 L362.9 892.9 L363 892.7 L363.1 892.6 L363.2 892.5 L363.3 892.4 L363.4 892.3 L363.5 892.2 L363.6 892.1 L363.7 891.9 L363.8 891.8 L363.9 891.7 L364 891.6 L364.1 891.4 L364.2 891.3 L364.3 891.2 L364.4 891.1 L364.5 890.9 L364.6 890.8 L364.7 890.6 L364.8 890.5 L364.9 890.4 L365 890.2 L365.1 890.1 L365.2 889.9 L365.3 889.8 L365.4 889.6 L365.5 889.5 L365.6 889.3 L365.7 889.2 L365.8 889 L365.9 888.9 L366 888.7 L366.1 888.6 L366.1 888.4 L366.2 888.2 L366.3 888.1 L366.4 887.9 L366.5 887.8 L366.6 887.6 L366.7 887.4 L366.8 887.3 L366.9 887.1 L367 886.9 L367.1 886.7 L367.2 886.6 L367.3 886.4 L367.4 886.2 L367.5 886.1 L367.6 885.9 L367.7 885.7 L367.8 885.5 L367.9 885.4 L368 885.2 L368.1 885 L368.2 884.8 L368.3 884.7 L368.4 884.5 L368.5 884.3 L368.6 884.1 L368.7 883.9 L368.8 883.8 L368.9 883.6 L369 883.4 L369.1 883.2 L369.2 883.1 L369.3 882.9 L369.4 882.7 L369.5 882.5 L369.6 882.3 L369.7 882.2 L369.8 882 L369.9 881.8 L370 881.6 L370.1 881.5 L370.2 881.3 L370.3 881.1 L370.4 881 L370.5 880.8 L370.6 880.6 L370.7 880.5 L370.8 880.3 L370.9 880.1 L370.9 880 L371 879.8 L371.1 879.7 L371.2 879.5 L371.3 879.4 L371.4 879.2 L371.5 879.1 L371.6 878.9 L371.7 878.8 L371.8 878.6 L371.9 878.5 L372 878.4 L372.1 878.2 L372.2 878.1 L372.3 878 L372.4 877.8 L372.5 877.7 L372.6 877.6 L372.7 877.5 L372.8 877.4 L372.9 877.3 L373 877.2 L373.1 877.1 L373.2 877 L373.3 876.9 L373.4 876.8 L373.5 876.7 L373.6 876.6 L373.7 876.6 L373.8 876.5 L373.9 876.4 L374 876.4 L374.1 876.3 L374.2 876.3 L374.3 876.2 L374.4 876.2 L374.5 876.2 L374.6 876.1 L374.7 876.1 L374.8 876.1 L374.9 876.1 L375 876.1 L375.1 876.1 L375.2 876.1 L375.3 876.1 L375.4 876.2 L375.5 876.2 L375.6 876.2 L375.7 876.3 L375.8 876.3 L375.8 876.4 L375.9 876.4 L376 876.5 L376.1 876.6 L376.2 876.7 L376.3 876.8 L376.4 876.9 L376.5 877 L376.6 877.1 L376.7 877.2 L376.8 877.3 L376.9 877.5 L377 877.6 L377.1 877.8 L377.2 877.9 L377.3 878.1 L377.4 878.3 L377.5 878.5 L377.6 878.7 L377.7 878.9 L377.8 879.1 L377.9 879.3 L378 879.5 L378.1 879.7 L378.2 880 L378.3 880.2 L378.4 880.5 L378.5 880.8 L378.6 881 L378.7 881.3 L378.8 881.6 L378.9 881.9 L379 882.2 L379.1 882.5 L379.2 882.8 L379.3 883.2 L379.4 883.5 L379.5 883.8 L379.6 884.2 L379.7 884.5 L379.8 884.9 L379.9 885.3 L380 885.7 L380.1 886.1 L380.2 886.4 L380.3 886.8 L380.4 887.3 L380.5 887.7 L380.6 888.1 L380.7 888.5 L380.8 888.9 L380.8 889.4 L380.9 889.8 L381 890.3 L381.1 890.7 L381.2 891.2 L381.3 891.6 L381.4 892.1 L381.5 892.6 L381.6 893 L381.7 893.5 L381.8 894 L381.9 894.5 L382 895 L382.1 895.4 L382.2 895.9 L382.3 896.4 L382.4 896.9 L382.5 897.4 L382.6 897.9 L382.7 898.4 L382.8 898.9 L382.9 899.4 L383 899.9 L383.1 900.4 L383.2 900.9 L383.3 901.4 L383.4 901.9 L383.5 902.3 L383.6 902.8 L383.7 903.3 L383.8 903.8 L383.9 904.3 L384 904.7 L384.1 905.2 L384.2 905.6 L384.3 906.1 L384.4 906.5 L384.5 907 L384.6 907.4 L384.7 907.8 L384.8 908.3 L384.9 908.7 L385 909.1 L385.1 909.5 L385.2 909.9 L385.3 910.2 L385.4 910.6 L385.5 910.9 L385.6 911.3 L385.6 911.6 L385.7 911.9 L385.8 912.3 L385.9 912.5 L386 912.8 L386.1 913.1 L386.2 913.4 L386.3 913.6 L386.4 913.8 L386.5 914 L386.6 914.2 L386.7 914.4 L386.8 914.6 L386.9 914.7 L387 914.9 L387.1 915 L387.2 915.1 L387.3 915.1 L387.4 915.2 L387.5 915.3 L387.6 915.3 L387.7 915.3 L387.8 915.3 L387.9 915.3 L388 915.2 L388.1 915.2 L388.2 915.1 L388.3 915 L388.4 914.9 L388.5 914.7 L388.6 914.6 L388.7 914.4 L388.8 914.2 L388.9 914 L389 913.7 L389.1 913.5 L389.2 913.2 L389.3 912.9 L389.4 912.6 L389.5 912.3 L389.6 911.9 L389.7 911.6 L389.8 911.2 L389.9 910.8 L390 910.3 L390.1 909.9 L390.2 909.5 L390.3 909 L390.4 908.5 L390.5 908 L390.6 907.5 L390.6 907 L390.7 906.4 L390.8 905.9 L390.9 905.3 L391 904.7 L391.1 904.1 L391.2 903.5 L391.3 902.9 L391.4 902.2 L391.5 901.6 L391.6 901 L391.7 900.3 L391.8 899.6 L391.9 899 L392 898.3 L392.1 897.6 L392.2 896.9 L392.3 896.2 L392.4 895.5 L392.5 894.8 L392.6 894.2 L392.7 893.5 L392.8 892.8 L392.9 892.1 L393 891.4 L393.1 890.7 L393.2 890 L393.3 889.3 L393.4 888.7 L393.5 888 L393.6 887.4 L393.7 886.7 L393.8 886.1 L393.9 885.5 L394 884.9 L394.1 884.3 L394.2 883.7 L394.3 883.1 L394.4 882.6 L394.5 882 L394.6 881.5 L394.7 881 L394.8 880.5 L394.9 880.1 L395 879.6 L395.1 879.2 L395.2 878.8 L395.3 878.5 L395.4 878.1 L395.4 877.8 L395.5 877.5 L395.6 877.2 L395.7 877 L395.8 876.8 L395.9 876.6 L396 876.4 L396.1 876.3 L396.2 876.2 L396.3 876.1 L396.4 876.1 L396.5 876.1 L396.6 876.1 L396.7 876.2 L396.8 876.3 L396.9 876.4 L397 876.5 L397.1 876.7 L397.2 876.9 L397.3 877.1 L397.4 877.4 L397.5 877.7 L397.6 878 L397.7 878.4 L397.8 878.8 L397.9 879.2 L398 879.7 L398.1 880.1 L398.2 880.6 L398.3 881.2 L398.4 881.7 L398.5 882.3 L398.6 882.9 L398.7 883.5 L398.8 884.2 L398.9 884.8 L399 885.5 L399.1 886.3 L399.2 887 L399.3 887.7 L399.4 888.5 L399.5 889.3 L399.6 890.1 L399.7 890.9 L399.8 891.7 L399.9 892.5 L400 893.3 L400.1 894.2 L400.2 895 L400.3 895.9 L400.3 896.7 L400.4 897.6 L400.5 898.4 L400.6 899.3 L400.7 900.1 L400.8 900.9 L400.9 901.8 L401 902.6 L401.1 903.4 L401.2 904.2 L401.3 904.9 L401.4 905.7 L401.5 906.4 L401.6 907.2 L401.7 907.9 L401.8 908.5 L401.9 909.2 L402 909.8 L402.1 910.4 L402.2 911 L402.3 911.5 L402.4 912 L402.5 912.5 L402.6 912.9 L402.7 913.4 L402.8 913.7 L402.9 914.1 L403 914.4 L403.1 914.6 L403.2 914.8 L403.3 915 L403.4 915.1 L403.5 915.2 L403.6 915.3 L403.7 915.3 L403.8 915.3 L403.9 915.2 L404 915.1 L404.1 914.9 L404.2 914.7 L404.3 914.5 L404.4 914.2 L404.5 913.8 L404.6 913.5 L404.7 913 L404.8 912.6 L404.9 912.1 L405 911.6 L405.1 911 L405.2 910.4 L405.2 909.7 L405.3 909.1 L405.4 908.4 L405.5 907.6 L405.6 906.8 L405.7 906 L405.8 905.2 L405.9 904.4 L406 903.5 L406.1 902.6 L406.2 901.7 L406.3 900.8 L406.4 899.8 L406.5 898.9 L406.6 897.9 L406.7 896.9 L406.8 896 L406.9 895 L407 894 L407.1 893 L407.2 892.1 L407.3 891.1 L407.4 890.1 L407.5 889.2 L407.6 888.3 L407.7 887.4 L407.8 886.5 L407.9 885.6 L408 884.8 L408.1 883.9 L408.2 883.1 L408.3 882.4 L408.4 881.7 L408.5 881 L408.6 880.3 L408.7 879.7 L408.8 879.2 L408.9 878.6 L409 878.2 L409.1 877.7 L409.2 877.3 L409.3 877 L409.4 876.7 L409.5 876.5 L409.6 876.3 L409.7 876.2 L409.8 876.1 L409.9 876.1 L410 876.1 L410.1 876.2 L410.1 876.4 L410.2 876.6 L410.3 876.8 L410.4 877.2 L410.5 877.5 L410.6 877.9 L410.7 878.4 L410.8 878.9 L410.9 879.5 L411 880.1 L411.1 880.8 L411.2 881.5 L411.3 882.3 L411.4 883.1 L411.5 883.9 L411.6 884.8 L411.7 885.7 L411.8 886.6 L411.9 887.6 L412 888.6 L412.1 889.6 L412.2 890.6 L412.3 891.7 L412.4 892.8 L412.5 893.8 L412.6 894.9 L412.7 896 L412.8 897.1 L412.9 898.2 L413 899.3 L413.1 900.4 L413.2 901.4 L413.3 902.5 L413.4 903.5 L413.5 904.5 L413.6 905.5 L413.7 906.4 L413.8 907.3 L413.9 908.2 L414 909.1 L414.1 909.9 L414.2 910.6 L414.3 911.3 L414.4 912 L414.5 912.6 L414.6 913.1 L414.7 913.6 L414.8 914 L414.9 914.4 L415 914.7 L415.1 915 L415.1 915.1 L415.2 915.3 L415.3 915.3 L415.4 915.3 L415.5 915.2 L415.6 915 L415.7 914.8 L415.8 914.5 L415.9 914.2 L416 913.7 L416.1 913.3 L416.2 912.7 L416.3 912.1 L416.4 911.4 L416.5 910.7 L416.6 909.9 L416.7 909.1 L416.8 908.2 L416.9 907.3 L417 906.3 L417.1 905.3 L417.2 904.3 L417.3 903.2 L417.4 902.1 L417.5 901 L417.6 899.8 L417.7 898.6 L417.8 897.4 L417.9 896.2 L418 895.1 L418.1 893.9 L418.2 892.7 L418.3 891.5 L418.4 890.3 L418.5 889.2 L418.6 888 L418.7 886.9 L418.8 885.9 L418.9 884.8 L419 883.8 L419.1 882.9 L419.2 882 L419.3 881.1 L419.4 880.4 L419.5 879.6 L419.6 879 L419.7 878.3 L419.8 877.8 L419.9 877.3 L419.9 876.9 L420 876.6 L420.1 876.4 L420.2 876.2 L420.3 876.1 L420.4 876.1 L420.5 876.2 L420.6 876.3 L420.7 876.5 L420.8 876.9 L420.9 877.2 L421 877.7 L421.1 878.2 L421.2 878.8 L421.3 879.5 L421.4 880.3 L421.5 881.1 L421.6 882 L421.7 882.9 L421.8 883.9 L421.9 884.9 L422 886 L422.1 887.1 L422.2 888.3 L422.3 889.5 L422.4 890.7 L422.5 892 L422.6 893.3 L422.7 894.6 L422.8 895.8 L422.9 897.1 L423 898.4 L423.1 899.7 L423.2 901 L423.3 902.2 L423.4 903.4 L423.5 904.6 L423.6 905.8 L423.7 906.9 L423.8 907.9 L423.9 908.9 L424 909.9 L424.1 910.7 L424.2 911.5 L424.3 912.3 L424.4 913 L424.5 913.5 L424.6 914.1 L424.7 914.5 L424.8 914.8 L424.9 915.1 L424.9 915.2 L425 915.3 L425.1 915.3 L425.2 915.2 L425.3 915 L425.4 914.7 L425.5 914.3 L425.6 913.8 L425.7 913.2 L425.8 912.6 L425.9 911.9 L426 911.1 L426.1 910.2 L426.2 909.2 L426.3 908.2 L426.4 907.1 L426.5 906 L426.6 904.8 L426.7 903.6 L426.8 902.3 L426.9 901 L427 899.7 L427.1 898.3 L427.2 896.9 L427.3 895.6 L427.4 894.2 L427.5 892.8 L427.6 891.4 L427.7 890.1 L427.8 888.8 L427.9 887.5 L428 886.2 L428.1 885 L428.2 883.9 L428.3 882.8 L428.4 881.8 L428.5 880.8 L428.6 879.9 L428.7 879.2 L428.8 878.4 L428.9 877.8 L429 877.3 L429.1 876.8 L429.2 876.5 L429.3 876.3 L429.4 876.1 L429.5 876.1 L429.6 876.2 L429.7 876.3 L429.8 876.6 L429.8 877 L429.9 877.5 L430 878.1 L430.1 878.7 L430.2 879.5 L430.3 880.4 L430.4 881.3 L430.5 882.3 L430.6 883.4 L430.7 884.6 L430.8 885.8 L430.9 887.1 L431 888.4 L431.1 889.8 L431.2 891.2 L431.3 892.6 L431.4 894.1 L431.5 895.5 L431.6 897 L431.7 898.5 L431.8 899.9 L431.9 901.3 L432 902.7 L432.1 904.1 L432.2 905.4 L432.3 906.7 L432.4 907.9 L432.5 909 L432.6 910 L432.7 911 L432.8 911.9 L432.9 912.7 L433 913.4 L433.1 914 L433.2 914.5 L433.3 914.8 L433.4 915.1 L433.5 915.3 L433.6 915.3 L433.7 915.2 L433.8 915 L433.9 914.7 L434 914.3 L434.1 913.7 L434.2 913.1 L434.3 912.4 L434.4 911.5 L434.5 910.6 L434.6 909.5 L434.6 908.4 L434.7 907.2 L434.8 905.9 L434.9 904.6 L435 903.2 L435.1 901.7 L435.2 900.3 L435.3 898.7 L435.4 897.2 L435.5 895.7 L435.6 894.1 L435.7 892.6 L435.8 891.1 L435.9 889.6 L436 888.1 L436.1 886.7 L436.2 885.3 L436.3 884.1 L436.4 882.8 L436.5 881.7 L436.6 880.6 L436.7 879.7 L436.8 878.8 L436.9 878.1 L437 877.5 L437.1 876.9 L437.2 876.5 L437.3 876.3 L437.4 876.1 L437.5 876.1 L437.6 876.2 L437.7 876.5 L437.8 876.8 L437.9 877.3 L438 877.9 L438.1 878.6 L438.2 879.5 L438.3 880.4 L438.4 881.5 L438.5 882.7 L438.6 883.9 L438.7 885.2 L438.8 886.6 L438.9 888.1 L439 889.6 L439.1 891.1 L439.2 892.7 L439.3 894.3 L439.4 895.9 L439.5 897.6 L439.6 899.2 L439.6 900.8 L439.7 902.3 L439.8 903.8 L439.9 905.3 L440 906.7 L440.1 908 L440.2 909.2 L440.3 910.4 L440.4 911.4 L440.5 912.3 L440.6 913.1 L440.7 913.8 L440.8 914.4 L440.9 914.8 L441 915.1 L441.1 915.3 L441.2 915.3 L441.3 915.2 L441.4 914.9 L441.5 914.5 L441.6 914 L441.7 913.3 L441.8 912.5 L441.9 911.6 L442 910.5 L442.1 909.4 L442.2 908.1 L442.3 906.8 L442.4 905.4 L442.5 903.9 L442.6 902.3 L442.7 900.7 L442.8 899.1 L442.9 897.4 L443 895.7 L443.1 894 L443.2 892.3 L443.3 890.7 L443.4 889 L443.5 887.5 L443.6 886 L443.7 884.5 L443.8 883.2 L443.9 881.9 L444 880.7 L444.1 879.7 L444.2 878.8 L444.3 878 L444.4 877.3 L444.4 876.8 L444.5 876.4 L444.6 876.2 L444.7 876.1 L444.8 876.2 L444.9 876.4 L445 876.8 L445.1 877.3 L445.2 878 L445.3 878.8 L445.4 879.8 L445.5 880.8 L445.6 882 L445.7 883.3 L445.8 884.7 L445.9 886.2 L446 887.8 L446.1 889.4 L446.2 891.1 L446.3 892.9 L446.4 894.6 L446.5 896.4 L446.6 898.1 L446.7 899.9 L446.8 901.6 L446.9 903.2 L447 904.8 L447.1 906.4 L447.2 907.8 L447.3 909.2 L447.4 910.4 L447.5 911.5 L447.6 912.5 L447.7 913.3 L447.8 914.1 L447.9 914.6 L448 915 L448.1 915.2 L448.2 915.3 L448.3 915.2 L448.4 914.9 L448.5 914.5 L448.6 913.9 L448.7 913.2 L448.8 912.3 L448.9 911.3 L449 910.1 L449.1 908.8 L449.2 907.4 L449.3 905.9 L449.4 904.3 L449.4 902.7 L449.5 900.9 L449.6 899.2 L449.7 897.4 L449.8 895.5 L449.9 893.7 L450 891.9 L450.1 890.1 L450.2 888.4 L450.3 886.7 L450.4 885.1 L450.5 883.6 L450.6 882.2 L450.7 880.9 L450.8 879.8 L450.9 878.8 L451 877.9 L451.1 877.2 L451.2 876.7 L451.3 876.3 L451.4 876.1 L451.5 876.1 L451.6 876.3 L451.7 876.6 L451.8 877.1 L451.9 877.8 L452 878.6 L452.1 879.6 L452.2 880.8 L452.3 882.1 L452.4 883.5 L452.5 885 L452.6 886.6 L452.7 888.4 L452.8 890.1 L452.9 892 L453 893.8 L453.1 895.7 L453.2 897.6 L453.3 899.5 L453.4 901.3 L453.5 903.1 L453.6 904.9 L453.7 906.5 L453.8 908 L453.9 909.5 L454 910.7 L454.1 911.9 L454.2 912.9 L454.2 913.7 L454.3 914.4 L454.4 914.9 L454.5 915.2 L454.6 915.3 L454.7 915.2 L454.8 915 L454.9 914.5 L455 913.9 L455.1 913.1 L455.2 912.1 L455.3 910.9 L455.4 909.7 L455.5 908.2 L455.6 906.7 L455.7 905 L455.8 903.3 L455.9 901.4 L456 899.5 L456.1 897.6 L456.2 895.7 L456.3 893.7 L456.4 891.8 L456.5 889.9 L456.6 888 L456.7 886.3 L456.8 884.6 L456.9 883 L457 881.6 L457.1 880.3 L457.2 879.2 L457.3 878.2 L457.4 877.4 L457.5 876.8 L457.6 876.4 L457.7 876.1 L457.8 876.1 L457.9 876.3 L458 876.7 L458.1 877.3 L458.2 878 L458.3 879 L458.4 880.1 L458.5 881.4 L458.6 882.8 L458.7 884.4 L458.8 886.1 L458.9 887.9 L459 889.8 L459.1 891.7 L459.1 893.7 L459.2 895.7 L459.3 897.7 L459.4 899.7 L459.5 901.7 L459.6 903.6 L459.7 905.4 L459.8 907.1 L459.9 908.7 L460 910.1 L460.1 911.4 L460.2 912.6 L460.3 913.5 L460.4 914.3 L460.5 914.8 L460.6 915.2 L460.7 915.3 L460.8 915.2 L460.9 914.9 L461 914.4 L461.1 913.7 L461.2 912.8 L461.3 911.7 L461.4 910.5 L461.5 909 L461.6 907.4 L461.7 905.7 L461.8 903.9 L461.9 902 L462 900 L462.1 898 L462.2 895.9 L462.3 893.8 L462.4 891.8 L462.5 889.8 L462.6 887.8 L462.7 885.9 L462.8 884.2 L462.9 882.6 L463 881.1 L463.1 879.8 L463.2 878.7 L463.3 877.7 L463.4 877 L463.5 876.5 L463.6 876.2 L463.7 876.1 L463.8 876.3 L463.9 876.6 L464 877.2 L464 878 L464.1 879.1 L464.2 880.3 L464.3 881.7 L464.4 883.2 L464.5 884.9 L464.6 886.7 L464.7 888.7 L464.8 890.7 L464.9 892.8 L465 894.9 L465.1 897 L465.2 899.2 L465.3 901.2 L465.4 903.2 L465.5 905.2 L465.6 907 L465.7 908.7 L465.8 910.2 L465.9 911.5 L466 912.7 L466.1 913.7 L466.2 914.4 L466.3 914.9 L466.4 915.2 L466.5 915.3 L466.6 915.1 L466.7 914.7 L466.8 914 L466.9 913.2 L467 912.1 L467.1 910.8 L467.2 909.3 L467.3 907.7 L467.4 905.9 L467.5 903.9 L467.6 901.9 L467.7 899.8 L467.8 897.7 L467.9 895.5 L468 893.3 L468.1 891.1 L468.2 889 L468.3 887 L468.4 885.1 L468.5 883.3 L468.6 881.7 L468.7 880.3 L468.8 879 L468.9 878 L468.9 877.1 L469 876.5 L469.1 876.2 L469.2 876.1 L469.3 876.3 L469.4 876.7 L469.5 877.3 L469.6 878.2 L469.7 879.3 L469.8 880.6 L469.9 882.1 L470 883.8 L470.1 885.7 L470.2 887.6 L470.3 889.7 L470.4 891.9 L470.5 894.1 L470.6 896.3 L470.7 898.6 L470.8 900.8 L470.9 902.9 L471 904.9 L471.1 906.9 L471.2 908.6 L471.3 910.2 L471.4 911.7 L471.5 912.9 L471.6 913.8 L471.7 914.6 L471.8 915.1 L471.9 915.3 L472 915.2 L472.1 915 L472.2 914.4 L472.3 913.6 L472.4 912.5 L472.5 911.3 L472.6 909.8 L472.7 908.1 L472.8 906.3 L472.9 904.3 L473 902.2 L473.1 900 L473.2 897.7 L473.3 895.4 L473.4 893.1 L473.5 890.9 L473.6 888.7 L473.7 886.6 L473.8 884.6 L473.9 882.8 L473.9 881.2 L474 879.7 L474.1 878.5 L474.2 877.5 L474.3 876.8 L474.4 876.3 L474.5 876.1 L474.6 876.2 L474.7 876.5 L474.8 877.1 L474.9 878 L475 879.2 L475.1 880.5 L475.2 882.1 L475.3 883.9 L475.4 885.8 L475.5 887.9 L475.6 890.1 L475.7 892.4 L475.8 894.7 L475.9 897 L476 899.4 L476.1 901.6 L476.2 903.8 L476.3 905.9 L476.4 907.8 L476.5 909.6 L476.6 911.2 L476.7 912.5 L476.8 913.6 L476.9 914.4 L477 915 L477.1 915.3 L477.2 915.3 L477.3 915 L477.4 914.4 L477.5 913.6 L477.6 912.4 L477.7 911.1 L477.8 909.5 L477.9 907.7 L478 905.7 L478.1 903.6 L478.2 901.4 L478.3 899.1 L478.4 896.7 L478.5 894.3 L478.6 891.9 L478.7 889.6 L478.8 887.4 L478.8 885.3 L478.9 883.3 L479 881.5 L479.1 880 L479.2 878.7 L479.3 877.6 L479.4 876.8 L479.5 876.3 L479.6 876.1 L479.7 876.2 L479.8 876.6 L479.9 877.3 L480 878.2 L480.1 879.5 L480.2 880.9 L480.3 882.6 L480.4 884.6 L480.5 886.6 L480.6 888.9 L480.7 891.2 L480.8 893.6 L480.9 896.1 L481 898.5 L481.1 900.9 L481.2 903.2 L481.3 905.4 L481.4 907.5 L481.5 909.3 L481.6 911 L481.7 912.4 L481.8 913.5 L481.9 914.4 L482 915 L482.1 915.3 L482.2 915.2 L482.3 914.9 L482.4 914.2 L482.5 913.3 L482.6 912.1 L482.7 910.6 L482.8 908.9 L482.9 906.9 L483 904.8 L483.1 902.5 L483.2 900.1 L483.3 897.7 L483.4 895.2 L483.5 892.7 L483.6 890.3 L483.6 887.9 L483.7 885.7 L483.8 883.6 L483.9 881.8 L484 880.1 L484.1 878.7 L484.2 877.6 L484.3 876.8 L484.4 876.3 L484.5 876.1 L484.6 876.2 L484.7 876.7 L484.8 877.5 L484.9 878.5 L485 879.9 L485.1 881.5 L485.2 883.4 L485.3 885.4 L485.4 887.7 L485.5 890 L485.6 892.5 L485.7 895 L485.8 897.6 L485.9 900.1 L486 902.5 L486.1 904.8 L486.2 907 L486.3 909 L486.4 910.7 L486.5 912.3 L486.6 913.5 L486.7 914.4 L486.8 915 L486.9 915.3 L487 915.2 L487.1 914.8 L487.2 914.1 L487.3 913.1 L487.4 911.7 L487.5 910.1 L487.6 908.3 L487.7 906.2 L487.8 903.9 L487.9 901.5 L488 899 L488.1 896.4 L488.2 893.8 L488.3 891.3 L488.4 888.8 L488.5 886.4 L488.5 884.2 L488.6 882.2 L488.7 880.5 L488.8 879 L488.9 877.8 L489 876.9 L489.1 876.3 L489.2 876.1 L489.3 876.2 L489.4 876.7 L489.5 877.5 L489.6 878.7 L489.7 880.1 L489.8 881.8 L489.9 883.8 L490 886 L490.1 888.3 L490.2 890.8 L490.3 893.4 L490.4 896 L490.5 898.7 L490.6 901.2 L490.7 903.7 L490.8 906 L490.9 908.2 L491 910.1 L491.1 911.8 L491.2 913.1 L491.3 914.2 L491.4 914.9 L491.5 915.3 L491.6 915.3 L491.7 914.9 L491.8 914.2 L491.9 913.2 L492 911.8 L492.1 910.1 L492.2 908.2 L492.3 906 L492.4 903.7 L492.5 901.1 L492.6 898.5 L492.7 895.9 L492.8 893.2 L492.9 890.6 L493 888 L493.1 885.6 L493.2 883.4 L493.3 881.5 L493.4 879.8 L493.4 878.3 L493.5 877.3 L493.6 876.5 L493.7 876.1 L493.8 876.1 L493.9 876.5 L494 877.2 L494.1 878.3 L494.2 879.7 L494.3 881.5 L494.4 883.5 L494.5 885.7 L494.6 888.1 L494.7 890.7 L494.8 893.3 L494.9 896.1 L495 898.8 L495.1 901.4 L495.2 904 L495.3 906.4 L495.4 908.5 L495.5 910.5 L495.6 912.1 L495.7 913.5 L495.8 914.4 L495.9 915.1 L496 915.3 L496.1 915.2 L496.2 914.6 L496.3 913.7 L496.4 912.5 L496.5 910.9 L496.6 909 L496.7 906.9 L496.8 904.5 L496.9 902 L497 899.3 L497.1 896.5 L497.2 893.8 L497.3 891.1 L497.4 888.4 L497.5 885.9 L497.6 883.6 L497.7 881.6 L497.8 879.8 L497.9 878.3 L498 877.2 L498.1 876.5 L498.2 876.1 L498.3 876.2 L498.4 876.6 L498.4 877.4 L498.5 878.6 L498.6 880.2 L498.7 882 L498.8 884.2 L498.9 886.5 L499 889.1 L499.1 891.8 L499.2 894.6 L499.3 897.4 L499.4 900.2 L499.5 902.8 L499.6 905.4 L499.7 907.7 L499.8 909.8 L499.9 911.6 L500 913.1 L500.1 914.2 L500.2 914.9 L500.3 915.3 L500.4 915.2 L500.5 914.7 L500.6 913.8 L500.7 912.6 L500.8 911 L500.9 909 L501 906.8 L501.1 904.4 L501.2 901.8 L501.3 899 L501.4 896.2 L501.5 893.3 L501.6 890.5 L501.7 887.8 L501.8 885.3 L501.9 883 L502 881 L502.1 879.2 L502.2 877.9 L502.3 876.9 L502.4 876.3 L502.5 876.1 L502.6 876.3 L502.7 877 L502.8 878.1 L502.9 879.5 L503 881.3 L503.1 883.4 L503.2 885.8 L503.2 888.4 L503.3 891.1 L503.4 894 L503.5 896.8 L503.6 899.7 L503.7 902.5 L503.8 905.1 L503.9 907.6 L504 909.7 L504.1 911.6 L504.2 913.1 L504.3 914.3 L504.4 915 L504.5 915.3 L504.6 915.2 L504.7 914.6 L504.8 913.6 L504.9 912.3 L505 910.5 L505.1 908.5 L505.2 906.1 L505.3 903.5 L505.4 900.7 L505.5 897.9 L505.6 894.9 L505.7 892 L505.8 889.2 L505.9 886.5 L506 884 L506.1 881.8 L506.2 879.9 L506.3 878.3 L506.4 877.2 L506.5 876.4 L506.6 876.1 L506.7 876.2 L506.8 876.8 L506.9 877.8 L507 879.2 L507.1 881 L507.2 883.1 L507.3 885.6 L507.4 888.2 L507.5 891 L507.6 894 L507.7 896.9 L507.8 899.9 L507.9 902.7 L508 905.4 L508.1 907.9 L508.1 910.1 L508.2 911.9 L508.3 913.4 L508.4 914.5 L508.5 915.1 L508.6 915.3 L508.7 915 L508.8 914.3 L508.9 913.1 L509 911.6 L509.1 909.6 L509.2 907.4 L509.3 904.8 L509.4 902.1 L509.5 899.2 L509.6 896.2 L509.7 893.2 L509.8 890.2 L509.9 887.4 L510 884.8 L510.1 882.4 L510.2 880.3 L510.3 878.7 L510.4 877.4 L510.5 876.5 L510.6 876.1 L510.7 876.2 L510.8 876.7 L510.9 877.7 L511 879.2 L511.1 881 L511.2 883.2 L511.3 885.7 L511.4 888.4 L511.5 891.3 L511.6 894.3 L511.7 897.4 L511.8 900.4 L511.9 903.3 L512 906 L512.1 908.5 L512.2 910.6 L512.3 912.4 L512.4 913.8 L512.5 914.8 L512.6 915.2 L512.7 915.2 L512.8 914.8 L512.9 913.8 L513 912.4 L513 910.6 L513.1 908.4 L513.2 906 L513.3 903.2 L513.4 900.3 L513.5 897.2 L513.6 894.1 L513.7 891.1 L513.8 888.1 L513.9 885.4 L514 882.9 L514.1 880.7 L514.2 878.9 L514.3 877.5 L514.4 876.6 L514.5 876.1 L514.6 876.2 L514.7 876.7 L514.8 877.7 L514.9 879.2 L515 881.1 L515.1 883.3 L515.2 885.9 L515.3 888.7 L515.4 891.7 L515.5 894.8 L515.6 897.9 L515.7 901 L515.8 903.9 L515.9 906.7 L516 909.1 L516.1 911.2 L516.2 912.9 L516.3 914.2 L516.4 915 L516.5 915.3 L516.6 915.1 L516.7 914.4 L516.8 913.2 L516.9 911.5 L517 909.5 L517.1 907.1 L517.2 904.4 L517.3 901.4 L517.4 898.3 L517.5 895.2 L517.6 892 L517.7 889 L517.8 886.1 L517.9 883.5 L518 881.2 L518 879.2 L518.1 877.7 L518.2 876.7 L518.3 876.2 L518.4 876.2 L518.5 876.7 L518.6 877.7 L518.7 879.2 L518.8 881.1 L518.9 883.4 L519 886 L519.1 888.9 L519.2 892 L519.3 895.2 L519.4 898.4 L519.5 901.5 L519.6 904.5 L519.7 907.2 L519.8 909.7 L519.9 911.7 L520 913.4 L520.1 914.5 L520.2 915.2 L520.3 915.3 L520.4 914.9 L520.5 913.9 L520.6 912.5 L520.7 910.6 L520.8 908.4 L520.9 905.7 L521 902.8 L521.1 899.7 L521.2 896.5 L521.3 893.3 L521.4 890.1 L521.5 887.1 L521.6 884.3 L521.7 881.8 L521.8 879.7 L521.9 878.1 L522 876.9 L522.1 876.2 L522.2 876.1 L522.3 876.5 L522.4 877.5 L522.5 879 L522.6 880.9 L522.7 883.2 L522.8 885.9 L522.9 888.9 L522.9 892 L523 895.3 L523.1 898.5 L523.2 901.7 L523.3 904.8 L523.4 907.5 L523.5 910 L523.6 912 L523.7 913.6 L523.8 914.7 L523.9 915.2 L524 915.2 L524.1 914.7 L524.2 913.6 L524.3 912 L524.4 909.9 L524.5 907.4 L524.6 904.6 L524.7 901.6 L524.8 898.3 L524.9 895 L525 891.8 L525.1 888.6 L525.2 885.6 L525.3 882.9 L525.4 880.6 L525.5 878.7 L525.6 877.3 L525.7 876.4 L525.8 876.1 L525.9 876.3 L526 877.2 L526.1 878.5 L526.2 880.3 L526.3 882.6 L526.4 885.3 L526.5 888.3 L526.6 891.5 L526.7 894.8 L526.8 898.1 L526.9 901.4 L527 904.5 L527.1 907.4 L527.2 909.9 L527.3 912 L527.4 913.6 L527.5 914.7 L527.6 915.2 L527.7 915.2 L527.8 914.6 L527.8 913.4 L527.9 911.7 L528 909.5 L528.1 907 L528.2 904 L528.3 900.9 L528.4 897.5 L528.5 894.2 L528.6 890.8 L528.7 887.6 L528.8 884.7 L528.9 882 L529 879.8 L529.1 878.1 L529.2 876.9 L529.3 876.2 L529.4 876.1 L529.5 876.7 L529.6 877.8 L529.7 879.4 L529.8 881.5 L529.9 884.1 L530 887 L530.1 890.2 L530.2 893.5 L530.3 897 L530.4 900.3 L530.5 903.6 L530.6 906.6 L530.7 909.3 L530.8 911.5 L530.9 913.3 L531 914.5 L531.1 915.2 L531.2 915.3 L531.3 914.7 L531.4 913.6 L531.5 911.9 L531.6 909.7 L531.7 907.1 L531.8 904.2 L531.9 900.9 L532 897.5 L532.1 894.1 L532.2 890.7 L532.3 887.4 L532.4 884.4 L532.5 881.8 L532.6 879.6 L532.6 877.9 L532.7 876.7 L532.8 876.2 L532.9 876.2 L533 876.9 L533.1 878.1 L533.2 879.9 L533.3 882.2 L533.4 885 L533.5 888 L533.6 891.4 L533.7 894.8 L533.8 898.3 L533.9 901.7 L534 904.9 L534.1 907.8 L534.2 910.4 L534.3 912.5 L534.4 914 L534.5 915 L534.6 915.3 L534.7 915 L534.8 914.1 L534.9 912.6 L535 910.6 L535.1 908.1 L535.2 905.2 L535.3 901.9 L535.4 898.5 L535.5 895 L535.6 891.5 L535.7 888.2 L535.8 885 L535.9 882.3 L536 879.9 L536.1 878.1 L536.2 876.8 L536.3 876.2 L536.4 876.2 L536.5 876.8 L536.6 878 L536.7 879.9 L536.8 882.2 L536.9 885 L537 888.1 L537.1 891.5 L537.2 895 L537.3 898.6 L537.4 902 L537.5 905.3 L537.5 908.2 L537.6 910.7 L537.7 912.8 L537.8 914.2 L537.9 915.1 L538 915.3 L538.1 914.8 L538.2 913.8 L538.3 912.1 L538.4 909.9 L538.5 907.1 L538.6 904.1 L538.7 900.7 L538.8 897.2 L538.9 893.6 L539 890.1 L539.1 886.7 L539.2 883.7 L539.3 881.1 L539.4 878.9 L539.5 877.4 L539.6 876.4 L539.7 876.1 L539.8 876.5 L539.9 877.5 L540 879.1 L540.1 881.3 L540.2 884 L540.3 887.1 L540.4 890.5 L540.5 894 L540.6 897.6 L540.7 901.2 L540.8 904.6 L540.9 907.6 L541 910.3 L541.1 912.5 L541.2 914 L541.3 915 L541.4 915.3 L541.5 914.9 L541.6 913.9 L541.7 912.2 L541.8 910 L541.9 907.2 L542 904.1 L542.1 900.7 L542.2 897.1 L542.3 893.4 L542.4 889.8 L542.5 886.5 L542.5 883.4 L542.6 880.8 L542.7 878.7 L542.8 877.2 L542.9 876.3 L543 876.1 L543.1 876.6 L543.2 877.8 L543.3 879.6 L543.4 882 L543.5 884.8 L543.6 888.1 L543.7 891.6 L543.8 895.2 L543.9 898.9 L544 902.5 L544.1 905.8 L544.2 908.8 L544.3 911.3 L544.4 913.2 L544.5 914.6 L544.6 915.2 L544.7 915.2 L544.8 914.5 L544.9 913.1 L545 911 L545.1 908.5 L545.2 905.4 L545.3 902 L545.4 898.4 L545.5 894.7 L545.6 891 L545.7 887.5 L545.8 884.3 L545.9 881.5 L546 879.2 L546.1 877.5 L546.2 876.4 L546.3 876.1 L546.4 876.5 L546.5 877.5 L546.6 879.3 L546.7 881.6 L546.8 884.4 L546.9 887.7 L547 891.2 L547.1 894.9 L547.2 898.7 L547.3 902.3 L547.4 905.7 L547.4 908.7 L547.5 911.3 L547.6 913.3 L547.7 914.6 L547.8 915.2 L547.9 915.2 L548 914.4 L548.1 912.9 L548.2 910.7 L548.3 908.1 L548.4 904.9 L548.5 901.4 L548.6 897.7 L548.7 893.9 L548.8 890.2 L548.9 886.7 L549 883.5 L549.1 880.8 L549.2 878.6 L549.3 877.1 L549.4 876.3 L549.5 876.1 L549.6 876.8 L549.7 878.1 L549.8 880.1 L549.9 882.7 L550 885.8 L550.1 889.2 L550.2 892.9 L550.3 896.8 L550.4 900.5 L550.5 904.1 L550.6 907.4 L550.7 910.2 L550.8 912.5 L550.9 914.1 L551 915.1 L551.1 915.3 L551.2 914.7 L551.3 913.5 L551.4 911.5 L551.5 909 L551.6 905.9 L551.7 902.4 L551.8 898.7 L551.9 894.9 L552 891.1 L552.1 887.4 L552.2 884.1 L552.2 881.3 L552.3 878.9 L552.4 877.3 L552.5 876.3 L552.6 876.1 L552.7 876.7 L552.8 878 L552.9 880 L553 882.6 L553.1 885.7 L553.2 889.2 L553.3 892.9 L553.4 896.8 L553.5 900.6 L553.6 904.3 L553.7 907.6 L553.8 910.4 L553.9 912.7 L554 914.3 L554.1 915.1 L554.2 915.2 L554.3 914.6 L554.4 913.2 L554.5 911.1 L554.6 908.4 L554.7 905.1 L554.7 895.7 L605.4 895.7 L605.4 895.7 L605.6 895.6 L605.9 895.5 L606.1 895.4 L606.4 895.3 L606.6 895.2 L606.9 895.1 L607.1 895 L607.4 895 L607.6 894.9 L607.9 894.9 L608.1 894.8 L608.3 894.8 L608.6 894.8 L608.8 894.8 L609.1 894.9 L609.3 894.9 L609.6 894.9 L609.8 895 L610.1 895.1 L610.3 895.2 L610.5 895.3 L610.8 895.3 L611 895.5 L611.3 895.6 L611.5 895.7 L611.8 895.8 L612 895.9 L612.3 896 L612.5 896.1 L612.8 896.2 L613 896.3 L613.2 896.4 L613.5 896.4 L613.7 896.5 L614 896.5 L614.2 896.6 L614.5 896.6 L614.7 896.6 L615 896.6 L615.2 896.6 L615.4 896.5 L615.7 896.5 L615.9 896.4 L616.2 896.3 L616.4 896.3 L616.7 896.2 L616.9 896.1 L617.2 896 L617.4 895.9 L617.6 895.8 L617.9 895.7 L618.1 895.5 L618.4 895.4 L618.6 895.3 L618.9 895.2 L619.1 895.1 L619.4 895.1 L619.6 895 L619.9 894.9 L620.1 894.9 L620.3 894.9 L620.6 894.8 L620.8 894.8 L621.1 894.8 L621.3 894.8 L621.6 894.9 L621.8 894.9 L622.1 895 L622.3 895 L622.5 895.1 L622.8 895.2 L623 895.3 L623.3 895.4 L623.5 895.5 L623.8 895.6 L624 895.7 L624.3 895.8 L624.5 895.9 L624.8 896 L625 896.1 L625.2 896.2 L625.5 896.3 L625.7 896.4 L626 896.4 L626.2 896.5 L626.5 896.5 L626.7 896.6 L627 896.6 L627.2 896.6 L627.4 896.6 L627.7 896.5 L627.9 896.5 L628.2 896.4 L628.4 896.4 L628.7 896.3 L628.9 896.2 L629.2 896.1 L629.4 896 L629.7 895.9 L629.9 895.8 L630.1 895.7 L630.4 895.6 L630.6 895.5 L630.9 895.4 L631.1 895.3 L631.4 895.2 L631.6 895.1 L631.9 895 L632.1 895 L632.4 894.9 L632.6 894.8 L632.8 894.8 L633.1 894.7 L633.3 894.7 L633.6 894.7 L633.8 894.7 L634.1 894.7 L634.3 894.7 L634.6 894.8 L634.8 894.9 L635 894.9 L635.3 895.1 L635.5 895.2 L635.8 895.3 L636 895.5 L636.3 895.6 L636.5 895.8 L636.8 896 L637 896.1 L637.2 896.3 L637.5 896.5 L637.7 896.7 L638 896.8 L638.2 897 L638.5 897.1 L638.7 897.2 L639 897.3 L639.2 897.3 L639.5 897.4 L639.7 897.4 L639.9 897.4 L640.2 897.4 L640.4 897.3 L640.7 897.2 L640.9 897.1 L641.2 896.9 L641.4 896.8 L641.7 896.6 L641.9 896.3 L642.1 896.1 L642.4 895.9 L642.6 895.6 L642.9 895.4 L643.1 895.1 L643.4 894.9 L643.6 894.6 L643.9 894.4 L644.1 894.2 L644.4 894 L644.6 893.8 L644.8 893.6 L645.1 893.5 L645.3 893.4 L645.6 893.3 L645.8 893.3 L646.1 893.3 L646.3 893.4 L646.6 893.5 L646.8 893.6 L647 893.8 L647.3 894 L647.5 894.2 L647.8 894.5 L648 894.7 L648.3 895 L648.5 895.4 L648.8 895.7 L649 896 L649.3 896.4 L649.5 896.7 L649.7 897 L650 897.4 L650.2 897.6 L650.5 897.9 L650.7 898.1 L651 898.3 L651.2 898.5 L651.5 898.6 L651.7 898.7 L651.9 898.7 L652.2 898.7 L652.4 898.7 L652.7 898.6 L652.9 898.4 L653.2 898.2 L653.4 898 L653.7 897.7 L653.9 897.4 L654.2 897 L654.4 896.6 L654.6 896.2 L654.9 895.8 L655.1 895.4 L655.4 895 L655.6 894.6 L655.9 894.2 L656.1 893.8 L656.4 893.4 L656.6 893.1 L656.9 892.8 L657.1 892.5 L657.3 892.3 L657.6 892.1 L657.8 892 L658.1 892 L658.3 892 L658.6 892.1 L658.8 892.2 L659.1 892.4 L659.3 892.6 L659.5 892.9 L659.8 893.2 L660 893.6 L660.3 894 L660.5 894.4 L660.8 894.9 L661 895.4 L661.3 895.9 L661.5 896.4 L661.8 896.9 L662 897.4 L662.2 897.9 L662.5 898.3 L662.7 898.7 L663 899.1 L663.2 899.4 L663.5 899.7 L663.7 899.9 L664 900 L664.2 900.1 L664.4 900.1 L664.7 900 L664.9 899.9 L665.2 899.7 L665.4 899.4 L665.7 899.1 L665.9 898.7 L666.2 898.3 L666.4 897.8 L666.6 897.3 L666.9 896.8 L667.1 896.2 L667.4 895.6 L667.6 895 L667.9 894.4 L668.1 893.9 L668.4 893.3 L668.6 892.8 L668.9 892.3 L669.1 891.9 L669.3 891.5 L669.6 891.2 L669.8 890.9 L670.1 890.8 L670.3 890.7 L670.6 890.6 L670.8 890.7 L671.1 890.8 L671.3 891 L671.5 891.3 L671.8 891.7 L672 892.1 L672.3 892.6 L672.5 893.1 L672.8 893.7 L673 894.3 L673.3 894.9 L673.5 895.6 L673.8 896.3 L674 896.9 L674.2 897.6 L674.5 898.2 L674.7 898.8 L675 899.4 L675.2 899.9 L675.5 900.4 L675.7 900.7 L676 901 L676.2 901.3 L676.4 901.4 L676.7 901.4 L676.9 901.4 L677.2 901.3 L677.4 901.1 L677.7 900.8 L677.9 900.4 L678.2 899.9 L678.4 899.4 L678.7 898.8 L678.9 898.2 L679.1 897.5 L679.4 896.8 L679.6 896 L679.9 895.3 L680.1 894.5 L680.4 893.8 L680.6 893 L680.9 892.4 L681.1 891.7 L681.4 891.1 L681.6 890.6 L681.8 890.2 L682.1 889.8 L682.3 889.5 L682.6 889.4 L682.8 889.3 L683.1 889.3 L683.3 889.4 L683.6 889.6 L683.8 889.9 L684 890.3 L684.3 890.8 L684.5 891.4 L684.8 892 L685 892.7 L685.3 893.5 L685.5 894.3 L685.8 895.1 L686 895.9 L686.2 896.8 L686.5 897.6 L686.7 898.4 L687 899.2 L687.2 899.9 L687.5 900.6 L687.7 901.2 L688 901.7 L688.2 902.1 L688.5 902.4 L688.7 902.7 L688.9 902.8 L689.2 902.8 L689.4 902.7 L689.7 902.5 L689.9 902.2 L690.2 901.8 L690.4 901.2 L690.7 900.6 L690.9 899.9 L691.1 899.2 L691.4 898.4 L691.6 897.5 L691.9 896.6 L692.1 895.7 L692.4 894.8 L692.6 893.9 L692.9 893 L693.1 892.1 L693.4 891.3 L693.6 890.5 L693.8 889.9 L694.1 889.3 L694.3 888.8 L694.6 888.4 L694.8 888.1 L695.1 888 L695.3 887.9 L695.6 888 L695.8 888.2 L696 888.5 L696.3 888.9 L696.5 889.5 L696.8 890.1 L697 890.8 L697.3 891.6 L697.5 892.5 L697.8 893.4 L698 894.4 L698.3 895.4 L698.5 896.4 L698.7 897.4 L699 898.4 L699.2 899.4 L699.5 900.3 L699.7 901.1 L700 901.8 L700.2 902.5 L700.5 903.1 L700.7 903.5 L700.9 903.9 L701.2 904.1 L701.4 904.1 L701.7 904.1 L701.9 903.9 L702.2 903.6 L702.4 903.2 L702.7 902.6 L702.9 902 L703.2 901.2 L703.4 900.4 L703.6 899.4 L703.9 898.4 L704.1 897.4 L704.4 896.3 L704.6 895.2 L704.9 894.1 L705.1 893.1 L705.4 892 L705.6 891 L705.8 890.1 L706.1 889.3 L706.3 888.5 L706.6 887.9 L706.8 887.4 L707.1 887 L707.3 886.7 L707.6 886.6 L707.8 886.6 L708.1 886.8 L708.3 887 L708.5 887.5 L708.8 888 L709 888.7 L709.3 889.5 L709.5 890.4 L709.8 891.4 L710 892.4 L710.3 893.5 L710.5 894.7 L710.8 895.9 L711 897 L711.2 898.2 L711.5 899.3 L711.7 900.4 L712 901.4 L712.2 902.4 L712.5 903.2 L712.7 903.9 L713 904.5 L713.2 905 L713.4 905.3 L713.7 905.5 L713.9 905.5 L714.2 905.4 L714.4 905.1 L714.7 904.7 L714.9 904.1 L715.2 903.4 L715.4 902.6 L715.6 901.7 L715.9 900.6 L716.1 899.5 L716.4 898.4 L716.6 897.1 L716.9 895.9 L717.1 894.6 L717.4 893.4 L717.6 892.1 L717.9 891 L718.1 889.9 L718.3 888.9 L718.6 887.9 L718.8 887.1 L719.1 886.5 L719.3 885.9 L719.6 885.5 L719.8 885.3 L720.1 885.2 L720.3 885.3 L720.5 885.6 L720.8 886 L721 886.5 L721.3 887.2 L721.5 888.1 L721.8 889 L722 890.1 L722.3 891.3 L722.5 892.5 L722.8 893.8 L723 895.1 L723.2 896.5 L723.5 897.8 L723.7 899.1 L724 900.4 L724.2 901.6 L724.5 902.7 L724.7 903.7 L725 904.6 L725.2 905.4 L725.5 906 L725.7 906.4 L725.9 906.7 L726.2 906.8 L726.4 906.8 L726.7 906.6 L726.9 906.2 L727.2 905.6 L727.4 904.9 L727.7 904.1 L727.9 903.1 L728.1 902 L728.4 900.8 L728.6 899.5 L728.9 898.1 L729.1 896.7 L729.4 895.3 L729.6 893.9 L729.9 892.5 L730.1 891.1 L730.4 889.8 L730.6 888.6 L730.8 887.5 L731.1 886.5 L731.3 885.7 L731.6 885 L731.8 884.4 L732.1 884.1 L732.3 883.9 L732.6 883.9 L732.8 884.1 L733 884.4 L733.3 885 L733.5 885.7 L733.8 886.5 L734 887.6 L734.3 888.7 L734.5 890 L734.8 891.3 L735 892.7 L735.2 894.2 L735.5 895.7 L735.7 897.2 L736 898.7 L736.2 900.2 L736.5 901.6 L736.7 902.9 L737 904.1 L737.2 905.1 L737.5 906.1 L737.7 906.9 L737.9 907.5 L738.2 907.9 L738.4 908.1 L738.7 908.2 L738.9 908.1 L739.2 907.7 L739.4 907.2 L739.7 906.5 L739.9 905.6 L740.1 904.6 L740.4 903.5 L740.6 902.2 L740.9 900.8 L741.1 899.3 L741.4 897.7 L741.6 896.2 L741.9 894.6 L742.1 893 L742.4 891.4 L742.6 889.9 L742.8 888.5 L743.1 887.2 L743.3 886.1 L743.6 885 L743.8 884.2 L744.1 883.5 L744.3 882.9 L744.6 882.6 L744.8 882.5 L745 882.6 L745.3 882.9 L745.5 883.4 L745.8 884.1 L746 884.9 L746.3 886 L746.5 887.2 L746.8 888.5 L747 889.9 L747.3 891.5 L747.5 893.1 L747.7 894.7 L748 896.4 L748.2 898.1 L748.5 899.7 L748.7 901.3 L749 902.8 L749.2 904.2 L749.5 905.5 L749.7 906.6 L750 907.6 L750.2 908.4 L750.4 909 L750.7 909.4 L750.9 909.5 L751.2 909.5 L751.4 909.3 L751.7 908.8 L751.9 908.1 L752.2 907.3 L752.4 906.2 L752.6 905 L752.9 903.7 L753.1 902.2 L753.4 900.6 L753.6 898.9 L753.9 897.2 L754.1 895.4 L754.4 893.7 L754.6 892 L754.9 890.3 L755.1 888.7 L755.3 887.2 L755.6 885.8 L755.8 884.5 L756.1 883.5 L756.3 882.6 L756.6 881.9 L756.8 881.5 L757.1 881.2 L757.3 881.2 L757.5 881.4 L757.8 881.8 L758 882.4 L758.3 883.3 L758.5 884.3 L758.8 885.5 L759 886.9 L759.3 888.4 L759.5 890.1 L759.8 891.8 L760 893.6 L760.2 895.4 L760.5 897.3 L760.7 899.1 L761 900.9 L761.2 902.6 L761.5 904.2 L761.7 905.7 L762 907 L762.2 908.2 L762.4 909.2 L762.7 909.9 L762.9 910.5 L763.2 910.8 L763.4 910.9 L763.7 910.8 L763.9 910.4 L764.2 909.8 L764.4 909 L764.6 907.9 L764.9 906.7 L765.1 905.3 L765.4 903.8 L765.6 902.1 L765.9 900.3 L766.1 898.4 L766.4 896.5 L766.6 894.6 L766.9 892.7 L767.1 890.8 L767.3 889 L767.6 887.3 L767.8 885.7 L768.1 884.2 L768.3 883 L768.6 881.9 L768.8 881 L769.1 880.4 L769.3 880 L769.5 879.8 L769.8 879.9 L770 880.2 L770.3 880.8 L770.5 881.6 L770.8 882.6 L771 883.8 L771.3 885.2 L771.5 886.8 L771.8 888.5 L772 890.4 L772.2 892.3 L772.5 894.3 L772.7 896.3 L773 898.3 L773.2 900.3 L773.5 902.2 L773.7 904 L774 905.7 L774.2 907.2 L774.5 908.6 L774.7 909.8 L774.9 910.8 L775.2 911.5 L775.4 912 L775.7 912.2 L775.9 912.2 L776.2 912 L776.4 911.4 L776.7 910.7 L776.9 909.7 L777.1 908.5 L777.4 907.1 L777.6 905.5 L777.9 903.7 L778.1 901.8 L778.4 899.8 L778.6 897.8 L778.9 895.7 L779.1 893.6 L779.4 891.5 L779.6 889.5 L779.8 887.6 L780.1 885.8 L780.3 884.1 L780.6 882.6 L780.8 881.4 L781.1 880.3 L781.3 879.5 L781.6 878.9 L781.8 878.5 L782 878.5 L782.3 878.7 L782.5 879.1 L782.8 879.9 L783 880.8 L783.3 882 L783.5 883.4 L783.8 885.1 L784 886.8 L784.2 888.8 L784.5 890.8 L784.7 892.9 L785 895.1 L785.2 897.3 L785.5 899.4 L785.7 901.5 L786 903.6 L786.2 905.5 L786.5 907.3 L786.7 908.8 L786.9 910.2 L787.2 911.4 L787.4 912.4 L787.7 913 L787.9 913.5 L788.2 913.6 L788.4 913.5 L788.7 913.1 L788.9 912.4 L789.1 911.5 L789.4 910.3 L789.6 908.9 L789.9 907.3 L790.1 905.5 L790.4 903.5 L790.6 901.4 L790.9 899.2 L791.1 897 L791.4 894.7 L791.6 892.5 L791.8 890.3 L792.1 888.1 L792.3 886.1 L792.6 884.2 L792.8 882.5 L793.1 881 L793.3 879.7 L793.6 878.7 L793.8 877.9 L794 877.4 L794.3 877.1 L794.5 877.2 L794.8 877.5 L795 878.1 L795.3 879 L795.5 880.2 L795.8 881.6 L796 883.2 L796.3 885 L796.5 887 L796.7 889.1 L797 891.4 L797.2 893.7 L797.5 896 L797.7 898.4 L798 900.7 L798.2 902.9 L798.5 905.1 L798.7 907.1 L799 908.9 L799.2 910.5 L799.4 911.9 L799.7 913.1 L799.9 914 L800.2 914.6 L800.4 914.9 L800.7 914.9 L800.9 914.7 L801.2 914.1 L801.4 913.3 L801.6 912.1 L801.9 910.8 L802.1 909.1 L802.4 907.3 L802.6 905.3 L802.9 903.1 L803.1 900.8 L803.4 898.5 L803.6 896 L803.9 895.7 L852.9 895.7 L852.9 915.4 L925.5 915.4" fill="none" stroke="#000" stroke-width="2.0" stroke-linejoin="round" stroke-linecap="butt" stroke-linejoin="miter"/>
<path d="M105.6 953.6 L106.8 949 L107.9 960.5 L109.1 954.7 L110.2 961.3 L111.4 962 L112.5 961.7 L113.7 965.8 L114.8 960.2 L116 960.3 L117.1 956.9 L118.3 969.7 L119.4 962.7 L120.6 964.1 L121.7 958.5 L122.9 963.5 L124 962 L125.2 965.8 L126.3 965.2 L127.5 964.6 L128.6 963.9 L129.8 966.1 L130.9 955.9 L132.1 967 L133.2 966.9 L134.4 961.4 L135.5 964.3 L136.7 975.4 L137.8 964.2 L139 961.8 L140.1 963.5 L141.3 973.1 L142.4 971.2 L143.6 962.3 L144.7 967.7 L145.9 963.5 L147 964.2 L148.2 959 L149.3 968.3 L150.5 963.3 L151.6 958.2 L152.8 967.6 L153.9 973.1 L155.1 969.9 L156.2 955.2 L157.4 942 L158.5 927.7 L159.7 931.5 L160.8 935.3 L162 935.5 L163.1 937.9 L164.3 941 L165.4 946.3 L166.6 954.1 L167.7 951 L168.9 956.6 L170 956.1 L171.2 957.4 L172.3 946.9 L173.5 954.9 L174.6 948.6 L175.8 947 L176.9 958.9 L178.1 953.6 L179.2 963.9 L180.4 956 L181.5 956.9 L182.7 954 L183.8 939.8 L185 943.6 L186.1 964.2 L187.3 958.6 L188.4 954.8 L189.6 963.2 L190.7 961.4 L191.9 957.3 L193 960.6 L194.2 960.9 L195.3 962.1 L196.5 949.7 L197.6 957.4 L198.8 957.4 L199.9 961.6 L201.1 955 L202.2 959.2 L203.4 960.2 L204.5 962.8 L205.7 950.3 L206.8 959.9 L208 958.2 L209.1 946.8 L210.3 948.1 L211.4 954 L212.6 947.9 L213.7 951.4 L214.9 942.7 L216 943 L217.2 949.6 L218.3 937 L219.5 941.7 L220.6 946.7 L221.8 944.2 L222.9 945.6 L224.1 942.6 L225.2 942.4 L226.4 947.3 L227.5 942.4 L228.7 947.7 L229.8 942.6 L231 948.7 L232.1 961 L233.3 972.8 L234.4 972 L235.6 980.9 L236.7 975 L237.9 975.1 L239 966.2 L240.2 971.9 L241.3 976.3 L242.5 975.4 L243.6 965.8 L244.8 967.3 L245.9 965.2 L247.1 965.3 L248.2 968 L249.4 959.4 L250.5 966.7 L251.7 965 L252.8 966.9 L254 963.3 L255.1 958.4 L256.3 959.4 L257.4 961.4 L258.6 962.1 L259.7 963.7 L260.9 956.3 L262 948.6 L263.2 953.3 L264.3 952.5 L265.5 956.8 L266.6 952.5 L267.8 945 L268.9 961.9 L270.1 952.4 L271.2 947.3 L272.4 960.2 L273.5 953.6 L274.7 952.2 L275.8 956.2 L277 957.2 L278.1 952.3 L279.3 952.3 L280.4 949.3 L281.6 952.4 L282.7 956.1 L283.9 956.6 L285 954 L286.2 958.6 L287.3 963.9 L288.5 959.7 L289.6 961.5 L290.8 957.1 L291.9 956.1 L293.1 960.7 L294.2 956.8 L295.4 960.3 L296.5 959.2 L297.7 960.9 L298.8 966 L300 961.6 L301.1 961.1 L302.3 965.7 L303.4 969.7 L304.6 965.4 L305.7 954.9 L306.9 936.5 L308 924.1 L309.2 935.2 L310.3 936.4 L311.5 941.5 L312.6 942.3 L313.8 937.3 L314.9 933.9 L316.1 950.1 L317.2 950.3 L318.4 944.9 L319.5 958.2 L320.7 941.3 L321.8 956.3 L323 964.8 L324.1 962 L325.3 964.2 L326.4 952 L327.6 958.1 L328.7 960 L329.9 965.1 L331 956.2 L332.2 959 L333.3 955.2 L334.5 961 L335.6 951.2 L336.8 963.6 L337.9 959 L339.1 967.5 L340.2 963.4 L341.4 961 L342.5 959.4 L343.7 951.1 L344.8 956.6 L346 968.8 L347.1 961.3 L348.3 961.3 L349.4 958.3 L350.6 959.4 L351.7 956.1 L352.9 954.4 L354 956.9 L355.2 958.8 L356.3 963.6 L357.5 961.4 L358.6 958.1 L359.8 958.1 L360.9 961 L362.1 959.7 L363.2 961.8 L364.4 957.5 L365.5 964.7 L366.7 956.2 L367.8 951.6 L369 953.1 L370.1 949.5 L371.3 954.6 L372.4 947.7 L373.6 943.3 L374.7 942.4 L375.9 943.3 L377 917.5 L378.2 934.6 L379.3 940.4 L380.5 941.9 L381.6 948.6 L382.8 941.7 L383.9 955 L385.1 965.8 L386.2 971.7 L387.4 975.2 L388.5 981.7 L389.7 981.8 L390.8 986.6 L392 982.2 L393.1 973 L394.3 952.5 L395.4 943.6 L396.6 940.8 L397.7 934.7 L398.9 922.7 L400 929.8 L401.2 940 L402.3 960.1 L403.5 975.1 L404.6 978 L405.8 984 L406.9 979.6 L408.1 968.3 L409.2 931.1 L410.4 941.6 L411.5 932.8 L412.7 933.5 L413.8 948.2 L415 969.1 L416.1 981.7 L417.3 978.3 L418.4 969.4 L419.6 960.8 L420.7 930 L421.9 926.5 L423 930.9 L424.2 952 L425.3 976 L426.5 987.4 L427.6 988.2 L428.8 966.7 L429.9 940.9 L431.1 929.5 L432.2 937.2 L433.4 961.2 L434.5 984.5 L435.7 987.9 L436.8 965.2 L438 933.1 L439.1 930.6 L440.3 943.8 L441.4 962.7 L442.6 988 L443.7 983.5 L444.9 954 L446 933.2 L447.2 940 L448.3 958.2 L449.5 982.4 L450.6 977.9 L451.8 959.8 L452.9 938.6 L454.1 938.4 L455.2 965 L456.4 988.9 L457.5 972 L458.7 944.1 L459.8 930.2 L461 951.5 L462.1 978.6 L463.3 960.3 L464.4 935.5 L465.6 932.6 L466.7 945.5 L467.9 976.1 L469 965.6 L470.2 928.3 L471.3 932.4 L472.5 963.7 L473.6 981.5 L474.8 959.6 L475.9 937.1 L477.1 932.1 L478.2 968.1 L479.4 970.7 L480.5 949.1 L481.7 942.7 L482.8 965.4 L484 987.1 L485.1 958.2 L486.3 937.9 L487.4 958.2 L488.6 977.4 L489.7 954.4 L490.9 938.8 L492 938.1 L493.2 977.1 L494.3 954.1 L495.5 937.3 L496.6 956.6 L497.8 973.5 L498.9 957.4 L500.1 940 L501.2 963.4 L502.4 968.6 L503.5 946.9 L504.7 929.4 L505.8 962.2 L507 965 L508.1 944.4 L509.3 958.9 L510.4 971.3 L511.6 950.2 L512.7 946.9 L513.9 968.7 L515 961.9 L516.2 946.5 L517.3 965.2 L518.5 968.7 L519.6 955.6 L520.8 952.6 L521.9 962.3 L523.1 953.7 L524.2 953.7 L525.4 974.5 L526.5 966.2 L527.7 946.3 L528.8 964 L530 964.4 L531.1 949.1 L532.3 966.6 L533.4 953.6 L534.6 948.8 L535.7 965 L536.9 971.5 L538 943.6 L539.2 966.5 L540.3 961.4 L541.5 939.4 L542.6 968 L543.8 953.2 L544.9 940.4 L546.1 968.8 L547.2 954.2 L548.4 950.5 L549.5 965.3 L550.7 946.3 L551.8 956.8 L553 962.3 L554.1 947.3 L555.3 964 L556.4 955.1 L557.6 960 L558.7 950.3 L559.9 946.3 L561 949.7 L562.2 939.5 L563.3 943 L564.5 949.7 L565.6 932.9 L566.8 948.4 L567.9 952 L569.1 944.9 L570.2 935.5 L571.4 957.3 L572.5 956.1 L573.7 954.9 L574.8 961.1 L576 960.4 L577.1 956.9 L578.3 964.7 L579.4 961.9 L580.6 961.7 L581.7 949.6 L582.9 959 L584 968.7 L585.2 962.1 L586.3 960.2 L587.5 964.8 L588.6 964.2 L589.8 942.2 L590.9 959.5 L592.1 953.3 L593.2 962.5 L594.4 964.1 L595.5 965.5 L596.7 960.9 L597.8 967 L599 939 L600.1 956.1 L601.3 959.6 L602.4 963.5 L603.6 957.4 L604.7 969.4 L605.9 953.8 L607 963.3 L608.2 957.9 L609.3 955 L610.5 955 L611.6 952.8 L612.8 952 L613.9 955.7 L615.1 958 L616.2 965 L617.4 966.2 L618.5 963.3 L619.7 961.6 L620.8 960 L622 953.7 L623.1 959.9 L624.3 958.7 L625.4 954.3 L626.6 957.4 L627.7 962.1 L628.9 959.9 L630 961.6 L631.2 955.8 L632.3 956.2 L633.5 948.7 L634.6 942.8 L635.8 953.6 L636.9 958.1 L638.1 962.2 L639.2 966 L640.4 967.1 L641.5 970.8 L642.7 974.2 L643.8 966.3 L645 957.8 L646.1 950 L647.3 943.3 L648.4 958.5 L649.6 950.6 L650.7 959.3 L651.9 964.8 L653 961.4 L654.2 962.7 L655.3 970 L656.5 964.4 L657.6 958.2 L658.8 950.8 L659.9 949.1 L661.1 946.3 L662.2 960.5 L663.4 964.6 L664.5 958.9 L665.7 972.9 L666.8 975.2 L668 971.5 L669.1 958.8 L670.3 953.1 L671.4 942.7 L672.6 948.2 L673.7 952.7 L674.9 949.9 L676 971 L677.2 974 L678.3 979.2 L679.5 976.9 L680.6 964 L681.8 963.4 L682.9 955.9 L684.1 945.5 L685.2 937.8 L686.4 956.7 L687.5 958.8 L688.7 972.5 L689.8 973.5 L691 979.4 L692.1 975.3 L693.3 971.6 L694.4 944.2 L695.6 946.8 L696.7 939.5 L697.9 944 L699 952 L700.2 966.1 L701.3 979.4 L702.5 981.2 L703.6 984.8 L704.8 967.9 L705.9 957 L707.1 953.5 L708.2 936.6 L709.4 934.1 L710.5 943.9 L711.7 944.7 L712.8 964 L714 984.7 L715.1 990.6 L716.3 986.6 L717.4 983.5 L718.6 958.1 L719.7 940.5 L720.9 930.1 L722 928.8 L723.2 937.6 L724.3 950.3 L725.5 966.9 L726.6 980.9 L727.8 981.6 L728.9 977.8 L730.1 971.1 L731.2 958.7 L732.4 942.9 L733.5 938.2 L734.7 937.8 L735.8 947.2 L737 949.8 L738.1 971.9 L739.3 990.7 L740.4 994.3 L741.6 992.6 L742.7 972 L743.9 942.2 L745 945.4 L746.2 935.6 L747.3 942 L748.5 944.1 L749.6 952.6 L750.8 981.2 L751.9 993.6 L753.1 990.5 L754.2 972.3 L755.4 964.7 L756.5 945.3 L757.7 938.6 L758.8 924.3 L760 927.1 L761.1 947.6 L762.3 950.7 L763.4 974.4 L764.6 990.6 L765.7 994.4 L766.9 978.1 L768 959.3 L769.2 947.1 L770.3 934.3 L771.5 929 L772.6 929.4 L773.8 939.6 L774.9 972.1 L776.1 985.9 L777.2 987.9 L778.4 988.5 L779.5 983.2 L780.7 962 L781.8 943.6 L783 932.5 L784.1 936.6 L785.3 943.3 L786.4 953.9 L787.6 956.5 L788.7 987.4 L789.9 981.2 L791 983.1 L792.2 967.3 L793.3 951.6 L794.5 933.3 L795.6 930.7 L796.8 931.2 L797.9 939.2 L799.1 951.7 L800.2 974.6 L801.4 979.2 L802.5 988.4 L803.7 986.3 L804.8 961.4 L806 954.8 L807.1 948.4 L808.3 952.3 L809.4 954.4 L810.6 958.7 L811.7 953.1 L812.9 928.1 L814 955.8 L815.2 959.1 L816.3 949.6 L817.5 951.1 L818.6 949.1 L819.8 961.2 L820.9 957.5 L822.1 938.4 L823.2 945.8 L824.4 950.1 L825.5 950.7 L826.7 952.1 L827.8 942.4 L829 946 L830.1 944.2 L831.3 947.3 L832.4 942.9 L833.6 949.9 L834.7 942.5 L835.9 946.1 L837 951.6 L838.2 950.8 L839.3 957.4 L840.5 947.6 L841.6 943.8 L842.8 943.6 L843.9 945 L845.1 944.8 L846.2 955.6 L847.4 943.9 L848.5 956.2 L849.7 941.1 L850.8 955 L852 958.4 L853.1 955.1 L854.3 964.9 L855.4 972.8 L856.6 961.1 L857.7 966.5 L858.9 971.1 L860 973.6 L861.2 979.4 L862.3 981.6 L863.5 973 L864.6 961.7 L865.8 970 L866.9 972.4 L868.1 974.5 L869.2 962.7 L870.4 971.6 L871.5 969.1 L872.7 971 L873.8 954.9 L875 957.5 L876.1 965.5 L877.3 958 L878.4 958 L879.6 962.4 L880.7 959.4 L881.9 967.6 L883 960.7 L884.2 959.3 L885.3 955.2 L886.5 963.5 L887.6 954.3 L888.8 960.2 L889.9 954.2 L891.1 957.2 L892.2 948.4 L893.4 950.9 L894.5 951.6 L895.7 947.5 L896.8 952 L898 950.8 L899.1 949 L900.3 956.8 L901.4 956.7 L902.6 956 L903.7 958.1 L904.9 946.8 L906 948.7 L907.2 960.2 L908.3 952.5 L909.5 960.1 L910.6 946.7 L911.8 947.9 L912.9 953.6 L914.1 956.8 L915.2 942 L916.4 949.5 L917.5 948 L918.7 949.7 L919.8 954.6 L921 954.8 L922.1 946.5 L923.3 957.7 L924.4 949.6 L925.6 962.4 L926.7 968.8 L926.7 980.1 L925.6 981 L924.4 965.7 L923.3 965.8 L922.1 965.8 L921 967.3 L919.8 983 L918.7 957.7 L917.5 958.9 L916.4 963.8 L915.2 964.7 L914.1 968.4 L912.9 961.3 L911.8 963.6 L910.6 964.5 L909.5 972.7 L908.3 968.6 L907.2 974 L906 972.9 L904.9 971.9 L903.7 988.2 L902.6 972.1 L901.4 966.8 L900.3 968.2 L899.1 959.7 L898 958.7 L896.8 959.4 L895.7 960 L894.5 964.2 L893.4 970.2 L892.2 959.5 L891.1 967.1 L889.9 968.5 L888.8 971.5 L887.6 969.8 L886.5 973.8 L885.3 976.2 L884.2 975.6 L883 971.7 L881.9 982.5 L880.7 970.2 L879.6 970.7 L878.4 968.2 L877.3 970.9 L876.1 974.4 L875 972.1 L873.8 979.2 L872.7 985 L871.5 987 L870.4 987.7 L869.2 977.1 L868.1 983.5 L866.9 981.1 L865.8 979.9 L864.6 987.3 L863.5 983.6 L862.3 991.9 L861.2 990.4 L860 983.7 L858.9 980.4 L857.7 981.5 L856.6 977.1 L855.4 980.9 L854.3 973.9 L853.1 965.5 L852 986.9 L850.8 966.1 L849.7 961.9 L848.5 978.2 L847.4 964.6 L846.2 966.1 L845.1 956.8 L843.9 966.2 L842.8 955.7 L841.6 952.2 L840.5 955.2 L839.3 968.4 L838.2 959.2 L837 961.9 L835.9 957.1 L834.7 960.4 L833.6 957.6 L832.4 950.6 L831.3 956.1 L830.1 952.9 L829 953.4 L827.8 959.8 L826.7 960.7 L825.5 962.5 L824.4 962.3 L823.2 968.8 L822.1 959.7 L820.9 964.8 L819.8 969.2 L818.6 969.6 L817.5 970.3 L816.3 969 L815.2 976.8 L814 965.9 L812.9 965.9 L811.7 962.4 L810.6 968.1 L809.4 972.6 L808.3 960.8 L807.1 963.4 L806 967 L804.8 990.9 L803.7 994 L802.5 1006.3 L801.4 997.7 L800.2 987.3 L799.1 969.6 L797.9 949.5 L796.8 940.1 L795.6 940.3 L794.5 947.7 L793.3 959.5 L792.2 980 L791 995.5 L789.9 1008.6 L788.7 997.1 L787.6 978.3 L786.4 963.1 L785.3 953.4 L784.1 944.9 L783 958.6 L781.8 951.1 L780.7 979.8 L779.5 992.2 L778.4 998.3 L777.2 1000.9 L776.1 995.6 L774.9 981.7 L773.8 962.4 L772.6 948.9 L771.5 937.1 L770.3 950.8 L769.2 955.8 L768 967 L766.9 990.4 L765.7 1002 L764.6 999.1 L763.4 992.5 L762.3 976.2 L761.1 958.1 L760 938.8 L758.8 943.6 L757.7 948 L756.5 964.5 L755.4 977.8 L754.2 997.4 L753.1 1001.2 L751.9 1001.3 L750.8 992.9 L749.6 972.2 L748.5 957 L747.3 951.3 L746.2 946.1 L745 956.4 L743.9 965.8 L742.7 984.9 L741.6 1006.2 L740.4 1007.8 L739.3 999.2 L738.1 984.1 L737 967.5 L735.8 959.4 L734.7 949 L733.5 949.2 L732.4 959.7 L731.2 971.9 L730.1 981.4 L728.9 988.8 L727.8 998.2 L726.6 995.8 L725.5 976.9 L724.3 960.1 L723.2 947.4 L722 938.2 L720.9 949.1 L719.7 948 L718.6 965.7 L717.4 996.7 L716.3 995.9 L715.1 999.2 L714 994.3 L712.8 972.5 L711.7 962.4 L710.5 953 L709.4 953.3 L708.2 949.7 L707.1 965.9 L705.9 973 L704.8 991.9 L703.6 1000.1 L702.5 995.9 L701.3 989 L700.2 974.2 L699 959.4 L697.9 952.9 L696.7 949.2 L695.6 958.5 L694.4 968 L693.3 992.3 L692.1 990.8 L691 988.6 L689.8 988.1 L688.7 984.8 L687.5 973.1 L686.4 965.4 L685.2 947.7 L684.1 956.7 L682.9 965.2 L681.8 971.4 L680.6 978.2 L679.5 986.2 L678.3 990.1 L677.2 982.3 L676 988.3 L674.9 961.8 L673.7 963.3 L672.6 958.1 L671.4 956.2 L670.3 975.1 L669.1 974 L668 982.5 L666.8 985 L665.7 983.9 L664.5 977.9 L663.4 974.3 L662.2 970.9 L661.1 956.7 L659.9 959.9 L658.8 961.1 L657.6 969.5 L656.5 974 L655.3 978.1 L654.2 975.4 L653 980.2 L651.9 982.3 L650.7 966.6 L649.6 964.7 L648.4 968.3 L647.3 968.3 L646.1 959.2 L645 971.6 L643.8 981.3 L642.7 1001.4 L641.5 985.4 L640.4 975.4 L639.2 973.2 L638.1 975.8 L636.9 976.7 L635.8 968.2 L634.6 956.4 L633.5 958.1 L632.3 966.4 L631.2 964 L630 981.1 L628.9 970.3 L627.7 972.5 L626.6 968.4 L625.4 968.7 L624.3 971.1 L623.1 984.6 L622 969.3 L620.8 967.9 L619.7 972.8 L618.5 988.4 L617.4 974.2 L616.2 973.1 L615.1 977 L613.9 971.9 L612.8 964.9 L611.6 966.5 L610.5 968.5 L609.3 969.9 L608.2 968.9 L607 971.8 L605.9 967.8 L604.7 976.8 L603.6 973.1 L602.4 976.7 L601.3 967.7 L600.1 972.9 L599 995.6 L597.8 974.8 L596.7 970.1 L595.5 973.3 L594.4 984.4 L593.2 975.3 L592.1 974.7 L590.9 969.5 L589.8 974.3 L588.6 974.6 L587.5 974.4 L586.3 970.1 L585.2 972.6 L584 981.3 L582.9 970.4 L581.7 977 L580.6 976.1 L579.4 972.8 L578.3 977.7 L577.1 967.7 L576 969.9 L574.8 972.3 L573.7 968 L572.5 972.4 L571.4 965.4 L570.2 959.4 L569.1 964.5 L567.9 960.3 L566.8 969.6 L565.6 963 L564.5 960.8 L563.3 957.8 L562.2 948.7 L561 957 L559.9 954.3 L558.7 965.2 L557.6 972.1 L556.4 974 L555.3 972.6 L554.1 957.1 L553 976.9 L551.8 966.2 L550.7 958.8 L549.5 975.7 L548.4 968.5 L547.2 969.7 L546.1 979.8 L544.9 962.4 L543.8 968.8 L542.6 980.3 L541.5 971.8 L540.3 973.7 L539.2 976.1 L538 962.5 L536.9 979.7 L535.7 974.5 L534.6 957.3 L533.4 981.4 L532.3 976.7 L531.1 958.1 L530 972.6 L528.8 985.4 L527.7 961.1 L526.5 974.2 L525.4 985.1 L524.2 969.3 L523.1 975.5 L521.9 977.1 L520.8 962.2 L519.6 976.6 L518.5 978.8 L517.3 973.5 L516.2 962.1 L515 981.2 L513.9 980.7 L512.7 955.2 L511.6 971.3 L510.4 985.2 L509.3 968.7 L508.1 954.2 L507 973.3 L505.8 976.1 L504.7 948.1 L503.5 961.3 L502.4 978.9 L501.2 971.5 L500.1 952.3 L498.9 970.2 L497.8 988.1 L496.6 977.3 L495.5 952.8 L494.3 977.1 L493.2 985.4 L492 959.2 L490.9 949.9 L489.7 967 L488.6 989.5 L487.4 978.3 L486.3 947.5 L485.1 969.3 L484 1002.5 L482.8 979.1 L481.7 950.2 L480.5 963 L479.4 988.7 L478.2 985 L477.1 957.6 L475.9 948.9 L474.8 970.6 L473.6 991 L472.5 980 L471.3 943.3 L470.2 950.7 L469 979.9 L467.9 989.5 L466.7 965.5 L465.6 948.8 L464.4 943.8 L463.3 981.6 L462.1 991.3 L461 965.3 L459.8 944.2 L458.7 971.5 L457.5 989 L456.4 996.5 L455.2 997.8 L454.1 952.3 L452.9 951.8 L451.8 969.6 L450.6 995.8 L449.5 990.5 L448.3 969.5 L447.2 947.8 L446 941.6 L444.9 966.4 L443.7 994.8 L442.6 998.6 L441.4 981 L440.3 951.3 L439.1 942.4 L438 950.7 L436.8 982.1 L435.7 1005.5 L434.5 994.8 L433.4 971.3 L432.2 947 L431.1 942.1 L429.9 955.1 L428.8 978.9 L427.6 999.9 L426.5 1002.5 L425.3 989.1 L424.2 964 L423 944.1 L421.9 934.7 L420.7 949.6 L419.6 972.8 L418.4 996.2 L417.3 992.9 L416.1 989.3 L415 977.7 L413.8 959.9 L412.7 940.8 L411.5 941.1 L410.4 951.4 L409.2 955.1 L408.1 983.9 L406.9 989 L405.8 1003.6 L404.6 998.2 L403.5 984.3 L402.3 981.7 L401.2 956.2 L400 950.6 L398.9 941.7 L397.7 942.3 L396.6 949.7 L395.4 958.5 L394.3 966.3 L393.1 980.9 L392 990.5 L390.8 997.8 L389.7 993.4 L388.5 991.8 L387.4 989.2 L386.2 981.4 L385.1 974 L383.9 964.3 L382.8 958.3 L381.6 956.7 L380.5 950.9 L379.3 951.4 L378.2 951.9 L377 950 L375.9 952 L374.7 955.2 L373.6 954.4 L372.4 958.3 L371.3 962.1 L370.1 967.2 L369 974 L367.8 969.6 L366.7 964.9 L365.5 972.2 L364.4 968.1 L363.2 972.1 L362.1 972.7 L360.9 971 L359.8 969.1 L358.6 975.1 L357.5 970.6 L356.3 971.1 L355.2 972.7 L354 969.2 L352.9 966 L351.7 966.7 L350.6 969.8 L349.4 973 L348.3 972.2 L347.1 973 L346 981.4 L344.8 976.9 L343.7 970.2 L342.5 968.5 L341.4 970.5 L340.2 982.4 L339.1 975.6 L337.9 968.5 L336.8 974.9 L335.6 970.5 L334.5 968.6 L333.3 965.2 L332.2 985.9 L331 966.2 L329.9 975.9 L328.7 969.6 L327.6 965.9 L326.4 971.3 L325.3 975.7 L324.1 971.9 L323 973.2 L321.8 965.8 L320.7 958.2 L319.5 969.4 L318.4 960.8 L317.2 964.8 L316.1 965 L314.9 953.2 L313.8 957.6 L312.6 956.6 L311.5 949.1 L310.3 948.8 L309.2 947.8 L308 939.8 L306.9 944.5 L305.7 969.6 L304.6 976.9 L303.4 977.3 L302.3 975.1 L301.1 981.7 L300 976.8 L298.8 974 L297.7 973.5 L296.5 969.3 L295.4 972.7 L294.2 966.2 L293.1 978.3 L291.9 966.3 L290.8 964.7 L289.6 971.2 L288.5 970.6 L287.3 978.3 L286.2 968.4 L285 967 L283.9 963.9 L282.7 966.7 L281.6 983.1 L280.4 965 L279.3 967 L278.1 965 L277 971.6 L275.8 965.8 L274.7 968.2 L273.5 962.4 L272.4 969 L271.2 968.3 L270.1 959.8 L268.9 971.4 L267.8 972.9 L266.6 960.1 L265.5 970.1 L264.3 967 L263.2 966.1 L262 966.6 L260.9 968.8 L259.7 971.6 L258.6 972.8 L257.4 979 L256.3 971.3 L255.1 975.1 L254 972.4 L252.8 977.8 L251.7 979 L250.5 987.6 L249.4 971 L248.2 981.7 L247.1 973.1 L245.9 990.4 L244.8 975.8 L243.6 986 L242.5 992.4 L241.3 985.8 L240.2 981.6 L239 995.5 L237.9 983.7 L236.7 985.7 L235.6 989.8 L234.4 980.3 L233.3 983.7 L232.1 971.7 L231 957.1 L229.8 951.8 L228.7 955.6 L227.5 962.6 L226.4 958.5 L225.2 954 L224.1 952.2 L222.9 955 L221.8 960.9 L220.6 959.4 L219.5 959.7 L218.3 953.4 L217.2 962.5 L216 958.7 L214.9 956.1 L213.7 960.4 L212.6 967 L211.4 962.6 L210.3 963.7 L209.1 964.2 L208 966.8 L206.8 974.2 L205.7 964.9 L204.5 973.5 L203.4 970.7 L202.2 971.3 L201.1 963.7 L199.9 970.3 L198.8 965.1 L197.6 966.2 L196.5 964 L195.3 972.5 L194.2 970.5 L193 975.6 L191.9 969.2 L190.7 968.8 L189.6 983.9 L188.4 964 L187.3 968.2 L186.1 974.7 L185 975 L183.8 957.9 L182.7 963.1 L181.5 965.6 L180.4 964.5 L179.2 973.3 L178.1 977.2 L176.9 968.7 L175.8 961.4 L174.6 966.4 L173.5 966.1 L172.3 965.1 L171.2 970.6 L170 964.5 L168.9 972.3 L167.7 961.4 L166.6 962.2 L165.4 956.6 L164.3 960 L163.1 948.8 L162 962.5 L160.8 948.8 L159.7 938.8 L158.5 945.3 L157.4 953.9 L156.2 965 L155.1 980.5 L153.9 985.3 L152.8 974.9 L151.6 978.4 L150.5 972.4 L149.3 976.7 L148.2 968.1 L147 972.4 L145.9 974.1 L144.7 976.2 L143.6 971.1 L142.4 981.3 L141.3 980.5 L140.1 974.2 L139 971.9 L137.8 973.5 L136.7 983.5 L135.5 978.4 L134.4 973.9 L133.2 984.3 L132.1 977.1 L130.9 974.8 L129.8 978.5 L128.6 989.3 L127.5 972.6 L126.3 976.2 L125.2 973.8 L124 972.5 L122.9 971.1 L121.7 971.1 L120.6 974.9 L119.4 972 L118.3 983.2 L117.1 979.2 L116 971.4 L114.8 973.9 L113.7 975 L112.5 973 L111.4 971.5 L110.2 977 L109.1 965.6 L107.9 977.7 L106.8 958 L105.6 962.2Z" fill="#b4b4b4"/>
<path d="M105.6 957.2 L106.8 953.7 L107.9 965.8 L109.1 958.4 L110.2 968.1 L111.4 967.7 L112.5 969.3 L113.7 970.1 L114.8 969.1 L116 967 L117.1 967.9 L118.3 973.5 L119.4 967.1 L120.6 968 L121.7 966.5 L122.9 967.1 L124 968.2 L125.2 970.2 L126.3 968.9 L127.5 969 L128.6 968.5 L129.8 970.8 L130.9 966.5 L132.1 970.7 L133.2 974.7 L134.4 968.4 L135.5 970.6 L136.7 979.4 L137.8 967.8 L139 966 L140.1 969.7 L141.3 976.8 L142.4 977.3 L143.6 967.2 L144.7 972.4 L145.9 970.4 L147 968.4 L148.2 964 L149.3 973.1 L150.5 967.6 L151.6 971.6 L152.8 971.3 L153.9 977 L155.1 975.1 L156.2 958.8 L157.4 949.2 L158.5 941.6 L159.7 935.2 L160.8 941.7 L162 947.4 L163.1 944.8 L164.3 948.7 L165.4 950.1 L166.6 958.5 L167.7 957.8 L168.9 963.1 L170 960.7 L171.2 962 L172.3 959.8 L173.5 962.4 L174.6 959.6 L175.8 957.1 L176.9 963.7 L178.1 963.2 L179.2 967.6 L180.4 960.9 L181.5 960.5 L182.7 959.2 L183.8 952.9 L185 961.9 L186.1 968.3 L187.3 964.4 L188.4 959.3 L189.6 969 L190.7 965 L191.9 965.3 L193 964.3 L194.2 964.6 L195.3 965.8 L196.5 958.5 L197.6 962.5 L198.8 961.4 L199.9 966.3 L201.1 959.4 L202.2 967.4 L203.4 964.1 L204.5 967.3 L205.7 960.1 L206.8 964.5 L208 963 L209.1 956.8 L210.3 960 L211.4 958.7 L212.6 956 L213.7 955.1 L214.9 951.7 L216 953.3 L217.2 954.4 L218.3 949.6 L219.5 945.9 L220.6 953.1 L221.8 948.3 L222.9 949.2 L224.1 948.2 L225.2 947.3 L226.4 951.4 L227.5 949.2 L228.7 951.8 L229.8 948.1 L231 952.4 L232.1 967.1 L233.3 977.6 L234.4 976 L235.6 984.9 L236.7 980.6 L237.9 980.1 L239 976.4 L240.2 977.4 L241.3 982.1 L242.5 979.1 L243.6 972.6 L244.8 971.8 L245.9 976.2 L247.1 969.5 L248.2 972.9 L249.4 966.5 L250.5 970.8 L251.7 973.1 L252.8 970.9 L254 968.8 L255.1 968 L256.3 966.8 L257.4 966.1 L258.6 968.9 L259.7 967.9 L260.9 964.7 L262 958.5 L263.2 960.1 L264.3 962 L265.5 960.8 L266.6 956.1 L267.8 961.9 L268.9 967.7 L270.1 956 L271.2 960 L272.4 964.9 L273.5 958.7 L274.7 958.5 L275.8 959.8 L277 961.3 L278.1 958.2 L279.3 962.2 L280.4 953.3 L281.6 961.3 L282.7 961 L283.9 960.3 L285 963.3 L286.2 963.5 L287.3 968.4 L288.5 963.6 L289.6 965.1 L290.8 961.1 L291.9 962 L293.1 964.7 L294.2 961.1 L295.4 964 L296.5 963.7 L297.7 967.4 L298.8 970.2 L300 973.2 L301.1 964.7 L302.3 970.2 L303.4 973.5 L304.6 970 L305.7 958.9 L306.9 940.1 L308 933.1 L309.2 939.8 L310.3 944.4 L311.5 945.3 L312.6 947.7 L313.8 950 L314.9 949.3 L316.1 954.4 L317.2 958.4 L318.4 956.4 L319.5 962.5 L320.7 951.8 L321.8 960.9 L323 968.4 L324.1 967 L325.3 969.7 L326.4 965.8 L327.6 961.8 L328.7 964 L329.9 970.2 L331 960.1 L332.2 963.1 L333.3 960.9 L334.5 964.7 L335.6 965.1 L336.8 968.1 L337.9 963.8 L339.1 971.7 L340.2 968.4 L341.4 965.4 L342.5 964.2 L343.7 963.2 L344.8 968.5 L346 974.4 L347.1 967.8 L348.3 964.9 L349.4 967.4 L350.6 965.2 L351.7 963.1 L352.9 959.3 L354 964.3 L355.2 968.6 L356.3 967.5 L357.5 966.7 L358.6 964.4 L359.8 965.4 L360.9 967.4 L362.1 964.5 L363.2 966 L364.4 964.1 L365.5 968.4 L366.7 961 L367.8 964.5 L369 963.3 L370.1 961.1 L371.3 958.2 L372.4 952.2 L373.6 949.7 L374.7 948.5 L375.9 947.7 L377 944.8 L378.2 946.8 L379.3 946.9 L380.5 947.2 L381.6 952.9 L382.8 952.8 L383.9 960.6 L385.1 970.3 L386.2 977.8 L387.4 979.2 L388.5 987.5 L389.7 988.1 L390.8 993.3 L392 986.2 L393.1 976.6 L394.3 962.6 L395.4 951.8 L396.6 945.4 L397.7 938.4 L398.9 937.9 L400 946.9 L401.2 952.2 L402.3 963.8 L403.5 980 L404.6 988.2 L405.8 992.8 L406.9 983.5 L408.1 971.9 L409.2 950.1 L410.4 946.9 L411.5 937.3 L412.7 937.2 L413.8 953.6 L415 973.2 L416.1 985.6 L417.3 986.7 L418.4 980.7 L419.6 964.5 L420.7 940.1 L421.9 930.1 L423 937.5 L424.2 959.8 L425.3 982.6 L426.5 991.2 L427.6 991.9 L428.8 972.1 L429.9 946.7 L431.1 933.5 L432.2 941.5 L433.4 965.4 L434.5 989.9 L435.7 991.9 L436.8 968.8 L438 944.7 L439.1 938.7 L440.3 947.5 L441.4 969.8 L442.6 993.5 L443.7 989.9 L444.9 962.5 L446 937.9 L447.2 944.1 L448.3 964.3 L449.5 986.2 L450.6 981.6 L451.8 964 L452.9 944.6 L454.1 946.8 L455.2 977.5 L456.4 992.6 L457.5 978 L458.7 949.4 L459.8 940.2 L461 960.5 L462.1 982.3 L463.3 973.4 L464.4 939.8 L465.6 936.2 L466.7 956.4 L467.9 984.1 L469 976.3 L470.2 944.7 L471.3 939.5 L472.5 967.9 L473.6 986.3 L474.8 966.2 L475.9 941 L477.1 952.3 L478.2 979.5 L479.4 982.1 L480.5 953.5 L481.7 946.5 L482.8 969.4 L484 992.2 L485.1 961.9 L486.3 942.5 L487.4 968 L488.6 982.5 L489.7 963.4 L490.9 945.5 L492 952.4 L493.2 981.7 L494.3 964.9 L495.5 946.5 L496.6 960.5 L497.8 984.5 L498.9 962.3 L500.1 946.4 L501.2 967.9 L502.4 972.8 L503.5 951.5 L504.7 943.7 L505.8 968.4 L507 969 L508.1 948 L509.3 962.9 L510.4 975.4 L511.6 959.6 L512.7 951.2 L513.9 975.4 L515 973.8 L516.2 956.2 L517.3 968.8 L518.5 975.1 L519.6 959.3 L520.8 958.2 L521.9 973.3 L523.1 965.4 L524.2 957.7 L525.4 978.2 L526.5 970 L527.7 949.9 L528.8 968.4 L530 968.5 L531.1 952.8 L532.3 970.3 L533.4 966.4 L534.6 953 L535.7 970.8 L536.9 976.1 L538 949.2 L539.2 972.4 L540.3 966.3 L541.5 947 L542.6 971.7 L543.8 961.4 L544.9 949.2 L546.1 973.1 L547.2 966.1 L548.4 956.9 L549.5 971.4 L550.7 955.1 L551.8 961.3 L553 965.9 L554.1 951.6 L555.3 968.8 L556.4 967.3 L557.6 966.6 L558.7 957.6 L559.9 950.7 L561 953.4 L562.2 944.4 L563.3 953.3 L564.5 956.8 L565.6 950.8 L566.8 958.3 L567.9 956.5 L569.1 957.4 L570.2 953.7 L571.4 961.2 L572.5 966.3 L573.7 960.3 L574.8 965.7 L576 965.8 L577.1 963.5 L578.3 971.6 L579.4 968.3 L580.6 967.9 L581.7 970.5 L582.9 965 L584 977.2 L585.2 966 L586.3 964.1 L587.5 969.9 L588.6 969.6 L589.8 965.3 L590.9 965.1 L592.1 969.9 L593.2 967.9 L594.4 968.1 L595.5 969.5 L596.7 965 L597.8 970.6 L599 966.9 L600.1 969 L601.3 964.1 L602.4 969.1 L603.6 967.1 L604.7 973 L605.9 964.1 L607 968.2 L608.2 964.3 L609.3 966.2 L610.5 961.7 L611.6 962.8 L612.8 955.6 L613.9 960.2 L615.1 969 L616.2 968.8 L617.4 970.5 L618.5 967 L619.7 968.9 L620.8 963.6 L622 962.8 L623.1 965.7 L624.3 965.1 L625.4 961.4 L626.6 964.4 L627.7 966.4 L628.9 965.9 L630 965.2 L631.2 960.3 L632.3 961.6 L633.5 953.9 L634.6 952.6 L635.8 959.9 L636.9 964.4 L638.1 968.8 L639.2 969.6 L640.4 971.2 L641.5 976.9 L642.7 978.3 L643.8 970 L645 963.3 L646.1 954.7 L647.3 951.9 L648.4 962.2 L649.6 955.4 L650.7 963 L651.9 969.5 L653 974.9 L654.2 971.1 L655.3 974.3 L656.5 969.4 L657.6 962.1 L658.8 955.7 L659.9 954.9 L661.1 952.1 L662.2 965.2 L663.4 968.5 L664.5 972.5 L665.7 980.1 L666.8 981.3 L668 976.1 L669.1 969.3 L670.3 963.3 L671.4 952.5 L672.6 953 L673.7 956.3 L674.9 958.1 L676 974.7 L677.2 978.1 L678.3 983.6 L679.5 982.1 L680.6 972.1 L681.8 967.7 L682.9 959.6 L684.1 952 L685.2 943 L686.4 961.8 L687.5 966.9 L688.7 976.2 L689.8 984.4 L691 985 L692.1 982.5 L693.3 975.4 L694.4 958.1 L695.6 952.1 L696.7 944.7 L697.9 947.7 L699 955.6 L700.2 969.8 L701.3 984.1 L702.5 988.7 L703.6 991.9 L704.8 986.4 L705.9 964.5 L707.1 957.5 L708.2 943.5 L709.4 939.9 L710.5 947.7 L711.7 955.2 L712.8 968.8 L714 988.5 L715.1 995.5 L716.3 992.3 L717.4 989.5 L718.6 961.9 L719.7 944.3 L720.9 937.9 L722 932.5 L723.2 943.8 L724.3 954.5 L725.5 971.2 L726.6 987.2 L727.8 991.2 L728.9 984.8 L730.1 976.9 L731.2 965.2 L732.4 949.2 L733.5 942.4 L734.7 944.7 L735.8 951.1 L737 963.4 L738.1 978.1 L739.3 994.5 L740.4 1002.3 L741.6 996.3 L742.7 981.1 L743.9 958.9 L745 949 L746.2 942.1 L747.3 945.8 L748.5 949 L749.6 966.7 L750.8 986.1 L751.9 997.3 L753.1 996.9 L754.2 992.1 L755.4 974 L756.5 960.9 L757.7 942.3 L758.8 938.5 L760 935.2 L761.1 954.1 L762.3 968.1 L763.4 988.1 L764.6 994.6 L765.7 998.2 L766.9 982.8 L768 963.4 L769.2 951.7 L770.3 940.9 L771.5 933.4 L772.6 937.8 L773.8 957.8 L774.9 976 L776.1 990.3 L777.2 996.1 L778.4 993.6 L779.5 987.2 L780.7 968.2 L781.8 947.3 L783 936.6 L784.1 940.2 L785.3 948 L786.4 958.2 L787.6 974.4 L788.7 992.6 L789.9 993.5 L791 991.8 L792.2 972.4 L793.3 955.9 L794.5 939 L795.6 936.1 L796.8 936.4 L797.9 943 L799.1 964.5 L800.2 979.4 L801.4 992.1 L802.5 999.4 L803.7 990 L804.8 973 L806 961.6 L807.1 954.8 L808.3 956.7 L809.4 958.6 L810.6 964.5 L811.7 958.7 L812.9 960.5 L814 962.3 L815.2 963.4 L816.3 965 L817.5 965.2 L818.6 960 L819.8 965.6 L820.9 961.2 L822.1 956.1 L823.2 954.5 L824.4 955.1 L825.5 954.3 L826.7 956 L827.8 949.9 L829 949.7 L830.1 948.3 L831.3 951.9 L832.4 947 L833.6 953.9 L834.7 950.6 L835.9 952.7 L837 955.2 L838.2 955 L839.3 962.5 L840.5 951.2 L841.6 947.8 L842.8 950.3 L843.9 957.6 L845.1 952.6 L846.2 959.7 L847.4 956.9 L848.5 960.6 L849.7 954 L850.8 962.1 L852 962.1 L853.1 959.5 L854.3 970 L855.4 977.2 L856.6 971.4 L857.7 971 L858.9 974.7 L860 978.7 L861.2 984.4 L862.3 986.6 L863.5 979.3 L864.6 979.5 L865.8 975.3 L866.9 977.4 L868.1 979.7 L869.2 971.2 L870.4 978.3 L871.5 977.9 L872.7 978 L873.8 971.6 L875 967.6 L876.1 970.6 L877.3 967.2 L878.4 964 L879.6 966 L880.7 963.1 L881.9 972.2 L883 968.1 L884.2 968.3 L885.3 961.8 L886.5 969.1 L887.6 963.2 L888.8 966.1 L889.9 959 L891.1 962.3 L892.2 953.5 L893.4 956.3 L894.5 955.2 L895.7 951.4 L896.8 955.8 L898 954.4 L899.1 955.8 L900.3 960.4 L901.4 963.1 L902.6 959.6 L903.7 964.8 L904.9 964.5 L906 964 L907.2 966.4 L908.3 956.5 L909.5 964.5 L910.6 960.9 L911.8 957.6 L912.9 957.6 L914.1 960.7 L915.2 961 L916.4 959.5 L917.5 954.1 L918.7 953.6 L919.8 958.4 L921 960.5 L922.1 956.8 L923.3 961.9 L924.4 961.3 L925.6 966 L926.7 972.4" fill="none" stroke="#000" stroke-width="2.2" stroke-linejoin="round" stroke-linecap="butt"/>
<rect x="935.1" y="943.4" width="7.1" height="39.7" fill="#000"/>
<text transform="translate(945.3 932) rotate(90) scale(1 1.04)">2 SD</text>
<rect x="869" y="1010.2" width="52.5" height="7.6" fill="#000"/>
<text transform="translate(897 1046.5) scale(1 1.04)" text-anchor="middle">2 s</text>
<path d="M179.8 1073.2 L180 1073.7 L180.2 1073.7 L180.4 1073.6 L180.6 1073.6 L180.8 1073.6 L181 1073.6 L181.2 1073.5 L181.4 1073.5 L181.6 1073.5 L181.8 1073.5 L182 1073.4 L182.2 1073.4 L182.5 1073.4 L182.7 1073.3 L182.9 1073.3 L183.1 1073.3 L183.3 1073.2 L183.5 1073.2 L183.7 1072.2 L183.9 1072.1 L184.1 1072.1 L184.3 1072 L184.5 1072 L184.7 1071.9 L184.9 1071.9 L185.1 1071.9 L185.3 1071.8 L185.5 1071.8 L185.7 1071.7 L185.9 1071.7 L186.1 1071.6 L186.3 1071.6 L186.5 1071.5 L186.7 1071.4 L186.9 1071.4 L187.1 1071.3 L187.3 1071.3 L187.6 1072.2 L187.8 1072.2 L188 1072.1 L188.2 1072 L188.4 1072 L188.6 1071.9 L188.8 1071.8 L189 1071.8 L189.2 1071.7 L189.4 1071.6 L189.6 1071.6 L189.8 1071.5 L190 1071.4 L190.2 1071.4 L190.4 1071.3 L190.6 1071.2 L190.8 1071.1 L191 1071.1 L191.2 1070 L191.4 1069.9 L191.6 1069.8 L191.8 1069.7 L192 1069.7 L192.2 1069.6 L192.4 1069.5 L192.7 1069.4 L192.9 1069.3 L193.1 1069.2 L193.3 1069.1 L193.5 1069.1 L193.7 1069 L193.9 1068.9 L194.1 1068.8 L194.3 1068.7 L194.5 1068.6 L194.7 1068.5 L194.9 1068.4 L195.1 1069.3 L195.3 1069.2 L195.5 1069.1 L195.7 1069 L195.9 1068.9 L196.1 1068.8 L196.3 1068.7 L196.5 1068.6 L196.7 1068.5 L196.9 1068.4 L197.1 1068.3 L197.3 1068.2 L197.5 1068.1 L197.8 1068 L198 1067.9 L198.2 1067.7 L198.4 1067.6 L198.6 1067.5 L198.8 1066.4 L199 1066.3 L199.2 1066.2 L199.4 1066.1 L199.6 1066 L199.8 1065.8 L200 1065.7 L200.2 1065.6 L200.4 1065.5 L200.6 1065.4 L200.8 1065.2 L201 1065.1 L201.2 1065 L201.4 1064.9 L201.6 1064.8 L201.8 1064.6 L202 1064.5 L202.2 1064.4 L202.4 1064.3 L202.6 1065.1 L202.9 1065 L203.1 1064.9 L203.3 1064.8 L203.5 1064.6 L203.7 1064.5 L203.9 1064.4 L204.1 1064.2 L204.3 1064.1 L204.5 1064 L204.7 1063.9 L204.9 1063.7 L205.1 1063.6 L205.3 1063.5 L205.5 1063.3 L205.7 1063.2 L205.9 1063.1 L206.1 1062.9 L206.3 1061.8 L206.5 1061.7 L206.7 1061.5 L206.9 1061.4 L207.1 1061.3 L207.3 1061.1 L207.5 1061 L207.7 1060.9 L208 1060.7 L208.2 1060.6 L208.4 1060.5 L208.6 1060.3 L208.8 1060.2 L209 1060.1 L209.2 1059.9 L209.4 1059.8 L209.6 1059.7 L209.8 1059.5 L210 1059.4 L210.2 1060.3 L210.4 1060.2 L210.6 1060 L210.8 1059.9 L211 1059.8 L211.2 1059.6 L211.4 1059.5 L211.6 1059.4 L211.8 1059.3 L212 1059.1 L212.2 1059 L212.4 1058.9 L212.6 1058.7 L212.8 1058.6 L213.1 1058.5 L213.3 1058.4 L213.5 1058.3 L213.7 1058.1 L213.9 1057 L214.1 1056.9 L214.3 1056.8 L214.5 1056.7 L214.7 1056.6 L214.9 1056.4 L215.1 1056.3 L215.3 1056.2 L215.5 1056.1 L215.7 1056 L215.9 1055.9 L216.1 1055.8 L216.3 1055.7 L216.5 1055.6 L216.7 1055.5 L216.9 1055.4 L217.1 1055.3 L217.3 1055.2 L217.5 1055.1 L217.7 1056 L217.9 1055.9 L218.2 1055.8 L218.4 1055.7 L218.6 1055.6 L218.8 1055.6 L219 1055.5 L219.2 1055.4 L219.4 1055.3 L219.6 1055.2 L219.8 1055.2 L220 1055.1 L220.2 1055 L220.4 1055 L220.6 1054.9 L220.8 1054.8 L221 1054.8 L221.2 1054.7 L221.4 1053.7 L221.6 1053.6 L221.8 1053.6 L222 1053.5 L222.2 1053.5 L222.4 1053.4 L222.6 1053.4 L222.8 1053.4 L223 1053.3 L223.3 1053.3 L223.5 1053.3 L223.7 1053.3 L223.9 1053.2 L224.1 1053.2 L224.3 1053.2 L224.5 1053.2 L224.7 1053.2 L224.9 1053.2 L225.1 1053.2 L225.3 1054.2 L225.5 1054.2 L225.7 1054.2 L225.9 1054.2 L226.1 1054.3 L226.3 1054.3 L226.5 1054.3 L226.7 1054.3 L226.9 1054.4 L227.1 1054.4 L227.3 1054.5 L227.5 1054.5 L227.7 1054.5 L227.9 1054.6 L228.1 1054.7 L228.4 1054.7 L228.6 1054.8 L228.8 1054.9 L229 1053.9 L229.2 1054 L229.4 1054.1 L229.6 1054.2 L229.8 1054.3 L230 1054.4 L230.2 1054.5 L230.4 1054.6 L230.6 1054.7 L230.8 1055.3 L231 1055.4 L231.2 1055.5 L231.4 1055.6 L231.6 1055.8 L231.8 1055.9 L232 1056 L232.2 1056.2 L232.4 1056.3 L232.6 1056.5 L232.8 1056.6 L233 1056.8 L233.2 1057 L233.5 1057.1 L233.7 1057.3 L233.9 1057.5 L234.1 1057.7 L234.3 1057.9 L234.5 1058.1 L234.7 1058.3 L234.9 1058.5 L235.1 1058.7 L235.3 1058.9 L235.5 1059.1 L235.7 1059.3 L235.9 1059.5 L236.1 1059.8 L236.3 1060 L236.5 1060.2 L236.7 1060.5 L236.9 1060.7 L237.1 1061 L237.3 1061.2 L237.5 1061.5 L237.7 1061.7 L237.9 1062 L238.1 1062.3 L238.3 1062.6 L238.6 1062.8 L238.8 1063.1 L239 1063.4 L239.2 1063.7 L239.4 1064 L239.6 1064.3 L239.8 1064.6 L240 1064.9 L240.2 1065.2 L240.4 1065.5 L240.6 1065.8 L240.8 1066.1 L241 1066.5 L241.2 1066.8 L241.4 1067.1 L241.6 1067.5 L241.8 1067.8 L242 1068.1 L242.2 1068.5 L242.4 1068.8 L242.6 1069.1 L242.8 1069.5 L243 1069.8 L243.2 1070.2 L243.4 1070.5 L243.7 1070.9 L243.9 1071.3 L244.1 1071.6 L244.3 1072 L244.5 1072.3 L244.7 1072.7 L244.9 1073.1 L245.1 1073.4 L245.3 1073.8 L245.5 1074.2 L245.7 1074.5 L245.9 1074.9 L246.1 1075.3 L246.3 1075.6 L246.5 1076 L246.7 1076.4 L246.9 1076.7 L247.1 1077.1 L247.3 1077.5 L247.5 1077.9 L247.7 1078.2 L247.9 1078.6 L248.1 1079 L248.3 1079.3 L248.5 1079.7 L248.8 1080 L249 1080.4 L249.2 1080.8 L249.4 1081.1 L249.6 1081.5 L249.8 1081.8 L250 1082.2 L250.2 1082.5 L250.4 1082.9 L250.6 1083.2 L250.8 1083.5 L251 1083.9 L251.2 1084.2 L251.4 1084.5 L251.6 1084.9 L251.8 1085.2 L252 1085.5 L252.2 1085.8 L252.4 1086.1 L252.6 1086.4 L252.8 1086.7 L253 1087 L253.2 1087.3 L253.4 1087.6 L253.6 1087.8 L253.9 1088.1 L254.1 1088.4 L254.3 1088.6 L254.5 1088.9 L254.7 1089.1 L254.9 1089.4 L255.1 1089.6 L255.3 1089.8 L255.5 1090 L255.7 1090.2 L255.9 1090.4 L256.1 1090.6 L256.3 1090.8 L256.5 1091 L256.7 1091.2 L256.9 1091.3 L257.1 1091.5 L257.3 1091.6 L257.5 1091.8 L257.7 1091.9 L257.9 1092 L258.1 1092.1 L258.3 1092.2 L258.5 1092.3 L258.7 1092.4 L259 1092.5 L259.2 1092.5 L259.4 1092.6 L259.6 1092.6 L259.8 1092.7 L260 1092.7 L260.2 1092.7 L260.4 1092.7 L260.6 1092.7 L260.8 1092.7 L261 1092.6 L261.2 1092.6 L261.4 1092.6 L261.6 1092.5 L261.8 1092.4 L262 1092.3 L262.2 1092.3 L262.4 1092.2 L262.6 1092 L262.8 1091.9 L263 1091.8 L263.2 1091.6 L263.4 1091.5 L263.6 1091.3 L263.8 1091.1 L264.1 1090.9 L264.3 1090.7 L264.5 1090.5 L264.7 1090.3 L264.9 1090.1 L265.1 1089.8 L265.3 1089.6 L265.5 1089.3 L265.7 1089.1 L265.9 1088.8 L266.1 1088.5 L266.3 1088.2 L266.5 1087.9 L266.7 1087.6 L266.9 1087.2 L267.1 1086.9 L267.3 1086.5 L267.5 1086.2 L267.7 1085.8 L267.9 1085.4 L268.1 1085.1 L268.3 1084.7 L268.5 1084.3 L268.7 1083.9 L268.9 1083.4 L269.2 1083 L269.4 1082.6 L269.6 1082.1 L269.8 1081.7 L270 1081.3 L270.2 1080.8 L270.4 1080.3 L270.6 1079.9 L270.8 1079.4 L271 1078.9 L271.2 1078.4 L271.4 1077.9 L271.6 1077.4 L271.8 1076.9 L272 1076.4 L272.2 1075.9 L272.4 1075.4 L272.6 1074.9 L272.8 1074.4 L273 1073.9 L273.2 1073.4 L273.4 1072.9 L273.6 1072.4 L273.8 1071.8 L274 1071.3 L274.3 1070.8 L274.5 1070.3 L274.7 1069.8 L274.9 1069.3 L275.1 1068.7 L275.3 1068.2 L275.5 1067.7 L275.7 1067.2 L275.9 1066.7 L276.1 1066.2 L276.3 1065.7 L276.5 1065.2 L276.7 1064.7 L276.9 1064.3 L277.1 1063.8 L277.3 1063.3 L277.5 1062.9 L277.7 1062.4 L277.9 1062 L278.1 1061.5 L278.3 1061.1 L278.5 1060.7 L278.7 1060.3 L278.9 1059.9 L279.1 1059.5 L279.4 1059.1 L279.6 1058.7 L279.8 1058.4 L280 1058 L280.2 1057.7 L280.4 1057.3 L280.6 1057 L280.8 1056.7 L281 1056.4 L281.2 1056.1 L281.4 1055.9 L281.6 1055.6 L281.8 1055.4 L282 1055.2 L282.2 1055 L282.4 1054.8 L282.6 1054.6 L282.8 1054.4 L283 1054.3 L283.2 1054.2 L283.4 1054 L283.6 1053.9 L283.8 1053.9 L284 1053.8 L284.2 1053.7 L284.5 1053.7 L284.7 1053.7 L284.9 1053.7 L285.1 1053.7 L285.3 1053.8 L285.5 1053.8 L285.7 1053.9 L285.9 1054 L286.1 1054.1 L286.3 1054.2 L286.5 1054.3 L286.7 1054.5 L286.9 1054.7 L287.1 1054.9 L287.3 1055.1 L287.5 1055.3 L287.7 1055.5 L287.9 1055.8 L288.1 1056.1 L288.3 1056.4 L288.5 1056.7 L288.7 1057 L288.9 1057.3 L289.1 1057.7 L289.3 1058.1 L289.6 1058.5 L289.8 1058.9 L290 1059.3 L290.2 1059.7 L290.4 1060.2 L290.6 1060.6 L290.8 1061.1 L291 1061.6 L291.2 1062.1 L291.4 1062.6 L291.6 1063.1 L291.8 1063.6 L292 1064.2 L292.2 1064.7 L292.4 1065.3 L292.6 1065.8 L292.8 1066.4 L293 1067 L293.2 1067.6 L293.4 1068.2 L293.6 1068.8 L293.8 1069.4 L294 1070 L294.2 1070.7 L294.4 1071.3 L294.7 1071.9 L294.9 1072.5 L295.1 1073.2 L295.3 1073.8 L295.5 1074.4 L295.7 1075.1 L295.9 1075.7 L296.1 1076.3 L296.3 1077 L296.5 1077.6 L296.7 1078.2 L296.9 1078.8 L297.1 1079.4 L297.3 1080 L297.5 1080.6 L297.7 1081.2 L297.9 1081.8 L298.1 1082.4 L298.3 1083 L298.5 1083.5 L298.7 1084.1 L298.9 1084.6 L299.1 1085.1 L299.3 1085.6 L299.5 1086.1 L299.8 1086.6 L300 1087.1 L300.2 1087.5 L300.4 1088 L300.6 1088.4 L300.8 1088.8 L301 1089.2 L301.2 1089.6 L301.4 1089.9 L301.6 1090.2 L301.8 1090.6 L302 1090.9 L302.2 1091.1 L302.4 1091.4 L302.6 1091.6 L302.8 1091.8 L303 1092 L303.2 1092.2 L303.4 1092.3 L303.6 1092.4 L303.8 1092.5 L304 1092.6 L304.2 1092.7 L304.4 1092.7 L304.6 1092.7 L304.9 1092.7 L305.1 1092.6 L305.3 1092.6 L305.5 1092.5 L305.7 1092.4 L305.9 1092.2 L306.1 1092 L306.3 1091.9 L306.5 1091.6 L306.7 1091.4 L306.9 1091.2 L307.1 1090.9 L307.3 1090.6 L307.5 1090.2 L307.7 1089.9 L307.9 1089.5 L308.1 1089.1 L308.3 1088.7 L308.5 1088.3 L308.7 1087.8 L308.9 1087.3 L309.1 1086.8 L309.3 1086.3 L309.5 1085.8 L309.7 1085.2 L310 1084.7 L310.2 1084.1 L310.4 1083.5 L310.6 1082.9 L310.8 1082.2 L311 1081.6 L311.2 1081 L311.4 1080.3 L311.6 1079.6 L311.8 1078.9 L312 1078.2 L312.2 1077.5 L312.4 1076.8 L312.6 1076.1 L312.8 1075.4 L313 1074.7 L313.2 1073.9 L313.4 1073.2 L313.6 1072.5 L313.8 1071.8 L314 1071 L314.2 1070.3 L314.4 1069.6 L314.6 1068.9 L314.8 1068.1 L315.1 1067.4 L315.3 1066.7 L315.5 1066 L315.7 1065.3 L315.9 1064.7 L316.1 1064 L316.3 1063.4 L316.5 1062.7 L316.7 1062.1 L316.9 1061.5 L317.1 1060.9 L317.3 1060.3 L317.5 1059.8 L317.7 1059.2 L317.9 1058.7 L318.1 1058.2 L318.3 1057.8 L318.5 1057.3 L318.7 1056.9 L318.9 1056.5 L319.1 1056.1 L319.3 1055.7 L319.5 1055.4 L319.7 1055.1 L319.9 1054.9 L320.2 1054.6 L320.4 1054.4 L320.6 1054.2 L320.8 1054 L321 1053.9 L321.2 1053.8 L321.4 1053.7 L321.6 1053.7 L321.8 1053.7 L322 1053.7 L322.2 1053.8 L322.4 1053.9 L322.6 1054 L322.8 1054.1 L323 1054.3 L323.2 1054.5 L323.4 1054.7 L323.6 1055 L323.8 1055.3 L324 1055.6 L324.2 1056 L324.4 1056.4 L324.6 1056.8 L324.8 1057.2 L325 1057.7 L325.3 1058.2 L325.5 1058.7 L325.7 1059.3 L325.9 1059.8 L326.1 1060.4 L326.3 1061 L326.5 1061.7 L326.7 1062.3 L326.9 1063 L327.1 1063.7 L327.3 1064.4 L327.5 1065.1 L327.7 1065.9 L327.9 1066.6 L328.1 1067.4 L328.3 1068.2 L328.5 1068.9 L328.7 1069.7 L328.9 1070.5 L329.1 1071.3 L329.3 1072.2 L329.5 1073 L329.7 1073.8 L329.9 1074.6 L330.1 1075.4 L330.4 1076.2 L330.6 1077 L330.8 1077.8 L331 1078.6 L331.2 1079.4 L331.4 1080.2 L331.6 1081 L331.8 1081.7 L332 1082.4 L332.2 1083.2 L332.4 1083.9 L332.6 1084.6 L332.8 1085.2 L333 1085.9 L333.2 1086.5 L333.4 1087.1 L333.6 1087.7 L333.8 1088.2 L334 1088.7 L334.2 1089.2 L334.4 1089.7 L334.6 1090.1 L334.8 1090.5 L335 1090.9 L335.2 1091.2 L335.5 1091.5 L335.7 1091.8 L335.9 1092 L336.1 1092.2 L336.3 1092.4 L336.5 1092.5 L336.7 1092.6 L336.9 1092.7 L337.1 1092.7 L337.3 1092.7 L337.5 1092.6 L337.7 1092.5 L337.9 1092.4 L338.1 1092.2 L338.3 1092 L338.5 1091.8 L338.7 1091.5 L338.9 1091.2 L339.1 1090.8 L339.3 1090.4 L339.5 1090 L339.7 1089.5 L339.9 1089 L340.1 1088.5 L340.3 1088 L340.6 1087.4 L340.8 1086.8 L341 1086.1 L341.2 1085.4 L341.4 1084.7 L341.6 1084 L341.8 1083.3 L342 1082.5 L342.2 1081.7 L342.4 1080.9 L342.6 1080.1 L342.8 1079.3 L343 1078.4 L343.2 1077.6 L343.4 1076.7 L343.6 1075.8 L343.8 1074.9 L344 1074 L344.2 1073.1 L344.4 1072.3 L344.6 1071.4 L344.8 1070.5 L345 1069.6 L345.2 1068.7 L345.4 1067.8 L345.7 1067 L345.9 1066.1 L346.1 1065.3 L346.3 1064.5 L346.5 1063.7 L346.7 1062.9 L346.9 1062.1 L347.1 1061.4 L347.3 1060.7 L347.5 1060 L347.7 1059.3 L347.9 1058.7 L348.1 1058.1 L348.3 1057.6 L348.5 1057 L348.7 1056.5 L348.9 1056.1 L349.1 1055.7 L349.3 1055.3 L349.5 1054.9 L349.7 1054.6 L349.9 1054.4 L350.1 1054.2 L350.3 1054 L350.5 1053.8 L350.8 1053.8 L351 1053.7 L351.2 1053.7 L351.4 1053.7 L351.6 1053.8 L351.8 1054 L352 1054.1 L352.2 1054.4 L352.4 1054.6 L352.6 1054.9 L352.8 1055.3 L353 1055.7 L353.2 1056.1 L353.4 1056.6 L353.6 1057.1 L353.8 1057.6 L354 1058.2 L354.2 1058.9 L354.4 1059.5 L354.6 1060.2 L354.8 1060.9 L355 1061.7 L355.2 1062.5 L355.4 1063.3 L355.6 1064.1 L355.9 1065 L356.1 1065.8 L356.3 1066.7 L356.5 1067.7 L356.7 1068.6 L356.9 1069.5 L357.1 1070.5 L357.3 1071.4 L357.5 1072.4 L357.7 1073.3 L357.9 1074.3 L358.1 1075.3 L358.3 1076.2 L358.5 1077.2 L358.7 1078.1 L358.9 1079.1 L359.1 1080 L359.3 1080.9 L359.5 1081.8 L359.7 1082.6 L359.9 1083.5 L360.1 1084.3 L360.3 1085.1 L360.5 1085.9 L360.7 1086.6 L361 1087.3 L361.2 1087.9 L361.4 1088.6 L361.6 1089.2 L361.8 1089.7 L362 1090.2 L362.2 1090.7 L362.4 1091.1 L362.6 1091.5 L362.8 1091.8 L363 1092.1 L363.2 1092.3 L363.4 1092.5 L363.6 1092.6 L363.8 1092.7 L364 1092.7 L364.2 1092.7 L364.4 1092.6 L364.6 1092.5 L364.8 1092.3 L365 1092.1 L365.2 1091.8 L365.4 1091.5 L365.6 1091.1 L365.8 1090.7 L366.1 1090.2 L366.3 1089.7 L366.5 1089.1 L366.7 1088.5 L366.9 1087.8 L367.1 1087.2 L367.3 1086.4 L367.5 1085.7 L367.7 1084.9 L367.9 1084 L368.1 1083.2 L368.3 1082.3 L368.5 1081.4 L368.7 1080.4 L368.9 1079.5 L369.1 1078.5 L369.3 1077.5 L369.5 1076.5 L369.7 1075.5 L369.9 1074.4 L370.1 1073.4 L370.3 1072.4 L370.5 1071.3 L370.7 1070.3 L370.9 1069.3 L371.2 1068.3 L371.4 1067.3 L371.6 1066.3 L371.8 1065.3 L372 1064.4 L372.2 1063.5 L372.4 1062.6 L372.6 1061.7 L372.8 1060.9 L373 1060.1 L373.2 1059.4 L373.4 1058.6 L373.6 1058 L373.8 1057.3 L374 1056.7 L374.2 1056.2 L374.4 1055.7 L374.6 1055.3 L374.8 1054.9 L375 1054.5 L375.2 1054.3 L375.4 1054 L375.6 1053.9 L375.8 1053.8 L376 1053.7 L376.3 1053.7 L376.5 1053.8 L376.7 1053.9 L376.9 1054.1 L377.1 1054.3 L377.3 1054.6 L377.5 1054.9 L377.7 1055.4 L377.9 1055.8 L378.1 1056.3 L378.3 1056.9 L378.5 1057.5 L378.7 1058.2 L378.9 1058.9 L379.1 1059.6 L379.3 1060.4 L379.5 1061.3 L379.7 1062.1 L379.9 1063 L380.1 1064 L380.3 1065 L380.5 1066 L380.7 1067 L380.9 1068 L381.1 1069.1 L381.4 1070.1 L381.6 1071.2 L381.8 1072.3 L382 1073.4 L382.2 1074.5 L382.4 1075.6 L382.6 1076.7 L382.8 1077.8 L383 1078.8 L383.2 1079.9 L383.4 1080.9 L383.6 1081.9 L383.8 1082.9 L384 1083.8 L384.2 1084.7 L384.4 1085.6 L384.6 1086.4 L384.8 1087.2 L385 1088 L385.2 1088.7 L385.4 1089.3 L385.6 1089.9 L385.8 1090.5 L386 1091 L386.2 1091.4 L386.5 1091.8 L386.7 1092.1 L386.9 1092.3 L387.1 1092.5 L387.3 1092.6 L387.5 1092.7 L387.7 1092.7 L387.9 1092.6 L388.1 1092.5 L388.3 1092.3 L388.5 1092 L388.7 1091.7 L388.9 1091.3 L389.1 1090.9 L389.3 1090.3 L389.5 1089.8 L389.7 1089.1 L389.9 1088.5 L390.1 1087.7 L390.3 1086.9 L390.5 1086.1 L390.7 1085.2 L390.9 1084.3 L391.1 1083.4 L391.3 1082.4 L391.6 1081.3 L391.8 1080.3 L392 1079.2 L392.2 1078.1 L392.4 1077 L392.6 1075.8 L392.8 1074.7 L393 1073.5 L393.2 1072.4 L393.4 1071.2 L393.6 1070.1 L393.8 1069 L394 1067.8 L394.2 1066.7 L394.4 1065.7 L394.6 1064.6 L394.8 1063.6 L395 1062.6 L395.2 1061.6 L395.4 1060.7 L395.6 1059.8 L395.8 1059 L396 1058.2 L396.2 1057.5 L396.4 1056.8 L396.7 1056.2 L396.9 1055.7 L397.1 1055.2 L397.3 1054.8 L397.5 1054.4 L397.7 1054.1 L397.9 1053.9 L398.1 1053.8 L398.3 1053.7 L398.5 1053.7 L398.7 1053.8 L398.9 1053.9 L399.1 1054.1 L399.3 1054.4 L399.5 1054.8 L399.7 1055.2 L399.9 1055.7 L400.1 1056.2 L400.3 1056.9 L400.5 1057.5 L400.7 1058.3 L400.9 1059.1 L401.1 1059.9 L401.3 1060.8 L401.5 1061.8 L401.8 1062.8 L402 1063.8 L402.2 1064.9 L402.4 1066 L402.6 1067.1 L402.8 1068.3 L403 1069.4 L403.2 1070.6 L403.4 1071.8 L403.6 1073 L403.8 1074.2 L404 1075.5 L404.2 1076.7 L404.4 1077.8 L404.6 1079 L404.8 1080.2 L405 1081.3 L405.2 1082.4 L405.4 1083.4 L405.6 1084.4 L405.8 1085.4 L406 1086.4 L406.2 1087.2 L406.4 1088.1 L406.6 1088.8 L406.9 1089.5 L407.1 1090.2 L407.3 1090.7 L407.5 1091.2 L407.7 1091.7 L407.9 1092 L408.1 1092.3 L408.3 1092.5 L408.5 1092.6 L408.7 1092.7 L408.9 1092.7 L409.1 1092.6 L409.3 1092.4 L409.5 1092.1 L409.7 1091.8 L409.9 1091.4 L410.1 1090.9 L410.3 1090.3 L410.5 1089.7 L410.7 1089 L410.9 1088.2 L411.1 1087.4 L411.3 1086.5 L411.5 1085.6 L411.7 1084.6 L412 1083.5 L412.2 1082.5 L412.4 1081.3 L412.6 1080.2 L412.8 1079 L413 1077.8 L413.2 1076.5 L413.4 1075.3 L413.6 1074 L413.8 1072.8 L414 1071.5 L414.2 1070.3 L414.4 1069 L414.6 1067.8 L414.8 1066.6 L415 1065.4 L415.2 1064.2 L415.4 1063.1 L415.6 1062.1 L415.8 1061 L416 1060.1 L416.2 1059.2 L416.4 1058.3 L416.6 1057.5 L416.8 1056.8 L417.1 1056.1 L417.3 1055.5 L417.5 1055 L417.7 1054.6 L417.9 1054.3 L418.1 1054 L418.3 1053.8 L418.5 1053.7 L418.7 1053.7 L418.9 1053.8 L419.1 1053.9 L419.3 1054.2 L419.5 1054.5 L419.7 1054.9 L419.9 1055.4 L420.1 1056 L420.3 1056.6 L420.5 1057.3 L420.7 1058.1 L420.9 1059 L421.1 1059.9 L421.3 1060.9 L421.5 1061.9 L421.7 1063 L421.9 1064.2 L422.2 1065.3 L422.4 1066.6 L422.6 1067.8 L422.8 1069.1 L423 1070.4 L423.2 1071.7 L423.4 1073 L423.6 1074.3 L423.8 1075.6 L424 1076.9 L424.2 1078.2 L424.4 1079.5 L424.6 1080.7 L424.8 1081.9 L425 1083.1 L425.2 1084.2 L425.4 1085.3 L425.6 1086.3 L425.8 1087.2 L426 1088.1 L426.2 1088.9 L426.4 1089.7 L426.6 1090.4 L426.8 1090.9 L427 1091.5 L427.3 1091.9 L427.5 1092.2 L427.7 1092.5 L427.9 1092.6 L428.1 1092.7 L428.3 1092.7 L428.5 1092.6 L428.7 1092.3 L428.9 1092 L429.1 1091.7 L429.3 1091.2 L429.5 1090.6 L429.7 1090 L429.9 1089.2 L430.1 1088.4 L430.3 1087.6 L430.5 1086.6 L430.7 1085.6 L430.9 1084.5 L431.1 1083.4 L431.3 1082.2 L431.5 1081 L431.7 1079.7 L431.9 1078.4 L432.1 1077.1 L432.4 1075.7 L432.6 1074.4 L432.8 1073 L433 1071.7 L433.2 1070.3 L433.4 1069 L433.6 1067.6 L433.8 1066.3 L434 1065.1 L434.2 1063.8 L434.4 1062.7 L434.6 1061.5 L434.8 1060.5 L435 1059.5 L435.2 1058.5 L435.4 1057.6 L435.6 1056.8 L435.8 1056.1 L436 1055.5 L436.2 1055 L436.4 1054.5 L436.6 1054.2 L436.8 1053.9 L437 1053.8 L437.2 1053.7 L437.5 1053.7 L437.7 1053.9 L437.9 1054.1 L438.1 1054.4 L438.3 1054.9 L438.5 1055.4 L438.7 1056 L438.9 1056.7 L439.1 1057.5 L439.3 1058.4 L439.5 1059.3 L439.7 1060.3 L439.9 1061.4 L440.1 1062.6 L440.3 1063.8 L440.5 1065 L440.7 1066.3 L440.9 1067.7 L441.1 1069 L441.3 1070.4 L441.5 1071.8 L441.7 1073.2 L441.9 1074.6 L442.1 1076.1 L442.3 1077.4 L442.6 1078.8 L442.8 1080.2 L443 1081.5 L443.2 1082.7 L443.4 1083.9 L443.6 1085.1 L443.8 1086.2 L444 1087.2 L444.2 1088.2 L444.4 1089 L444.6 1089.8 L444.8 1090.5 L445 1091.1 L445.2 1091.7 L445.4 1092.1 L445.6 1092.4 L445.8 1092.6 L446 1092.7 L446.2 1092.7 L446.4 1092.6 L446.6 1092.4 L446.8 1092 L447 1091.6 L447.2 1091.1 L447.4 1090.5 L447.7 1089.8 L447.9 1089 L448.1 1088.1 L448.3 1087.1 L448.5 1086 L448.7 1084.9 L448.9 1083.7 L449.1 1082.5 L449.3 1081.2 L449.5 1079.8 L449.7 1078.4 L449.9 1077 L450.1 1075.6 L450.3 1074.1 L450.5 1072.7 L450.7 1071.2 L450.9 1069.8 L451.1 1068.3 L451.3 1066.9 L451.5 1065.6 L451.7 1064.2 L451.9 1063 L452.1 1061.7 L452.3 1060.6 L452.5 1059.5 L452.8 1058.5 L453 1057.6 L453.2 1056.7 L453.4 1056 L453.6 1055.3 L453.8 1054.8 L454 1054.4 L454.2 1054 L454.4 1053.8 L454.6 1053.7 L454.8 1053.7 L455 1053.8 L455.2 1054.1 L455.4 1054.4 L455.6 1054.9 L455.8 1055.4 L456 1056.1 L456.2 1056.8 L456.4 1057.7 L456.6 1058.6 L456.8 1059.7 L457 1060.8 L457.2 1062 L457.4 1063.2 L457.6 1064.5 L457.9 1065.9 L458.1 1067.3 L458.3 1068.8 L458.5 1070.2 L458.7 1071.7 L458.9 1073.2 L459.1 1074.7 L459.3 1076.2 L459.5 1077.7 L459.7 1079.2 L459.9 1080.6 L460.1 1082 L460.3 1083.3 L460.5 1084.5 L460.7 1085.7 L460.9 1086.9 L461.1 1087.9 L461.3 1088.8 L461.5 1089.7 L461.7 1090.5 L461.9 1091.1 L462.1 1091.7 L462.3 1092.1 L462.5 1092.4 L462.7 1092.6 L463 1092.7 L463.2 1092.7 L463.4 1092.5 L463.6 1092.2 L463.8 1091.8 L464 1091.3 L464.2 1090.7 L464.4 1090 L464.6 1089.2 L464.8 1088.2 L465 1087.2 L465.2 1086.1 L465.4 1084.9 L465.6 1083.6 L465.8 1082.3 L466 1080.9 L466.2 1079.5 L466.4 1078 L466.6 1076.5 L466.8 1074.9 L467 1073.4 L467.2 1071.8 L467.4 1070.3 L467.6 1068.8 L467.8 1067.3 L468.1 1065.8 L468.3 1064.4 L468.5 1063.1 L468.7 1061.8 L468.9 1060.5 L469.1 1059.4 L469.3 1058.3 L469.5 1057.4 L469.7 1056.5 L469.9 1055.8 L470.1 1055.1 L470.3 1054.6 L470.5 1054.2 L470.7 1053.9 L470.9 1053.7 L471.1 1053.7 L471.3 1053.8 L471.5 1054 L471.7 1054.4 L471.9 1054.8 L472.1 1055.4 L472.3 1056.1 L472.5 1056.9 L472.7 1057.8 L472.9 1058.9 L473.2 1060 L473.4 1061.2 L473.6 1062.5 L473.8 1063.8 L474 1065.2 L474.2 1066.7 L474.4 1068.2 L474.6 1069.8 L474.8 1071.4 L475 1072.9 L475.2 1074.5 L475.4 1076.1 L475.6 1077.7 L475.8 1079.2 L476 1080.7 L476.2 1082.1 L476.4 1083.5 L476.6 1084.9 L476.8 1086.1 L477 1087.3 L477.2 1088.3 L477.4 1089.3 L477.6 1090.1 L477.8 1090.9 L478 1091.5 L478.3 1092 L478.5 1092.3 L478.7 1092.6 L478.9 1092.7 L479.1 1092.7 L479.3 1092.5 L479.5 1092.2 L479.7 1091.8 L479.9 1091.2 L480.1 1090.6 L480.3 1089.8 L480.5 1088.9 L480.7 1087.9 L480.9 1086.7 L481.1 1085.5 L481.3 1084.2 L481.5 1082.8 L481.7 1081.4 L481.9 1079.9 L482.1 1078.3 L482.3 1076.8 L482.5 1075.1 L482.7 1073.5 L482.9 1071.9 L483.1 1070.3 L483.4 1068.7 L483.6 1067.1 L483.8 1065.6 L484 1064.1 L484.2 1062.7 L484.4 1061.3 L484.6 1060.1 L484.8 1058.9 L485 1057.8 L485.2 1056.9 L485.4 1056 L485.6 1055.3 L485.8 1054.7 L486 1054.3 L486.2 1053.9 L486.4 1053.8 L486.6 1053.7 L486.8 1053.8 L487 1054 L487.2 1054.4 L487.4 1054.9 L487.6 1055.5 L487.8 1056.3 L488 1057.2 L488.2 1058.2 L488.5 1059.3 L488.7 1060.5 L488.9 1061.8 L489.1 1063.2 L489.3 1064.7 L489.5 1066.2 L489.7 1067.8 L489.9 1069.4 L490.1 1071.1 L490.3 1072.7 L490.5 1074.4 L490.7 1076.1 L490.9 1077.7 L491.1 1079.3 L491.3 1080.9 L491.5 1082.4 L491.7 1083.8 L491.9 1085.2 L492.1 1086.5 L492.3 1087.7 L492.5 1088.7 L492.7 1089.7 L492.9 1090.5 L493.1 1091.2 L493.3 1091.8 L493.6 1092.2 L493.8 1092.5 L494 1092.7 L494.2 1092.7 L494.4 1092.5 L494.6 1092.2 L494.8 1091.8 L495 1091.2 L495.2 1090.5 L495.4 1089.7 L495.6 1088.7 L495.8 1087.6 L496 1086.4 L496.2 1085.1 L496.4 1083.7 L496.6 1082.2 L496.8 1080.7 L497 1079.1 L497.2 1077.4 L497.4 1075.8 L497.6 1074.1 L497.8 1072.3 L498 1070.6 L498.2 1069 L498.4 1067.3 L498.7 1065.7 L498.9 1064.1 L499.1 1062.7 L499.3 1061.3 L499.5 1059.9 L499.7 1058.7 L499.9 1057.6 L500.1 1056.7 L500.3 1055.8 L500.5 1055.1 L500.7 1054.5 L500.9 1054.1 L501.1 1053.8 L501.3 1053.7 L501.5 1053.7 L501.7 1053.9 L501.9 1054.3 L502.1 1054.7 L502.3 1055.4 L502.5 1056.1 L502.7 1057.1 L502.9 1058.1 L503.1 1059.3 L503.3 1060.5 L503.5 1061.9 L503.8 1063.4 L504 1064.9 L504.2 1066.5 L504.4 1068.2 L504.6 1069.9 L504.8 1071.6 L505 1073.4 L505.2 1075.1 L505.4 1076.8 L505.6 1078.6 L505.8 1080.2 L506 1081.8 L506.2 1083.4 L506.4 1084.8 L506.6 1086.2 L506.8 1087.4 L507 1088.6 L507.2 1089.6 L507.4 1090.5 L507.6 1091.2 L507.8 1091.8 L508 1092.3 L508.2 1092.6 L508.4 1092.7 L508.6 1092.7 L508.9 1092.5 L509.1 1092.1 L509.3 1091.6 L509.5 1091 L509.7 1090.2 L509.9 1089.2 L510.1 1088.1 L510.3 1086.9 L510.5 1085.6 L510.7 1084.2 L510.9 1082.7 L511.1 1081.1 L511.3 1079.4 L511.5 1077.7 L511.7 1076 L511.9 1074.2 L512.1 1072.4 L512.3 1070.6 L512.5 1068.8 L512.7 1067.1 L512.9 1065.5 L513.1 1063.8 L513.3 1062.3 L513.5 1060.9 L513.7 1059.5 L514 1058.3 L514.2 1057.2 L514.4 1056.3 L514.6 1055.4 L514.8 1054.8 L515 1054.3 L515.2 1053.9 L515.4 1053.7 L515.6 1053.7 L515.8 1053.9 L516 1054.2 L516.2 1054.7 L516.4 1055.3 L516.6 1056.1 L516.8 1057 L517 1058.1 L517.2 1059.3 L517.4 1060.7 L517.6 1062.1 L517.8 1063.7 L518 1065.3 L518.2 1067 L518.4 1068.7 L518.6 1070.5 L518.8 1072.3 L519.1 1074.2 L519.3 1076 L519.5 1077.8 L519.7 1079.5 L519.9 1081.2 L520.1 1082.9 L520.3 1084.4 L520.5 1085.8 L520.7 1087.2 L520.9 1088.4 L521.1 1089.5 L521.3 1090.4 L521.5 1091.2 L521.7 1091.8 L521.9 1092.3 L522.1 1092.6 L522.3 1092.7 L522.5 1092.6 L522.7 1092.4 L522.9 1092 L523.1 1091.4 L523.3 1090.7 L523.5 1089.8 L523.7 1088.8 L523.9 1087.6 L524.2 1086.3 L524.4 1084.9 L524.6 1083.3 L524.8 1081.7 L525 1080 L525.2 1078.2 L525.4 1076.4 L525.6 1074.6 L525.8 1072.7 L526 1070.8 L526.2 1069 L526.4 1067.2 L526.6 1065.5 L526.8 1063.8 L527 1062.2 L527.2 1060.7 L527.4 1059.3 L527.6 1058.1 L527.8 1057 L528 1056 L528.2 1055.2 L528.4 1054.6 L528.6 1054.1 L528.8 1053.8 L529 1053.7 L529.3 1053.8 L529.5 1054 L529.7 1054.4 L529.9 1055.1 L530.1 1055.8 L530.3 1056.8 L530.5 1057.8 L530.7 1059.1 L530.9 1060.4 L531.1 1061.9 L531.3 1063.5 L531.5 1065.2 L531.7 1067 L531.9 1068.8 L532.1 1070.6 L532.3 1072.5 L532.5 1074.4 L532.7 1076.3 L532.9 1078.2 L533.1 1080 L533.3 1081.7 L533.5 1083.4 L533.7 1085 L533.9 1086.4 L534.1 1087.8 L534.4 1089 L534.6 1090 L534.8 1090.9 L535 1091.6 L535.2 1092.1 L535.4 1092.5 L535.6 1092.7 L535.8 1092.7 L536 1092.5 L536.2 1092.1 L536.4 1091.5 L536.6 1090.8 L536.8 1089.9 L537 1088.8 L537.2 1087.6 L537.4 1086.2 L537.6 1084.7 L537.8 1083.1 L538 1081.4 L538.2 1079.6 L538.4 1077.7 L538.6 1075.8 L538.8 1073.9 L539 1072 L539.2 1070.1 L539.5 1068.2 L539.7 1066.3 L539.9 1064.6 L540.1 1062.9 L540.3 1061.3 L540.5 1059.8 L540.7 1058.5 L540.9 1057.3 L541.1 1056.2 L541.3 1055.4 L541.5 1054.7 L541.7 1054.2 L541.9 1053.8 L542.1 1053.7 L542.3 1053.8 L542.5 1054 L542.7 1054.5 L542.9 1055.1 L543.1 1055.9 L543.3 1056.9 L543.5 1058.1 L543.7 1059.4 L543.9 1060.8 L544.1 1062.4 L544.3 1064.1 L544.6 1065.9 L544.8 1067.7 L545 1069.6 L545.2 1071.6 L545.4 1073.5 L545.6 1075.5 L545.8 1077.4 L546 1079.3 L546.2 1081.2 L546.4 1082.9 L546.6 1084.6 L546.8 1086.1 L547 1087.5 L547.2 1088.8 L547.4 1089.9 L547.6 1090.8 L547.8 1091.6 L548 1092.1 L548.2 1092.5 L548.4 1092.7 L548.6 1092.7 L548.8 1092.4 L549 1092 L549.2 1091.4 L549.4 1090.6 L549.7 1089.6 L549.9 1088.4 L550.1 1087.1 L550.3 1085.6 L550.5 1084 L550.7 1082.3 L550.9 1080.5 L551.1 1078.6 L551.3 1076.7 L551.5 1074.7 L551.7 1072.7 L551.9 1070.7 L552.1 1068.7 L552.3 1066.8 L552.5 1065 L552.7 1063.2 L552.9 1061.5 L553.1 1060 L553.3 1058.6 L553.5 1057.3 L553.7 1056.3 L553.9 1055.3 L554.1 1054.6 L554.3 1054.1 L554.5 1053.8 L554.8 1053.7 L555 1053.8 L555.2 1054.1 L555.4 1054.6 L555.6 1055.3 L555.8 1056.2 L556 1057.3 L556.2 1058.6 L556.4 1060 L556.6 1061.6 L556.8 1063.2 L557 1065 L557.2 1066.9 L557.4 1068.9 L557.6 1070.9 L557.8 1072.9 L558 1074.9 L558.2 1076.9 L558.4 1078.9 L558.6 1080.8 L558.8 1082.6 L559 1084.4 L559.2 1086 L559.4 1087.4 L559.6 1088.8 L559.9 1089.9 L560.1 1090.9 L560.3 1091.6 L560.5 1092.2 L560.7 1092.6 L560.9 1092.7 L561.1 1092.6 L561.3 1092.3 L561.5 1091.8 L561.7 1091.1 L561.9 1090.2 L562.1 1089.2 L562.3 1087.9 L562.5 1086.5 L562.7 1084.9 L562.9 1083.2 L563.1 1081.3 L563.3 1079.4 L563.5 1077.4 L563.7 1075.4 L563.9 1073.4 L564.1 1071.3 L564.3 1069.3 L564.5 1067.3 L564.7 1065.3 L565 1063.5 L565.2 1061.7 L565.4 1060.1 L565.6 1058.7 L565.8 1057.4 L566 1056.3 L566.2 1055.3 L566.4 1054.6 L566.6 1054.1 L566.8 1053.8 L567 1053.7 L567.2 1053.8 L567.4 1054.2 L567.6 1054.8 L567.8 1055.6 L568 1056.6 L568.2 1057.7 L568.4 1059.1 L568.6 1060.6 L568.8 1062.3 L569 1064.1 L569.2 1066 L569.4 1068 L569.6 1070 L569.8 1072.1 L570.1 1074.2 L570.3 1076.3 L570.5 1078.3 L570.7 1080.3 L570.9 1082.2 L571.1 1084 L571.3 1085.7 L571.5 1087.2 L571.7 1088.6 L571.9 1089.8 L572.1 1090.8 L572.3 1091.6 L572.5 1092.2 L572.7 1092.6 L572.9 1092.7 L573.1 1092.6 L573.3 1092.3 L573.5 1091.7 L573.7 1091 L573.9 1090 L574.1 1088.8 L574.3 1087.5 L574.5 1086 L574.7 1084.3 L574.9 1082.5 L575.2 1080.6 L575.4 1078.5 L575.6 1076.5 L575.8 1074.4 L576 1072.2 L576.2 1070.1 L576.4 1068 L576.6 1066 L576.8 1064.1 L577 1062.3 L577.2 1060.6 L577.4 1059 L577.6 1057.6 L577.8 1056.4 L578 1055.5 L578.2 1054.7 L578.4 1054.1 L578.6 1053.8 L578.8 1053.7 L579 1053.8 L579.2 1054.2 L579.4 1054.8 L579.6 1055.7 L579.8 1056.7 L580 1057.9 L580.3 1059.4 L580.5 1061 L580.7 1062.7 L580.9 1064.6 L581.1 1066.6 L581.3 1068.6 L581.5 1070.8 L581.7 1072.9 L581.9 1075.1 L582.1 1077.2 L582.3 1079.3 L582.5 1081.3 L582.7 1083.2 L582.9 1085 L583.1 1086.6 L583.3 1088.1 L583.5 1089.4 L583.7 1090.5 L583.9 1091.4 L584.1 1092.1 L584.3 1092.5 L584.5 1092.7 L584.7 1092.6 L584.9 1092.3 L585.1 1091.8 L585.4 1091 L585.6 1090.1 L585.8 1088.9 L586 1087.5 L586.2 1085.9 L586.4 1084.2 L586.6 1082.3 L586.8 1080.3 L587 1078.2 L587.2 1076.1 L587.4 1073.9 L587.6 1071.7 L587.8 1069.5 L588 1067.4 L588.2 1065.4 L588.4 1063.4 L588.6 1061.6 L588.8 1059.9 L589 1058.4 L589.2 1057 L589.4 1055.9 L589.6 1055 L589.8 1054.3 L590 1053.9 L590.2 1053.7 L590.5 1053.8 L590.7 1054.1 L590.9 1054.6 L591.1 1055.4 L591.3 1056.4 L591.5 1057.7 L591.7 1059.1 L591.9 1060.7 L592.1 1062.5 L592.3 1064.4 L592.5 1066.4 L592.7 1068.5 L592.9 1070.7 L593.1 1072.9 L593.3 1075.2 L593.5 1077.3 L593.7 1079.5 L593.9 1081.5 L594.1 1083.5 L594.3 1085.3 L594.5 1087 L594.7 1088.5 L594.9 1089.7 L595.1 1090.8 L595.3 1091.7 L595.6 1092.3 L595.8 1092.6 L596 1092.7 L596.2 1092.5 L596.4 1092.1 L596.6 1091.5 L596.8 1090.6 L597 1089.4 L597.2 1088.1 L597.4 1086.5 L597.6 1084.8 L597.8 1082.9 L598 1080.9 L598.2 1078.8 L598.4 1076.6 L598.6 1074.4 L598.8 1072.2 L599 1069.9 L599.2 1067.7 L599.4 1065.6 L599.6 1063.6 L599.8 1061.7 L600 1060 L600.2 1058.4 L600.4 1057 L600.7 1055.9 L600.9 1055 L601.1 1054.3 L601.3 1053.9 L601.5 1053.7 L601.7 1053.8 L601.9 1054.2 L602.1 1054.8 L602.3 1055.7 L602.5 1056.8 L602.7 1058.1 L602.9 1059.6 L603.1 1061.3 L603.3 1063.2 L603.5 1065.2 L603.7 1067.4 L603.9 1069.6 L604.1 1071.8 L604.3 1074.1 L604.5 1076.4 L604.7 1078.6 L604.9 1080.7 L605.1 1082.8 L605.3 1084.7 L605.5 1086.5 L605.8 1088 L606 1089.4 L606.2 1090.6 L606.4 1091.5 L606.6 1092.2 L606.8 1092.6 L607 1092.7 L607.2 1092.6 L607.4 1092.2 L607.6 1091.5 L607.8 1090.6 L608 1089.4 L608.2 1088 L608.4 1086.5 L608.6 1084.7 L608.8 1082.7 L609 1080.7 L609.2 1078.5 L609.4 1076.2 L609.6 1073.9 L609.8 1071.6 L610 1069.4 L610.2 1067.1 L610.4 1065 L610.6 1062.9 L610.9 1061.1 L611.1 1059.3 L611.3 1057.8 L611.5 1056.5 L611.7 1055.4 L611.9 1054.6 L612.1 1054 L612.3 1053.7 L612.5 1053.7 L612.7 1054 L612.9 1054.5 L613.1 1055.3 L613.3 1056.4 L613.5 1057.7 L613.7 1059.2 L613.9 1060.9 L614.1 1062.8 L614.3 1064.8 L614.5 1067 L614.7 1069.2 L614.9 1071.5 L615.1 1073.9 L615.3 1076.2 L615.5 1078.5 L615.7 1080.7 L616 1082.8 L616.2 1084.8 L616.4 1086.6 L616.6 1088.2 L616.8 1089.6 L617 1090.7 L617.2 1091.6 L617.4 1092.3 L617.6 1092.6 L617.8 1092.7 L618 1092.5 L618.2 1092 L618.4 1091.3 L618.6 1090.2 L618.8 1089 L619 1087.5 L619.2 1085.8 L619.4 1083.9 L619.6 1081.8 L619.8 1079.6 L620 1077.4 L620.2 1075 L620.4 1072.7 L620.6 1070.3 L620.8 1068 L621.1 1065.8 L621.3 1063.6 L621.5 1061.7 L621.7 1059.8 L621.9 1058.2 L622.1 1056.8 L622.3 1055.6 L622.5 1054.7 L622.7 1054.1 L622.9 1053.8 L623.1 1053.7 L623.3 1053.9 L623.5 1054.5 L623.7 1055.3 L623.9 1056.3 L624.1 1057.6 L624.3 1059.2 L624.5 1061 L624.7 1062.9 L624.9 1065 L625.1 1067.2 L625.3 1069.5 L625.5 1071.9 L625.7 1074.3 L625.9 1076.7 L626.2 1079 L626.4 1081.2 L626.6 1083.4 L626.8 1085.3 L627 1087.1 L627.2 1088.7 L627.4 1090 L627.6 1091.1 L627.8 1091.9 L628 1092.4 L628.2 1092.7 L628.4 1092.6 L628.6 1092.3 L628.8 1091.6 L629 1090.7 L629.2 1089.5 L629.4 1088.1 L629.6 1086.4 L629.8 1084.5 L630 1082.5 L630.2 1080.3 L630.4 1078 L630.6 1075.6 L630.8 1073.2 L631 1070.8 L631.3 1068.4 L631.5 1066.1 L631.7 1063.9 L631.9 1061.8 L632.1 1060 L632.3 1058.3 L632.5 1056.8 L632.7 1055.7 L632.9 1054.7 L633.1 1054.1 L633.3 1053.8 L633.5 1053.7 L633.7 1054 L633.9 1054.6 L634.1 1055.4 L634.3 1056.5 L634.5 1057.9 L634.7 1059.6 L634.9 1061.4 L635.1 1063.5 L635.3 1065.6 L635.5 1068 L635.7 1070.3 L635.9 1072.8 L636.1 1075.2 L636.4 1077.6 L636.6 1080 L636.8 1082.2 L637 1084.3 L637.2 1086.2 L637.4 1088 L637.6 1089.4 L637.8 1090.7 L638 1091.6 L638.2 1092.3 L638.4 1092.6 L638.6 1092.7 L638.8 1092.4 L639 1091.9 L639.2 1091 L639.4 1089.8 L639.6 1088.4 L639.8 1086.8 L640 1084.9 L640.2 1082.8 L640.4 1080.6 L640.6 1078.3 L640.8 1075.8 L641 1073.4 L641.2 1070.9 L641.5 1068.5 L641.7 1066.1 L641.9 1063.9 L642.1 1061.8 L642.3 1059.9 L642.5 1058.2 L642.7 1056.7 L642.9 1055.5 L643.1 1054.6 L643.3 1054 L643.5 1053.7 L643.7 1053.8 L643.9 1054.1 L644.1 1054.8 L644.3 1055.7 L644.5 1056.9 L644.7 1058.5 L644.9 1060.2 L645.1 1062.2 L645.3 1064.3 L645.5 1066.6 L645.7 1069 L645.9 1071.5 L646.1 1074 L646.3 1076.5 L646.6 1078.9 L646.8 1081.2 L647 1083.4 L647.2 1085.5 L647.4 1087.3 L647.6 1088.9 L647.8 1090.3 L648 1091.3 L648.2 1092.1 L648.4 1092.6 L648.6 1092.7 L648.8 1092.5 L649 1092 L649.2 1091.2 L649.4 1090 L649.6 1088.6 L649.8 1087 L650 1085.1 L650.2 1083 L650.4 1080.7 L650.6 1078.3 L650.8 1075.9 L651 1073.4 L651.2 1070.8 L651.4 1068.3 L651.7 1065.9 L651.9 1063.7 L652.1 1061.5 L652.3 1059.6 L652.5 1057.9 L652.7 1056.5 L652.9 1055.3 L653.1 1054.5 L653.3 1053.9 L653.5 1053.7 L653.7 1053.8 L653.9 1054.3 L654.1 1055 L654.3 1056.1 L654.5 1057.5 L654.7 1059.1 L654.9 1061 L655.1 1063.1 L655.3 1065.3 L655.5 1067.7 L655.7 1070.2 L655.9 1072.8 L656.1 1075.3 L656.3 1077.8 L656.5 1080.3 L656.8 1082.6 L657 1084.7 L657.2 1086.7 L657.4 1088.4 L657.6 1089.9 L657.8 1091.1 L658 1091.9 L658.2 1092.5 L658.4 1092.7 L658.6 1092.6 L658.8 1092.1 L659 1091.3 L659.2 1090.2 L659.4 1088.8 L659.6 1087.2 L659.8 1085.3 L660 1083.1 L660.2 1080.8 L660.4 1078.4 L660.6 1075.9 L660.8 1073.3 L661 1070.7 L661.2 1068.2 L661.4 1065.8 L661.6 1063.4 L661.9 1061.3 L662.1 1059.4 L662.3 1057.7 L662.5 1056.2 L662.7 1055.1 L662.9 1054.3 L663.1 1053.8 L663.3 1053.7 L663.5 1053.9 L663.7 1054.5 L663.9 1055.3 L664.1 1056.5 L664.3 1058 L664.5 1059.8 L664.7 1061.8 L664.9 1064 L665.1 1066.4 L665.3 1068.9 L665.5 1071.5 L665.7 1074.1 L665.9 1076.6 L666.1 1079.2 L666.3 1081.6 L666.5 1083.9 L666.7 1085.9 L667 1087.8 L667.2 1089.4 L667.4 1090.7 L667.6 1091.7 L667.8 1092.4 L668 1092.7 L668.2 1092.6 L668.4 1092.3 L668.6 1091.5 L668.8 1090.5 L669 1089.1 L669.2 1087.4 L669.4 1085.5 L669.6 1083.4 L669.8 1081 L670 1078.6 L670.2 1076 L670.4 1073.4 L670.6 1070.8 L670.8 1068.2 L671 1065.7 L671.2 1063.3 L671.4 1061.2 L671.6 1059.2 L671.8 1057.5 L672.1 1056.1 L672.3 1055 L672.5 1054.2 L672.7 1053.8 L672.9 1053.7 L673.1 1054 L673.3 1054.7 L673.5 1055.6 L673.7 1056.9 L673.9 1058.5 L674.1 1060.4 L674.3 1062.5 L674.5 1064.9 L674.7 1067.3 L674.9 1069.9 L675.1 1072.5 L675.3 1075.2 L675.5 1077.8 L675.7 1080.3 L675.9 1082.7 L676.1 1085 L676.3 1087 L676.5 1088.7 L676.7 1090.2 L676.9 1091.3 L677.2 1092.1 L677.4 1092.6 L677.6 1092.7 L677.8 1092.4 L678 1091.8 L678.2 1090.8 L678.4 1089.5 L678.6 1087.9 L678.8 1086 L679 1083.9 L679.2 1081.5 L679.4 1079 L679.6 1076.4 L679.8 1073.8 L680 1071.1 L680.2 1068.4 L680.4 1065.9 L680.6 1063.5 L680.8 1061.3 L681 1059.2 L681.2 1057.5 L681.4 1056.1 L681.6 1054.9 L681.8 1054.2 L682 1053.8 L682.3 1053.7 L682.5 1054.1 L682.7 1054.8 L682.9 1055.8 L683.1 1057.2 L683.3 1058.9 L683.5 1060.8 L683.7 1063 L683.9 1065.4 L684.1 1068 L684.3 1070.6 L684.5 1073.3 L684.7 1076 L684.9 1078.7 L685.1 1081.2 L685.3 1083.6 L685.5 1085.8 L685.7 1087.7 L685.9 1089.4 L686.1 1090.7 L686.3 1091.7 L686.5 1092.4 L686.7 1092.7 L686.9 1092.6 L687.1 1092.1 L687.4 1091.3 L687.6 1090.1 L687.8 1088.6 L688 1086.8 L688.2 1084.7 L688.4 1082.4 L688.6 1079.9 L688.8 1077.3 L689 1074.6 L689.2 1071.8 L689.4 1069.1 L689.6 1066.5 L689.8 1064 L690 1061.7 L690.2 1059.6 L690.4 1057.8 L690.6 1056.3 L690.8 1055.1 L691 1054.2 L691.2 1053.8 L691.4 1053.7 L691.6 1054 L691.8 1054.7 L692 1055.8 L692.2 1057.2 L692.5 1058.9 L692.7 1060.9 L692.9 1063.1 L693.1 1065.6 L693.3 1068.2 L693.5 1070.9 L693.7 1073.6 L693.9 1076.4 L694.1 1079.1 L694.3 1081.6 L694.5 1084 L694.7 1086.2 L694.9 1088.1 L695.1 1089.7 L695.3 1091 L695.5 1092 L695.7 1092.5 L695.9 1092.7 L696.1 1092.5 L696.3 1091.9 L696.5 1090.9 L696.7 1089.5 L696.9 1087.9 L697.1 1085.9 L697.3 1083.7 L697.6 1081.2 L697.8 1078.6 L698 1075.9 L698.2 1073.2 L698.4 1070.4 L698.6 1067.7 L698.8 1065.1 L699 1062.6 L699.2 1060.4 L699.4 1058.4 L699.6 1056.8 L699.8 1055.4 L700 1054.5 L700.2 1053.9 L700.4 1053.7 L700.6 1053.9 L700.8 1054.5 L701 1055.5 L701.2 1056.8 L701.4 1058.5 L701.6 1060.5 L701.8 1062.8 L702 1065.2 L702.2 1067.8 L702.4 1070.6 L702.7 1073.4 L702.9 1076.2 L703.1 1078.9 L703.3 1081.5 L703.5 1084 L703.7 1086.2 L703.9 1088.1 L704.1 1089.8 L704.3 1091.1 L704.5 1092 L704.7 1092.6 L704.9 1092.7 L705.1 1092.4 L705.3 1091.8 L705.5 1090.7 L705.7 1089.3 L705.9 1087.5 L706.1 1085.5 L706.3 1083.2 L706.5 1080.7 L706.7 1078 L706.9 1075.2 L707.1 1072.4 L707.3 1069.6 L707.5 1066.8 L707.8 1064.2 L708 1061.8 L708.2 1059.7 L708.4 1057.8 L708.6 1056.2 L708.8 1055 L709 1054.2 L709.2 1053.8 L709.4 1053.7 L709.6 1054.1 L709.8 1055 L710 1056.1 L710.2 1057.7 L710.4 1059.6 L710.6 1061.7 L710.8 1064.2 L711 1066.8 L711.2 1069.5 L711.4 1072.3 L711.6 1075.2 L711.8 1078 L712 1080.7 L712.2 1083.2 L712.4 1085.6 L712.6 1087.6 L712.9 1089.4 L713.1 1090.8 L713.3 1091.8 L713.5 1092.5 L713.7 1092.7 L713.9 1092.5 L714.1 1091.9 L714.3 1090.9 L714.5 1089.5 L714.7 1087.7 L714.9 1085.7 L715.1 1083.3 L715.3 1080.8 L715.5 1078.1 L715.7 1075.2 L715.9 1072.4 L716.1 1069.5 L716.3 1066.7 L716.5 1064.1 L716.7 1061.7 L716.9 1059.5 L717.1 1057.6 L717.3 1056 L717.5 1054.9 L717.7 1054.1 L718 1053.7 L718.2 1053.8 L718.4 1054.3 L718.6 1055.2 L718.8 1056.5 L719 1058.1 L719.2 1060.1 L719.4 1062.4 L719.6 1064.9 L719.8 1067.6 L720 1070.4 L720.2 1073.3 L720.4 1076.2 L720.6 1079 L720.8 1081.7 L721 1084.2 L721.2 1086.5 L721.4 1088.5 L721.6 1090.1 L721.8 1091.4 L722 1092.2 L722.2 1092.6 L722.4 1092.6 L722.6 1092.2 L722.8 1091.4 L723.1 1090.1 L723.3 1088.5 L723.5 1086.5 L723.7 1084.2 L724.8 1073.2 L761.2 1073.2" fill="none" stroke="#000" stroke-width="1.9" stroke-linejoin="round" stroke-linecap="butt"/>
<path d="M179.8 1131.4 L180.8 1138.5 L181.8 1136.3 L182.8 1140 L183.8 1142.8 L184.8 1147.2 L185.8 1143.3 L186.8 1135.1 L187.8 1136.4 L188.8 1139.5 L189.8 1144.4 L190.8 1143.9 L191.8 1146.6 L192.8 1144.5 L193.8 1140.7 L194.8 1143.7 L195.8 1139.1 L196.8 1140.8 L197.8 1137.8 L198.8 1137.5 L199.8 1139.9 L200.8 1143 L201.8 1138.3 L202.8 1138.7 L203.8 1139.4 L204.8 1136.1 L205.8 1133 L206.8 1133.4 L207.8 1131.1 L208.8 1131.9 L209.8 1128.7 L210.8 1130.3 L211.8 1126.7 L212.8 1122.3 L213.8 1120.4 L214.8 1120.7 L215.8 1119.4 L216.8 1120.5 L217.8 1122.8 L218.8 1120.1 L219.8 1120.6 L220.8 1121.1 L221.8 1117.4 L222.8 1122.4 L223.8 1115.9 L224.8 1118.4 L225.8 1112.7 L226.8 1116.2 L227.8 1121.6 L228.8 1122.6 L229.8 1124 L230.8 1123.7 L231.8 1124.3 L232.8 1121 L233.8 1124.5 L234.8 1119 L235.8 1111.8 L236.8 1113.8 L237.8 1115.7 L238.8 1120.8 L239.8 1122.3 L240.8 1124.9 L241.8 1126.5 L242.8 1120.6 L243.8 1122.3 L244.8 1127.2 L245.8 1127.9 L246.8 1130.2 L247.8 1128.3 L248.8 1127.2 L249.8 1121.5 L250.8 1119.5 L251.8 1123.4 L252.8 1133.9 L253.8 1139.5 L254.8 1139.2 L255.8 1140.7 L256.8 1144.7 L257.8 1145.7 L258.8 1144.6 L259.8 1149.2 L260.8 1147.1 L261.8 1149.8 L262.8 1153.2 L263.8 1154.4 L264.8 1154.5 L265.8 1149.7 L266.8 1157.4 L267.8 1154.9 L268.8 1155.9 L269.8 1155.9 L270.8 1156.9 L271.8 1156.2 L272.8 1150.5 L273.8 1150.1 L274.8 1148.8 L275.8 1148.4 L276.8 1148.4 L277.8 1149.8 L278.8 1149.5 L279.8 1143.1 L280.8 1142.9 L281.8 1139.2 L282.8 1135.2 L283.8 1135.5 L284.8 1130.2 L285.8 1133.5 L286.8 1125.3 L287.8 1118.7 L288.8 1117.3 L289.8 1116.1 L290.8 1117.1 L291.8 1118 L292.8 1116.3 L293.8 1120.5 L294.8 1116.3 L295.8 1124.3 L296.8 1120.9 L297.8 1123.8 L298.8 1126.3 L299.8 1131.9 L300.8 1134.1 L301.8 1131 L302.8 1131.7 L303.8 1130.9 L304.8 1138.1 L305.8 1134.9 L306.8 1144.9 L307.8 1148.3 L308.8 1150.9 L309.8 1158 L310.8 1161 L311.8 1164.3 L312.8 1163.6 L313.8 1159.1 L314.8 1156.2 L315.8 1146.4 L316.8 1143.3 L317.8 1134.8 L318.8 1133.6 L319.8 1132 L320.8 1133.1 L321.8 1132 L322.8 1121.8 L323.8 1113 L324.8 1105.9 L325.8 1106.3 L326.8 1105.1 L327.8 1101.9 L328.8 1103.6 L329.8 1107.9 L330.8 1114.7 L331.8 1118.8 L332.8 1119.6 L333.8 1124.3 L334.8 1128.8 L335.8 1132.6 L336.8 1140.7 L337.8 1143.4 L338.8 1153.8 L339.8 1159.5 L340.8 1161.6 L341.8 1162.2 L342.8 1161.3 L343.8 1160.7 L344.8 1156.7 L345.8 1156.5 L346.8 1150.5 L347.8 1144.8 L348.8 1142 L349.8 1136 L350.8 1138.5 L351.8 1133 L352.8 1121.5 L353.8 1116 L354.8 1110.4 L355.8 1110.3 L356.8 1109.5 L357.8 1108.6 L358.8 1107.6 L359.8 1110.1 L360.8 1108.9 L361.8 1107.6 L362.8 1111.9 L363.8 1115.2 L364.8 1128.7 L365.8 1140.6 L366.8 1147.7 L367.8 1156.6 L368.8 1160.2 L369.8 1162 L370.8 1164.1 L371.8 1164.6 L372.8 1160.1 L373.8 1158.2 L374.8 1153.2 L375.8 1147.3 L376.8 1139.6 L377.8 1134.1 L378.8 1114.6 L379.8 1109.5 L380.8 1105.7 L381.8 1105.6 L382.8 1105.7 L383.8 1110.9 L384.8 1113.6 L385.8 1119.6 L386.8 1124.8 L387.8 1131.1 L388.8 1142.2 L389.8 1148.8 L390.8 1153.6 L391.8 1158 L392.8 1164 L393.8 1166.1 L394.8 1168 L395.8 1158.2 L396.8 1155.7 L397.8 1151.6 L398.8 1145.6 L399.8 1138.6 L400.8 1125.7 L401.8 1117.5 L402.8 1115.8 L403.8 1110.5 L404.8 1111.3 L405.8 1107.3 L406.8 1108.2 L407.8 1114.5 L408.8 1121.5 L409.8 1131.8 L410.8 1137.6 L411.8 1147.3 L412.8 1155.5 L413.8 1159.2 L414.8 1161.1 L415.8 1162.1 L416.8 1159.6 L417.8 1151.7 L418.8 1139.3 L419.8 1133.6 L420.8 1136.8 L421.8 1125.6 L422.8 1117.7 L423.8 1105.9 L424.8 1107.3 L425.8 1110.2 L426.8 1121.2 L427.8 1126.9 L428.8 1126.6 L429.8 1133.5 L430.8 1140.5 L431.8 1154.4 L432.8 1165.1 L433.8 1168.9 L434.8 1169.6 L435.8 1166.1 L436.8 1158.8 L437.8 1149.9 L438.8 1138.4 L439.8 1130 L440.8 1127.3 L441.8 1121.3 L442.8 1121.2 L443.8 1112.6 L444.8 1113.5 L445.8 1113.5 L446.8 1119.3 L447.8 1129 L448.8 1137.7 L449.8 1141.9 L450.8 1147.2 L451.8 1154 L452.8 1157.7 L453.8 1155.2 L454.8 1148 L455.8 1141.8 L456.8 1132.7 L457.8 1130.6 L458.8 1123.3 L459.8 1114.8 L460.8 1106 L461.8 1104.4 L462.8 1109.5 L463.8 1114.2 L464.8 1125.3 L465.8 1135 L466.8 1140.8 L467.8 1141.2 L468.8 1147.8 L469.8 1146.6 L470.8 1155 L471.8 1147.2 L472.8 1142.4 L473.8 1135.6 L474.8 1126.4 L475.8 1121.5 L476.8 1116.4 L477.8 1119.8 L478.8 1119.2 L479.8 1125.7 L480.8 1131.3 L481.8 1141.4 L482.8 1148 L483.8 1150.3 L484.8 1155.5 L485.8 1158.2 L486.8 1157.3 L487.8 1149.1 L488.8 1144.5 L489.8 1135 L490.8 1127 L491.8 1122.8 L492.8 1116.2 L493.8 1106 L494.8 1111.4 L495.8 1121.9 L496.8 1129.9 L497.8 1141.9 L498.8 1150.1 L499.8 1159.2 L500.8 1162.2 L501.8 1156.7 L502.8 1149.8 L503.8 1142 L504.8 1136.6 L505.8 1130.5 L506.8 1125.9 L507.8 1118.7 L508.8 1118.5 L509.8 1118.3 L510.8 1128.8 L511.8 1132.8 L512.8 1143.9 L513.8 1145.4 L514.8 1150.9 L515.8 1153 L516.8 1149.7 L517.8 1140.2 L518.8 1137.1 L519.8 1130.4 L520.8 1127.9 L521.8 1121 L522.8 1117.8 L523.8 1116.4 L524.8 1124.4 L525.8 1129.2 L526.8 1136 L527.8 1147.1 L528.8 1154.6 L529.8 1153.9 L530.8 1151.2 L531.8 1143.3 L532.8 1137.5 L533.8 1122.9 L534.8 1122 L535.8 1123.8 L536.8 1124.8 L537.8 1134.1 L538.8 1139.3 L539.8 1144.9 L540.8 1146.7 L541.8 1146.1 L542.8 1146.5 L543.8 1141 L544.8 1137.8 L545.8 1142 L546.8 1134.4 L547.8 1122.4 L548.8 1121.4 L549.8 1122 L550.8 1131.8 L551.8 1140.9 L552.8 1146.7 L553.8 1147.9 L554.8 1153.4 L555.8 1152.6 L556.8 1147.7 L557.8 1143 L558.8 1133.4 L559.8 1128.2 L560.8 1118.7 L561.8 1111.1 L562.8 1116.2 L563.8 1122 L564.8 1125 L565.8 1130.9 L566.8 1144.7 L567.8 1150.2 L568.8 1141.9 L569.8 1133.5 L570.8 1130.8 L571.8 1123.6 L572.8 1123.8 L573.8 1123.4 L574.8 1123.6 L575.8 1129.9 L576.8 1135.9 L577.8 1145.3 L578.8 1146.8 L579.8 1147 L580.8 1143.9 L581.8 1139.4 L582.8 1135.2 L583.8 1131.2 L584.8 1123.3 L585.8 1124.2 L586.8 1126.1 L587.8 1131.7 L588.8 1141.5 L589.8 1142.6 L590.8 1147.2 L591.8 1147.9 L592.8 1149 L593.8 1141.9 L594.8 1131.2 L595.8 1126.8 L596.8 1125.1 L597.8 1125.6 L598.8 1127.7 L599.8 1132.9 L600.8 1133.7 L601.8 1143.9 L602.8 1150 L603.8 1148 L604.8 1135.8 L605.8 1129 L606.8 1131 L607.8 1129.1 L608.8 1124.9 L609.8 1130.5 L610.8 1133.1 L611.8 1146.4 L612.8 1149.9 L613.8 1154.4 L614.8 1148.7 L615.8 1138.3 L616.8 1127.8 L617.8 1124.5 L618.8 1119.9 L619.8 1121.6 L620.8 1131.4 L621.8 1143.6 L622.8 1150.2 L623.8 1152.6 L624.8 1148.3 L625.8 1148.8 L626.8 1143.7 L627.8 1141.4 L628.8 1131.9 L629.8 1131.8 L630.8 1130 L631.8 1132.3 L632.8 1131.5 L633.8 1136.4 L634.8 1142.9 L635.8 1144.3 L636.8 1138.6 L637.8 1131.5 L638.8 1123.2 L639.8 1118.8 L640.8 1123.6 L641.8 1129.9 L642.8 1142.5 L643.8 1143.8 L644.8 1149.7 L645.8 1148.5 L646.8 1147.7 L647.8 1145.3 L648.8 1132.9 L649.8 1132.2 L650.8 1126.7 L651.8 1132.8 L652.8 1140.9 L653.8 1142.6 L654.8 1144.5 L655.8 1150.2 L656.8 1149.3 L657.8 1139.8 L658.8 1136.4 L659.8 1130.4 L660.8 1129.7 L661.8 1138.5 L662.8 1144.9 L663.8 1147.2 L664.8 1157.4 L665.8 1154.7 L666.8 1141.9 L667.8 1137.8 L668.8 1127.5 L669.8 1126.1 L670.8 1128.3 L671.8 1133.9 L672.8 1144.6 L673.8 1152.8 L674.8 1147.9 L675.8 1146.7 L676.8 1137.7 L677.8 1133.6 L678.8 1127.4 L679.8 1129.9 L680.8 1127.8 L681.8 1131.1 L682.8 1134.5 L683.8 1139.8 L684.8 1143.7 L685.8 1141.7 L686.8 1135.2 L687.8 1132 L688.8 1125.4 L689.8 1129 L690.8 1135.9 L691.8 1145.3 L692.8 1147.5 L693.8 1150.3 L694.8 1148.2 L695.8 1140.7 L696.8 1133.8 L697.8 1134.6 L698.8 1135.5 L699.8 1141.8 L700.8 1149.4 L701.8 1150.9 L702.8 1153.1 L703.8 1146.8 L704.8 1136.5 L705.8 1130.5 L706.8 1123.4 L707.8 1131.6 L708.8 1133.4 L709.8 1143.1 L710.8 1152.4 L711.8 1152.9 L712.8 1145.6 L713.8 1142.5 L714.8 1138 L715.8 1129.1 L716.8 1127.9 L717.8 1130.5 L718.8 1131.3 L719.8 1136.3 L720.8 1139.5 L721.8 1138.2 L722.8 1131 L723.8 1133.2 L724.8 1132.7 L725.8 1135.7 L726.8 1142.7 L727.8 1141.2 L728.8 1141.5 L729.8 1142.3 L730.8 1142.8 L731.8 1142.1 L732.8 1143.2 L733.8 1142.5 L734.8 1144.9 L735.8 1139.8 L736.8 1140.4 L737.8 1135.1 L738.8 1135.2 L739.8 1126 L740.8 1119.9 L741.8 1127.7 L742.8 1128.4 L743.8 1126.5 L744.8 1125 L745.8 1123.1 L746.8 1122.1 L747.8 1122.9 L748.8 1124.9 L749.8 1123.3 L750.8 1126.1 L751.8 1128.9 L752.8 1133.2 L753.8 1133.4 L754.8 1132.1 L755.8 1134.5 L756.8 1132.9 L757.8 1136 L758.8 1140.1 L759.8 1136.5 L760.8 1136.2 L760.8 1148.9 L759.8 1146.1 L758.8 1149.8 L757.8 1148.1 L756.8 1146.1 L755.8 1147.3 L754.8 1144.1 L753.8 1144.1 L752.8 1141.9 L751.8 1137.3 L750.8 1135.7 L749.8 1133.6 L748.8 1133.8 L747.8 1131.8 L746.8 1137 L745.8 1146.5 L744.8 1147.9 L743.8 1146.6 L742.8 1147.6 L741.8 1141.3 L740.8 1133.1 L739.8 1142.8 L738.8 1155.5 L737.8 1155.8 L736.8 1160.3 L735.8 1155.9 L734.8 1157.1 L733.8 1152.6 L732.8 1152.7 L731.8 1151.9 L730.8 1153.7 L729.8 1155.1 L728.8 1157.5 L727.8 1157.5 L726.8 1158.8 L725.8 1148.8 L724.8 1144.3 L723.8 1145.9 L722.8 1149.1 L721.8 1157.2 L720.8 1158.6 L719.8 1155.3 L718.8 1150.4 L717.8 1146.6 L716.8 1138.8 L715.8 1138 L714.8 1147.5 L713.8 1154 L712.8 1157.6 L711.8 1163.6 L710.8 1162.6 L709.8 1154.6 L708.8 1145.8 L707.8 1144.9 L706.8 1139.6 L705.8 1149.1 L704.8 1153.6 L703.8 1161 L702.8 1169.1 L701.8 1169.9 L700.8 1168.4 L699.8 1160.9 L698.8 1155.1 L697.8 1151.1 L696.8 1146.9 L695.8 1151.1 L694.8 1156.5 L693.8 1158.6 L692.8 1157.6 L691.8 1157.1 L690.8 1148.3 L689.8 1140.4 L688.8 1135.7 L687.8 1141.6 L686.8 1144.5 L685.8 1151.3 L684.8 1154.7 L683.8 1153.5 L682.8 1152.3 L681.8 1147.7 L680.8 1139.8 L679.8 1138.2 L678.8 1136.4 L677.8 1145.7 L676.8 1150.5 L675.8 1158 L674.8 1159.3 L673.8 1166.9 L672.8 1160.8 L671.8 1152.8 L670.8 1151 L669.8 1152.1 L668.8 1151.6 L667.8 1157.2 L666.8 1154.6 L665.8 1164.1 L664.8 1167.9 L663.8 1160.5 L662.8 1158 L661.8 1149.2 L660.8 1140.5 L659.8 1146.8 L658.8 1158.6 L657.8 1160.3 L656.8 1168.3 L655.8 1168.7 L654.8 1164.2 L653.8 1163.4 L652.8 1161.5 L651.8 1150.6 L650.8 1141.4 L649.8 1143.8 L648.8 1142.8 L647.8 1154.2 L646.8 1156.5 L645.8 1158.8 L644.8 1161.4 L643.8 1155.9 L642.8 1154.4 L641.8 1142.9 L640.8 1141.2 L639.8 1137.9 L638.8 1141.3 L637.8 1147.7 L636.8 1154.5 L635.8 1160.8 L634.8 1160.7 L633.8 1155.7 L632.8 1151.9 L631.8 1149.4 L630.8 1143.3 L629.8 1141.6 L628.8 1140.2 L627.8 1149.4 L626.8 1152.1 L625.8 1158.3 L624.8 1159.5 L623.8 1165.9 L622.8 1163.8 L621.8 1159.3 L620.8 1152 L619.8 1145.8 L618.8 1140.2 L617.8 1143.5 L616.8 1147.6 L615.8 1158.5 L614.8 1164.6 L613.8 1165.8 L612.8 1158.8 L611.8 1155.4 L610.8 1144.3 L609.8 1145.1 L608.8 1143.4 L607.8 1148.1 L606.8 1153.1 L605.8 1154.5 L604.8 1159.5 L603.8 1167.8 L602.8 1170.1 L601.8 1168.4 L600.8 1154.8 L599.8 1147.7 L598.8 1138.1 L597.8 1135.2 L596.8 1135.2 L595.8 1137.8 L594.8 1143.5 L593.8 1153.7 L592.8 1158.9 L591.8 1156.1 L590.8 1156.6 L589.8 1155 L588.8 1153.9 L587.8 1142.6 L586.8 1134.7 L585.8 1132.7 L584.8 1132 L583.8 1139.7 L582.8 1145.7 L581.8 1154.3 L580.8 1163.4 L579.8 1166.1 L578.8 1160.5 L577.8 1155.4 L576.8 1145.9 L575.8 1140.8 L574.8 1133.5 L573.8 1131.9 L572.8 1133.7 L571.8 1137.4 L570.8 1146.3 L569.8 1147.7 L568.8 1155 L567.8 1164.6 L566.8 1164.7 L565.8 1159.8 L564.8 1152.7 L563.8 1146.6 L562.8 1136.7 L561.8 1130.1 L560.8 1133.2 L559.8 1139.5 L558.8 1142.6 L557.8 1152.4 L556.8 1160.6 L555.8 1167.2 L554.8 1165.6 L553.8 1158.6 L552.8 1158.8 L551.8 1153.5 L550.8 1144.7 L549.8 1138.2 L548.8 1142.6 L547.8 1144 L546.8 1151.8 L545.8 1159.8 L544.8 1162.3 L543.8 1163.4 L542.8 1166.5 L541.8 1165.8 L540.8 1160.1 L539.8 1155.3 L538.8 1148.6 L537.8 1142.4 L536.8 1133.1 L535.8 1134.5 L534.8 1137.6 L533.8 1143.1 L532.8 1159.2 L531.8 1162.3 L530.8 1166.9 L529.8 1166.5 L528.8 1166.7 L527.8 1161.5 L526.8 1154.2 L525.8 1149.7 L524.8 1144.7 L523.8 1136.2 L522.8 1133.5 L521.8 1132.9 L520.8 1138.7 L519.8 1140.8 L518.8 1147.9 L517.8 1150 L516.8 1160 L515.8 1163.8 L514.8 1162.7 L513.8 1158.1 L512.8 1155.7 L511.8 1143.8 L510.8 1139.6 L509.8 1128.6 L508.8 1128.4 L507.8 1128.2 L506.8 1135 L505.8 1139.7 L504.8 1147.7 L503.8 1156.6 L502.8 1167.4 L501.8 1175.9 L500.8 1181.7 L499.8 1177.6 L498.8 1169.6 L497.8 1163.6 L496.8 1153.4 L495.8 1143.2 L494.8 1131 L493.8 1125 L492.8 1130.7 L491.8 1137.1 L490.8 1141.2 L489.8 1146.9 L488.8 1154.1 L487.8 1158 L486.8 1167.6 L485.8 1169.4 L484.8 1167.4 L483.8 1163 L482.8 1162.6 L481.8 1157 L480.8 1146.7 L479.8 1139.3 L478.8 1130.8 L477.8 1130.6 L476.8 1127.2 L475.8 1132 L474.8 1136.5 L473.8 1144.9 L472.8 1151.1 L471.8 1156.5 L470.8 1166.6 L469.8 1161.5 L468.8 1165 L467.8 1157 L466.8 1153 L465.8 1144.2 L464.8 1134.5 L463.8 1126.7 L462.8 1124.7 L461.8 1120.9 L460.8 1120.2 L459.8 1125.2 L458.8 1131.6 L457.8 1139.5 L456.8 1145.2 L455.8 1158.6 L454.8 1165.7 L453.8 1169.4 L452.8 1169.9 L451.8 1166.6 L450.8 1161.4 L449.8 1154.4 L448.8 1147.3 L447.8 1137.5 L446.8 1129.7 L445.8 1125.6 L444.8 1125.6 L443.8 1122.8 L442.8 1129.7 L441.8 1130.6 L440.8 1140.8 L439.8 1148.3 L438.8 1158.8 L437.8 1167.7 L436.8 1171.2 L435.8 1177 L434.8 1180.5 L433.8 1180.2 L432.8 1176.5 L431.8 1168 L430.8 1158.7 L429.8 1153.9 L428.8 1142.8 L427.8 1137 L426.8 1130.3 L425.8 1125.1 L424.8 1127.2 L423.8 1125.5 L422.8 1131.2 L421.8 1135.7 L420.8 1150.3 L419.8 1153 L418.8 1160.7 L417.8 1169 L416.8 1171.6 L415.8 1171.1 L414.8 1169.9 L413.8 1167.5 L412.8 1164.6 L411.8 1159.5 L410.8 1155.9 L409.8 1152.1 L408.8 1141.9 L407.8 1135.6 L406.8 1129.2 L405.8 1127.3 L404.8 1128.1 L403.8 1125.6 L402.8 1129.2 L401.8 1129.3 L400.8 1135.9 L399.8 1148.2 L398.8 1154.4 L397.8 1161.6 L396.8 1168.6 L395.8 1171.6 L394.8 1179 L393.8 1175.8 L392.8 1176.6 L391.8 1173.1 L390.8 1167.3 L389.8 1159.2 L388.8 1151.7 L387.8 1141.3 L386.8 1136.9 L385.8 1134.3 L384.8 1132.5 L383.8 1130.2 L382.8 1128.7 L381.8 1135.6 L380.8 1135.7 L379.8 1139.5 L378.8 1137.7 L377.8 1146.3 L376.8 1147.8 L375.8 1156.2 L374.8 1163.4 L373.8 1168.6 L372.8 1170.5 L371.8 1174.6 L370.8 1173.1 L369.8 1170.4 L368.8 1168.2 L367.8 1165.4 L366.8 1157.7 L365.8 1152.5 L364.8 1144.9 L363.8 1134.2 L362.8 1131 L361.8 1125 L360.8 1123.6 L359.8 1122.8 L358.8 1118 L357.8 1117.3 L356.8 1118.1 L355.8 1120.9 L354.8 1124 L353.8 1129.7 L352.8 1132.4 L351.8 1141.9 L350.8 1151.2 L349.8 1155.4 L348.8 1163.8 L347.8 1166.6 L346.8 1170.9 L345.8 1177 L344.8 1177 L343.8 1178.4 L342.8 1174.3 L341.8 1171.6 L340.8 1169.8 L339.8 1167.6 L338.8 1161.9 L337.8 1151.6 L336.8 1149.4 L335.8 1142.1 L334.8 1138.2 L333.8 1133.6 L332.8 1131.7 L331.8 1136.7 L330.8 1135.2 L329.8 1128.3 L328.8 1123 L327.8 1121.2 L326.8 1124.1 L325.8 1125.3 L324.8 1124.9 L323.8 1130.9 L322.8 1133.4 L321.8 1141 L320.8 1142.6 L319.8 1145.3 L318.8 1153.8 L317.8 1162.8 L316.8 1172.1 L315.8 1171.3 L314.8 1177.3 L313.8 1178.7 L312.8 1182.6 L311.8 1183.5 L310.8 1179.1 L309.8 1173.5 L308.8 1165.2 L307.8 1164.8 L306.8 1165.4 L305.8 1157.5 L304.8 1160 L303.8 1151.4 L302.8 1150.5 L301.8 1147.8 L300.8 1150.3 L299.8 1147.6 L298.8 1139 L297.8 1132.3 L296.8 1129.6 L295.8 1135.7 L294.8 1128.7 L293.8 1131.7 L292.8 1127.1 L291.8 1132.3 L290.8 1139.7 L289.8 1141.6 L288.8 1142.3 L287.8 1140.9 L286.8 1144.8 L285.8 1151.3 L284.8 1145 L283.8 1147.3 L282.8 1144.1 L281.8 1147.3 L280.8 1152.3 L279.8 1153.8 L278.8 1161.5 L277.8 1163.5 L276.8 1167.2 L275.8 1170.2 L274.8 1173.4 L273.8 1175.2 L272.8 1167.6 L271.8 1166.6 L270.8 1164.9 L269.8 1164.7 L268.8 1166.7 L267.8 1167.3 L266.8 1171.2 L265.8 1163 L264.8 1166.1 L263.8 1164.9 L262.8 1163.1 L261.8 1160.7 L260.8 1159.5 L259.8 1161.8 L258.8 1155.7 L257.8 1155.3 L256.8 1153.7 L255.8 1149.2 L254.8 1147.8 L253.8 1149.3 L252.8 1147.6 L251.8 1142.5 L250.8 1138.5 L249.8 1140.6 L248.8 1141.2 L247.8 1140.6 L246.8 1145 L245.8 1145.7 L244.8 1142.6 L243.8 1132.9 L242.8 1128.7 L241.8 1135.8 L240.8 1137.8 L239.8 1137.6 L238.8 1136.1 L237.8 1131.7 L236.8 1132 L235.8 1132.8 L234.8 1140.9 L233.8 1146.5 L232.8 1143 L231.8 1145.3 L230.8 1142.1 L229.8 1136.8 L228.8 1131.5 L227.8 1129.8 L226.8 1127.7 L225.8 1129.9 L224.8 1138.2 L223.8 1136 L222.8 1138.8 L221.8 1129.4 L220.8 1130.6 L219.8 1128.8 L218.8 1128.2 L217.8 1131.2 L216.8 1130.5 L215.8 1132.8 L214.8 1136.2 L213.8 1136 L212.8 1135.3 L211.8 1137.5 L210.8 1139.1 L209.8 1136.8 L208.8 1140.3 L207.8 1139.7 L206.8 1142.2 L205.8 1141.7 L204.8 1145.8 L203.8 1151.8 L202.8 1153.7 L201.8 1153.9 L200.8 1156.6 L199.8 1150.5 L198.8 1146.8 L197.8 1147.3 L196.8 1152.9 L195.8 1157.5 L194.8 1164.7 L193.8 1161.7 L192.8 1165.1 L191.8 1166.6 L190.8 1162.9 L189.8 1158.4 L188.8 1157.9 L187.8 1159.6 L186.8 1159.8 L185.8 1163.2 L184.8 1159.7 L183.8 1155.3 L182.8 1156.8 L181.8 1155 L180.8 1156.7 L179.8 1150.4Z" fill="#b4b4b4"/>
<path d="M179.8 1146.4 L180.8 1152.5 L181.8 1150.1 L182.8 1150.7 L183.8 1148.3 L184.8 1151.7 L185.8 1154.1 L186.8 1150.1 L187.8 1151.4 L188.8 1150.7 L189.8 1149.7 L190.8 1147.9 L191.8 1151.6 L192.8 1150.1 L193.8 1146.7 L194.8 1149.7 L195.8 1145.2 L196.8 1146.4 L197.8 1142.7 L198.8 1141.7 L199.8 1143.9 L200.8 1147.5 L201.8 1143.4 L202.8 1144.4 L203.8 1144.6 L204.8 1141 L205.8 1137.7 L206.8 1138.2 L207.8 1135.7 L208.8 1136.3 L209.8 1132.7 L210.8 1135 L211.8 1133.1 L212.8 1129.7 L213.8 1127.9 L214.8 1127.1 L215.8 1125.5 L216.8 1125.6 L217.8 1127.2 L218.8 1124.1 L219.8 1124.8 L220.8 1125.2 L221.8 1121.5 L222.8 1128.3 L223.8 1125.2 L224.8 1128.7 L225.8 1122.1 L226.8 1122.1 L227.8 1125.7 L228.8 1126.8 L229.8 1128.7 L230.8 1128.7 L231.8 1130.3 L232.8 1128 L233.8 1133.1 L234.8 1130.3 L235.8 1125.3 L236.8 1127.2 L237.8 1127.5 L238.8 1128.9 L239.8 1127.7 L240.8 1129.1 L241.8 1130.5 L242.8 1124.6 L243.8 1126.4 L244.8 1132 L245.8 1133.1 L246.8 1134.5 L247.8 1133 L248.8 1136.3 L249.8 1136.5 L250.8 1134.5 L251.8 1138.4 L252.8 1143.2 L253.8 1144.7 L254.8 1143.2 L255.8 1144.9 L256.8 1149.6 L257.8 1151.3 L258.8 1151.6 L259.8 1157.4 L260.8 1155.3 L261.8 1156.6 L262.8 1158.8 L263.8 1159.7 L264.8 1160.5 L265.8 1157.7 L266.8 1166.5 L267.8 1163.2 L268.8 1162.7 L269.8 1160.6 L270.8 1160.9 L271.8 1161.4 L272.8 1158.3 L273.8 1160.2 L274.8 1158.4 L275.8 1155.2 L276.8 1152.9 L277.8 1153.9 L278.8 1154.9 L279.8 1148.7 L280.8 1148 L281.8 1143.3 L282.8 1139.5 L283.8 1140.6 L284.8 1135.2 L285.8 1137.6 L286.8 1129.8 L287.8 1125.9 L288.8 1127.3 L289.8 1126.6 L290.8 1125.5 L291.8 1123.3 L292.8 1120.3 L293.8 1124.9 L294.8 1121.2 L295.8 1128.8 L296.8 1125 L297.8 1127.8 L298.8 1130.3 L299.8 1136.6 L300.8 1140.8 L301.8 1141.3 L302.8 1145.2 L303.8 1145.9 L304.8 1153.1 L305.8 1149.9 L306.8 1159.6 L307.8 1160.7 L308.8 1160.3 L309.8 1165 L310.8 1165.9 L311.8 1168.5 L312.8 1167.6 L313.8 1163.7 L314.8 1162.3 L315.8 1156.3 L316.8 1157.1 L317.8 1149.8 L318.8 1146.9 L319.8 1141.1 L320.8 1138.3 L321.8 1136.1 L322.8 1129.3 L323.8 1126.9 L324.8 1120.9 L325.8 1121.3 L326.8 1120.1 L327.8 1116.9 L328.8 1116.5 L329.8 1115.5 L330.8 1120.2 L331.8 1123.9 L332.8 1124.9 L333.8 1129.5 L334.8 1133.6 L335.8 1137.1 L336.8 1144.8 L337.8 1147.5 L338.8 1157.9 L339.8 1163.5 L340.8 1165.8 L341.8 1167.4 L342.8 1168.2 L343.8 1169.1 L344.8 1165.7 L345.8 1166.5 L346.8 1163 L347.8 1159.8 L348.8 1157 L349.8 1148.6 L350.8 1145 L351.8 1137.1 L352.8 1128.4 L353.8 1125.5 L354.8 1119.5 L355.8 1116.6 L356.8 1114.1 L357.8 1112.6 L358.8 1111.8 L359.8 1115.1 L360.8 1116.6 L361.8 1120.1 L362.8 1126.9 L363.8 1130.2 L364.8 1140.8 L365.8 1147.7 L366.8 1152.2 L367.8 1160.7 L368.8 1164.2 L369.8 1166 L370.8 1168.1 L371.8 1168.6 L372.8 1164.1 L373.8 1162.5 L374.8 1157.9 L375.8 1151.8 L376.8 1143.6 L377.8 1139.9 L378.8 1126.8 L379.8 1124.5 L380.8 1120.7 L381.8 1120.6 L382.8 1113.7 L383.8 1115.2 L384.8 1117.7 L385.8 1123.8 L386.8 1128.8 L387.8 1135.1 L388.8 1146.2 L389.8 1153.1 L390.8 1159 L391.8 1163.4 L392.8 1168.1 L393.8 1170.5 L394.8 1175 L395.8 1166.4 L396.8 1163.1 L397.8 1157.1 L398.8 1150.4 L399.8 1144 L400.8 1131.9 L401.8 1125.1 L402.8 1123 L403.8 1116.9 L404.8 1117.1 L405.8 1113.2 L406.8 1114.2 L407.8 1120.6 L408.8 1126.9 L409.8 1137.1 L410.8 1142.2 L411.8 1151.5 L412.8 1159.5 L413.8 1163.5 L414.8 1165.5 L415.8 1166.1 L416.8 1165.2 L417.8 1161.8 L418.8 1152.5 L419.8 1144.9 L420.8 1142.9 L421.8 1129.7 L422.8 1125.7 L423.8 1120.2 L424.8 1122.3 L425.8 1121 L426.8 1126.2 L427.8 1131.5 L428.8 1135.2 L429.8 1145.3 L430.8 1150.5 L431.8 1160.5 L432.8 1169.4 L433.8 1173 L434.8 1174.5 L435.8 1172.4 L436.8 1167.1 L437.8 1162.6 L438.8 1153.4 L439.8 1143.7 L440.8 1136.8 L441.8 1126.4 L442.8 1125.3 L443.8 1118.4 L444.8 1121.3 L445.8 1121.5 L446.8 1125.6 L447.8 1133.2 L448.8 1142.9 L449.8 1150.3 L450.8 1157.3 L451.8 1161 L452.8 1161.9 L453.8 1160 L454.8 1155.9 L455.8 1150.6 L456.8 1139.7 L457.8 1135.4 L458.8 1127.4 L459.8 1120.9 L460.8 1116.1 L461.8 1116.9 L462.8 1120.7 L463.8 1122.7 L464.8 1130.1 L465.8 1139.5 L466.8 1148.6 L467.8 1152.6 L468.8 1160.6 L469.8 1157.2 L470.8 1162.5 L471.8 1152.5 L472.8 1146.8 L473.8 1140 L474.8 1130.9 L475.8 1126.4 L476.8 1121.4 L477.8 1124.5 L478.8 1123.6 L479.8 1130 L480.8 1135.5 L481.8 1145.9 L482.8 1153 L483.8 1156.4 L484.8 1162.7 L485.8 1165.4 L486.8 1163.6 L487.8 1153.7 L488.8 1148.5 L489.8 1139.1 L490.8 1131.6 L491.8 1128.7 L492.8 1125.4 L493.8 1121 L494.8 1126.4 L495.8 1136.9 L496.8 1144.9 L497.8 1152.4 L498.8 1155.9 L499.8 1163.2 L500.8 1166.8 L501.8 1162.8 L502.8 1157 L503.8 1149.1 L504.8 1142.5 L505.8 1135.6 L506.8 1130.8 L507.8 1123.7 L508.8 1124.1 L509.8 1124.5 L510.8 1135.6 L511.8 1139.8 L512.8 1151.5 L513.8 1153.5 L514.8 1158.3 L515.8 1159.7 L516.8 1155.8 L517.8 1145 L518.8 1141.7 L519.8 1135.1 L520.8 1133.7 L521.8 1128.7 L522.8 1129.5 L523.8 1131.4 L524.8 1139.4 L525.8 1144.2 L526.8 1148.8 L527.8 1155.8 L528.8 1160.9 L529.8 1158.5 L530.8 1155.3 L531.8 1148.8 L532.8 1144.2 L533.8 1129.4 L534.8 1126.8 L535.8 1127.8 L536.8 1128.9 L537.8 1138.2 L538.8 1143.5 L539.8 1150 L540.8 1155.4 L541.8 1161.1 L542.8 1161.5 L543.8 1156 L544.8 1151.7 L545.8 1147.2 L546.8 1139.6 L547.8 1133.9 L548.8 1134.7 L549.8 1130.9 L550.8 1136.4 L551.8 1145.1 L552.8 1152.7 L553.8 1154.6 L554.8 1159.4 L555.8 1157.8 L556.8 1152.5 L557.8 1147.7 L558.8 1138.5 L559.8 1134.5 L560.8 1128.5 L561.8 1126.1 L562.8 1131.2 L563.8 1137 L564.8 1140 L565.8 1144.8 L566.8 1151.3 L567.8 1154.2 L568.8 1147.4 L569.8 1142.6 L570.8 1142 L571.8 1133.3 L572.8 1129.6 L573.8 1127.4 L574.8 1128.7 L575.8 1135.8 L576.8 1141.7 L577.8 1151 L578.8 1153.8 L579.8 1155.9 L580.8 1152.7 L581.8 1145.4 L582.8 1139.5 L583.8 1135.3 L584.8 1127.9 L585.8 1128.7 L586.8 1130.2 L587.8 1135.8 L588.8 1145.8 L589.8 1147.1 L590.8 1151.5 L591.8 1152 L592.8 1153.1 L593.8 1145.9 L594.8 1135.2 L595.8 1130.8 L596.8 1129.1 L597.8 1130 L598.8 1133.8 L599.8 1143.3 L600.8 1146.5 L601.8 1154.1 L602.8 1155.1 L603.8 1152.8 L604.8 1144.5 L605.8 1139.5 L606.8 1138.1 L607.8 1133.1 L608.8 1129.8 L609.8 1137 L610.8 1139.8 L611.8 1151.3 L612.8 1154 L613.8 1160.6 L614.8 1158.3 L615.8 1152.5 L616.8 1142.8 L617.8 1139.5 L618.8 1134.9 L619.8 1136.6 L620.8 1140.3 L621.8 1147.8 L622.8 1155.5 L623.8 1160.1 L624.8 1155.3 L625.8 1154.3 L626.8 1148 L627.8 1145.4 L628.8 1136 L629.8 1136.5 L630.8 1137.1 L631.8 1142.9 L632.8 1146.5 L633.8 1151.4 L634.8 1156.7 L635.8 1155.8 L636.8 1149.2 L637.8 1142.2 L638.8 1136.2 L639.8 1133.2 L640.8 1135.9 L641.8 1136.5 L642.8 1146.7 L643.8 1148 L644.8 1154.6 L645.8 1153.1 L646.8 1151.7 L647.8 1149.4 L648.8 1137.2 L649.8 1136.8 L650.8 1131.8 L651.8 1139 L652.8 1149.1 L653.8 1151.8 L654.8 1152.6 L655.8 1155.3 L656.8 1153.3 L657.8 1145.3 L658.8 1144.3 L659.8 1138.9 L660.8 1136.4 L661.8 1143.2 L662.8 1148.9 L663.8 1151.3 L664.8 1161.4 L665.8 1159.9 L666.8 1149.7 L667.8 1149.3 L668.8 1140.5 L669.8 1138.9 L670.8 1137.9 L671.8 1140.2 L672.8 1149.1 L673.8 1157 L674.8 1152.6 L675.8 1153.6 L676.8 1146.5 L677.8 1141.7 L678.8 1132.4 L679.8 1134 L680.8 1135 L681.8 1142.3 L682.8 1147.1 L683.8 1149.1 L684.8 1150.6 L685.8 1147.3 L686.8 1140.5 L687.8 1137.5 L688.8 1131.3 L689.8 1134.6 L690.8 1141.4 L691.8 1150.1 L692.8 1152.1 L693.8 1154.4 L694.8 1152.2 L695.8 1145.4 L696.8 1139 L697.8 1139.7 L698.8 1140.1 L699.8 1145.9 L700.8 1153.4 L701.8 1154.9 L702.8 1157.7 L703.8 1153.9 L704.8 1148.6 L705.8 1145 L706.8 1135.6 L707.8 1140.8 L708.8 1141.6 L709.8 1150.4 L710.8 1158.6 L711.8 1158.4 L712.8 1150.4 L713.8 1146.8 L714.8 1142.2 L715.8 1133.9 L716.8 1134.6 L717.8 1142.3 L718.8 1146.3 L719.8 1151.3 L720.8 1154.5 L721.8 1153.2 L722.8 1144.9 L723.8 1140.8 L724.8 1137.3 L725.8 1139.7 L726.8 1147.4 L727.8 1146.6 L728.8 1147.7 L729.8 1148 L730.8 1148.2 L731.8 1147.2 L732.8 1148.6 L733.8 1148.4 L734.8 1151.1 L735.8 1145.8 L736.8 1146.2 L737.8 1141.1 L738.8 1143.3 L739.8 1135.4 L740.8 1129.1 L741.8 1134.3 L742.8 1132.6 L743.8 1131.6 L744.8 1132.9 L745.8 1131.5 L746.8 1127.9 L747.8 1127 L748.8 1129.8 L749.8 1129.5 L750.8 1131.5 L751.8 1133 L752.8 1137.5 L753.8 1139.8 L754.8 1139.9 L755.8 1143.2 L756.8 1141.6 L757.8 1142.9 L758.8 1144.4 L759.8 1141.3 L760.8 1144.8" fill="none" stroke="#000" stroke-width="2.0" stroke-linejoin="round" stroke-linecap="butt"/>
<rect x="772.5" y="1120.2" width="7.5" height="43.5" fill="#000"/>
<text transform="translate(787.5 1109.3) rotate(90) scale(1 1.04)">2 SD</text>
<rect x="696.5" y="1169.5" width="67.4" height="7.2" fill="#000"/>
<text transform="translate(733 1204.7) scale(1 1.04)" text-anchor="middle">1 s</text>
</svg>
</body></html>
